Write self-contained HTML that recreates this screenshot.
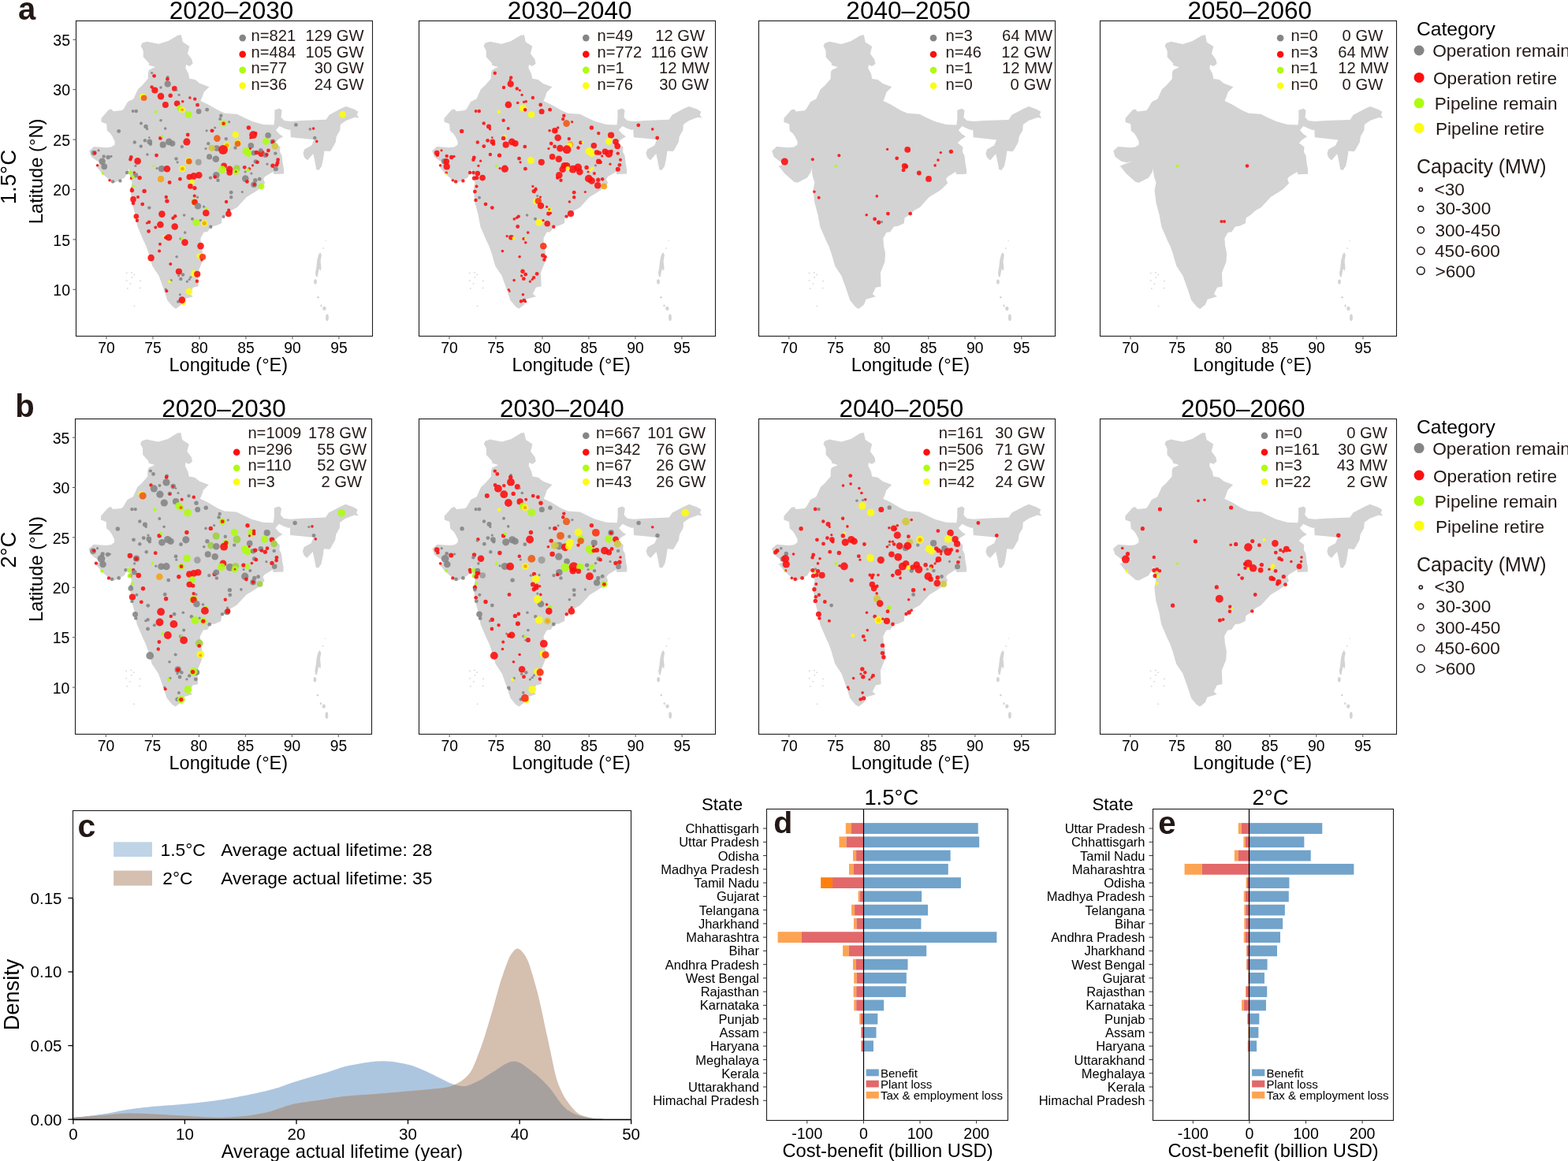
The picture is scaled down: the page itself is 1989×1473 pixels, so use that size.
<!DOCTYPE html>
<html><head><meta charset="utf-8"><title>Figure</title>
<style>html,body{margin:0;padding:0;background:#fff;}svg{display:block;}</style>
</head><body>
<svg width="1989" height="1473" viewBox="0 0 1989 1473" font-family="'Liberation Sans', Arial, Helvetica, sans-serif">
<rect width="1989" height="1473" fill="#fff"/>
<g transform="translate(96.50,26.50)" fill="#d3d3d3">
<path d="M133.4,17.7 L135.3,26.8 L143.8,32.3 L141.4,41.5 L146.9,48.8 L148.1,54.3 L143.8,57.4 L139.5,55.6 L138.9,59.8 L142.6,67.2 L143.8,73.3 L151.1,74.5 L157.3,79.4 L168.9,83.7 L162.1,90.4 L159.7,97.7 L157.9,101.4 L167.0,105.7 L180.5,113.6 L188.8,117.2 L204.0,118.2 L212.2,122.3 L223.4,127.4 L237.6,131.4 L250.9,132.0 L251.9,124.3 L251.9,113.1 L258.0,111.1 L261.1,113.6 L260.0,122.3 L264.1,126.4 L272.3,127.4 L286.5,126.4 L317.1,125.3 L321.1,119.2 L336.4,111.1 L342.5,108.5 L352.7,112.1 L357.8,115.2 L356.3,119.2 L358.8,123.3 L353.7,122.3 L342.5,126.4 L335.4,131.4 L334.9,138.6 L330.3,146.7 L329.3,153.8 L324.2,163.0 L322.2,165.6 L315.0,165.0 L313.5,175.2 L311.5,184.4 L307.9,189.5 L304.8,188.5 L302.3,175.2 L300.8,168.6 L296.7,173.2 L293.6,176.8 L289.6,173.2 L288.0,168.1 L289.6,163.0 L298.7,157.9 L301.8,150.8 L288.6,149.3 L272.3,147.7 L271.8,137.6 L270.2,138.6 L264.1,136.5 L258.0,133.5 L253.4,138.6 L258.0,143.7 L262.6,146.7 L256.0,150.8 L252.4,154.9 L259.0,160.0 L258.5,166.1 L261.1,171.2 L262.1,180.3 L263.6,188.5 L263.6,194.1 L250.9,194.6 L249.9,191.5 L239.7,197.6 L237.6,200.7 L239.7,205.8 L235.6,209.9 L231.5,213.9 L225.4,218.0 L216.3,223.4 L204.5,236.4 L197.3,240.4 L190.5,246.5 L185.1,249.9 L184.4,256.7 L176.9,260.1 L171.5,260.8 L166.8,267.6 L162.0,268.3 L157.9,275.7 L158.6,285.2 L160.6,294.7 L160.0,305.6 L154.5,319.2 L155.2,336.8 L148.4,338.2 L144.4,346.3 L148.4,349.7 L145.7,350.4 L136.2,353.1 L133.5,359.9 L126.7,365.3 L122.6,362.6 L115.8,354.5 L111.8,342.3 L105.0,323.3 L96.8,311.0 L92.1,294.7 L88.7,285.2 L86.0,279.8 L77.8,260.8 L75.1,245.9 L71.0,230.9 L69.0,214.6 L71.0,205.1 L68.3,197.0 L67.0,186.8 L66.3,191.5 L61.5,199.0 L49.3,205.1 L45.2,204.4 L33.0,193.6 L24.9,183.4 L25.3,185.7 L25.9,183.9 L30.2,182.0 L41.2,177.8 L33.8,179.6 L26.5,177.8 L19.2,172.3 L16.7,164.9 L22.8,159.4 L38.1,160.7 L44.8,160.0 L49.1,157.0 L49.1,152.7 L46.0,146.6 L43.6,142.9 L39.3,139.3 L38.7,130.7 L32.0,128.3 L32.0,123.4 L41.2,113.0 L44.8,111.8 L47.3,114.8 L58.3,113.6 L60.7,111.2 L65.6,102.6 L72.9,98.9 L78.4,86.7 L83.9,81.8 L91.3,73.3 L91.3,65.9 L92.5,62.3 L100.4,58.6 L92.5,56.2 L92.5,53.7 L85.2,45.8 L85.2,37.8 L82.1,31.7 L83.9,28.1 L90.0,26.2 L104.7,29.3 L116.9,25.6 L129.1,18.3 Z"/>
<path d="M309.6,293.4 L311.4,296.9 L310.1,304.8 L311.0,312.8 L310.5,317.2 L308.3,314.5 L307.0,320.7 L306.1,325.1 L304.3,324.2 L303.5,319.8 L304.8,312.8 L305.7,304.0 L307.4,296.9 Z"/>
<ellipse cx="303.5" cy="330.9" rx="1.9" ry="3.1"/>
<ellipse cx="307.0" cy="350.7" rx="1.3" ry="1.3"/>
<ellipse cx="314.9" cy="364.8" rx="2.2" ry="2.6"/>
<ellipse cx="318.5" cy="376.3" rx="1.9" ry="4.4"/>
<ellipse cx="311.0" cy="361.3" rx="1.1" ry="1.6"/>
<ellipse cx="313.6" cy="288.5" rx="0.7" ry="1.1"/>
<ellipse cx="316.7" cy="278.8" rx="0.5" ry="0.9"/>
<rect x="63.4" y="319.2" width="1.6" height="1.4"/>
<rect x="69.6" y="318.5" width="1.6" height="1.4"/>
<rect x="72.9" y="321.2" width="1.6" height="1.4"/>
<rect x="70.0" y="324.6" width="1.6" height="1.4"/>
<rect x="63.4" y="328.7" width="1.6" height="1.4"/>
<rect x="68.2" y="332.7" width="1.6" height="1.4"/>
<rect x="80.7" y="329.3" width="1.6" height="1.4"/>
<rect x="64.5" y="338.8" width="1.6" height="1.4"/>
<rect x="80.4" y="338.2" width="1.6" height="1.4"/>
<rect x="73.2" y="361.2" width="1.6" height="1.4"/>
</g>
<g transform="translate(96.50,26.50)">
<circle cx="96.1" cy="66.0" r="1.6" fill="#858585" fill-opacity="0.9"/>
<circle cx="99.1" cy="69.8" r="2.4" fill="#fc0f0f" fill-opacity="0.9"/>
<circle cx="116.2" cy="71.4" r="2.0" fill="#858585" fill-opacity="0.9"/>
<circle cx="115.9" cy="73.9" r="2.4" fill="#fc0f0f" fill-opacity="0.9"/>
<circle cx="116.2" cy="80.1" r="4.1" fill="#858585" fill-opacity="0.9"/>
<circle cx="96.1" cy="83.9" r="2.2" fill="#fc0f0f" fill-opacity="0.9"/>
<circle cx="99.9" cy="88.0" r="4.1" fill="#fc0f0f" fill-opacity="0.9"/>
<circle cx="107.5" cy="84.5" r="1.8" fill="#858585" fill-opacity="0.9"/>
<circle cx="124.8" cy="85.9" r="3.3" fill="#fc0f0f" fill-opacity="0.9"/>
<circle cx="127.6" cy="88.0" r="1.3" fill="#858585" fill-opacity="0.9"/>
<circle cx="107.5" cy="95.6" r="4.3" fill="#fc0f0f" fill-opacity="0.9"/>
<circle cx="119.7" cy="94.8" r="2.7" fill="#fc0f0f" fill-opacity="0.9"/>
<circle cx="130.6" cy="93.9" r="1.6" fill="#858585" fill-opacity="0.9"/>
<circle cx="84.6" cy="95.9" r="3.8" fill="#fcfc12" fill-opacity="0.9"/>
<circle cx="86.1" cy="97.8" r="3.8" fill="#f05a14" fill-opacity="0.9"/>
<circle cx="113.4" cy="106.4" r="4.0" fill="#fc0f0f" fill-opacity="0.9"/>
<circle cx="128.1" cy="104.8" r="3.8" fill="#fc0f0f" fill-opacity="0.9"/>
<circle cx="135.2" cy="102.2" r="1.8" fill="#fc0f0f" fill-opacity="0.9"/>
<circle cx="144.4" cy="97.5" r="1.8" fill="#fc0f0f" fill-opacity="0.9"/>
<circle cx="150.7" cy="99.1" r="2.2" fill="#fc0f0f" fill-opacity="0.9"/>
<circle cx="154.0" cy="106.7" r="2.4" fill="#fc0f0f" fill-opacity="0.9"/>
<circle cx="131.4" cy="110.5" r="3.8" fill="#aefb12" fill-opacity="0.9"/>
<circle cx="134.6" cy="112.7" r="3.8" fill="#fcfc12" fill-opacity="0.9"/>
<circle cx="134.6" cy="112.7" r="2.0" fill="#f5a314" fill-opacity="0.9"/>
<circle cx="142.5" cy="118.9" r="4.3" fill="#aefb12" fill-opacity="0.9"/>
<circle cx="155.6" cy="114.9" r="3.3" fill="#858585" fill-opacity="0.9"/>
<circle cx="166.1" cy="112.7" r="2.4" fill="#858585" fill-opacity="0.9"/>
<circle cx="101.3" cy="115.2" r="2.0" fill="#aefb12" fill-opacity="0.9"/>
<circle cx="72.2" cy="114.5" r="2.0" fill="#858585" fill-opacity="0.9"/>
<circle cx="76.3" cy="114.5" r="2.2" fill="#858585" fill-opacity="0.9"/>
<circle cx="107.5" cy="126.3" r="1.8" fill="#858585" fill-opacity="0.9"/>
<circle cx="82.5" cy="129.9" r="2.0" fill="#858585" fill-opacity="0.9"/>
<circle cx="88.5" cy="133.9" r="2.7" fill="#858585" fill-opacity="0.9"/>
<circle cx="90.1" cy="137.1" r="1.6" fill="#858585" fill-opacity="0.9"/>
<circle cx="113.2" cy="136.6" r="1.8" fill="#858585" fill-opacity="0.9"/>
<circle cx="54.2" cy="139.9" r="2.4" fill="#858585" fill-opacity="0.9"/>
<circle cx="141.7" cy="144.5" r="2.4" fill="#fc0f0f" fill-opacity="0.9"/>
<circle cx="140.4" cy="153.4" r="4.6" fill="#fc0f0f" fill-opacity="0.9"/>
<circle cx="106.9" cy="148.9" r="2.4" fill="#fc0f0f" fill-opacity="0.9"/>
<circle cx="109.1" cy="146.4" r="1.8" fill="#aefb12" fill-opacity="0.9"/>
<circle cx="110.2" cy="157.2" r="4.1" fill="#858585" fill-opacity="0.9"/>
<circle cx="117.8" cy="153.4" r="4.3" fill="#858585" fill-opacity="0.9"/>
<circle cx="122.1" cy="155.6" r="3.8" fill="#858585" fill-opacity="0.9"/>
<circle cx="93.3" cy="153.4" r="3.3" fill="#858585" fill-opacity="0.9"/>
<circle cx="92.8" cy="148.0" r="1.3" fill="#858585" fill-opacity="0.9"/>
<circle cx="94.4" cy="156.2" r="2.2" fill="#858585" fill-opacity="0.9"/>
<circle cx="87.4" cy="151.8" r="2.2" fill="#858585" fill-opacity="0.9"/>
<circle cx="74.3" cy="154.0" r="2.2" fill="#858585" fill-opacity="0.9"/>
<circle cx="82.3" cy="159.1" r="2.2" fill="#858585" fill-opacity="0.9"/>
<circle cx="134.3" cy="159.6" r="2.2" fill="#858585" fill-opacity="0.9"/>
<circle cx="172.3" cy="139.3" r="2.4" fill="#fc0f0f" fill-opacity="0.9"/>
<circle cx="165.6" cy="139.3" r="1.6" fill="#858585" fill-opacity="0.9"/>
<circle cx="167.7" cy="155.6" r="2.2" fill="#858585" fill-opacity="0.9"/>
<circle cx="164.5" cy="162.1" r="1.6" fill="#858585" fill-opacity="0.9"/>
<circle cx="172.1" cy="161.3" r="4.1" fill="#d0c840" fill-opacity="0.9"/>
<circle cx="169.1" cy="172.4" r="3.6" fill="#858585" fill-opacity="0.9"/>
<circle cx="155.3" cy="179.3" r="4.0" fill="#9c9c9c" fill-opacity="0.9"/>
<circle cx="142.8" cy="177.9" r="4.3" fill="#fcfc12" fill-opacity="0.9"/>
<circle cx="143.3" cy="178.2" r="3.8" fill="#f05a14" fill-opacity="0.9"/>
<circle cx="127.0" cy="174.9" r="2.2" fill="#858585" fill-opacity="0.9"/>
<circle cx="128.6" cy="179.3" r="1.6" fill="#858585" fill-opacity="0.9"/>
<circle cx="134.9" cy="187.7" r="4.1" fill="#fcfc12" fill-opacity="0.9"/>
<circle cx="134.9" cy="187.7" r="2.4" fill="#f5a314" fill-opacity="0.9"/>
<circle cx="108.5" cy="187.7" r="4.1" fill="#858585" fill-opacity="0.9"/>
<circle cx="115.4" cy="187.7" r="4.3" fill="#fc0f0f" fill-opacity="0.9"/>
<circle cx="102.6" cy="187.1" r="1.6" fill="#858585" fill-opacity="0.9"/>
<circle cx="98.2" cy="183.8" r="1.6" fill="#aefb12" fill-opacity="0.9"/>
<circle cx="102.0" cy="170.6" r="2.4" fill="#fc0f0f" fill-opacity="0.9"/>
<circle cx="90.4" cy="169.5" r="1.8" fill="#858585" fill-opacity="0.9"/>
<circle cx="69.8" cy="173.0" r="2.4" fill="#fc0f0f" fill-opacity="0.9"/>
<circle cx="68.9" cy="175.7" r="2.2" fill="#fc0f0f" fill-opacity="0.9"/>
<circle cx="78.1" cy="177.9" r="4.3" fill="#fc0f0f" fill-opacity="0.9"/>
<circle cx="75.4" cy="183.8" r="1.6" fill="#858585" fill-opacity="0.9"/>
<circle cx="107.5" cy="200.7" r="4.1" fill="#f5a314" fill-opacity="0.9"/>
<circle cx="131.9" cy="200.7" r="2.4" fill="#fc0f0f" fill-opacity="0.9"/>
<circle cx="118.6" cy="205.0" r="2.4" fill="#fc0f0f" fill-opacity="0.9"/>
<circle cx="143.8" cy="198.0" r="3.8" fill="#fc0f0f" fill-opacity="0.9"/>
<circle cx="149.3" cy="196.9" r="4.3" fill="#fc0f0f" fill-opacity="0.9"/>
<circle cx="155.8" cy="195.8" r="4.3" fill="#fc0f0f" fill-opacity="0.9"/>
<circle cx="147.1" cy="204.5" r="3.3" fill="#fcfc12" fill-opacity="0.9"/>
<circle cx="144.9" cy="209.9" r="3.3" fill="#fc0f0f" fill-opacity="0.9"/>
<circle cx="150.4" cy="212.1" r="2.7" fill="#fc0f0f" fill-opacity="0.9"/>
<circle cx="170.5" cy="199.1" r="2.2" fill="#858585" fill-opacity="0.9"/>
<circle cx="22.7" cy="167.6" r="3.3" fill="#858585" fill-opacity="0.9"/>
<circle cx="23.8" cy="167.6" r="2.2" fill="#fc0f0f" fill-opacity="0.9"/>
<circle cx="28.5" cy="164.3" r="1.6" fill="#858585" fill-opacity="0.9"/>
<circle cx="35.2" cy="171.9" r="2.2" fill="#858585" fill-opacity="0.9"/>
<circle cx="33.1" cy="178.4" r="4.3" fill="#858585" fill-opacity="0.9"/>
<circle cx="35.8" cy="184.9" r="3.8" fill="#858585" fill-opacity="0.9"/>
<circle cx="40.7" cy="173.0" r="2.7" fill="#858585" fill-opacity="0.9"/>
<circle cx="44.5" cy="171.9" r="1.6" fill="#858585" fill-opacity="0.9"/>
<circle cx="27.1" cy="183.3" r="1.8" fill="#fc0f0f" fill-opacity="0.9"/>
<circle cx="34.1" cy="193.6" r="1.8" fill="#aefb12" fill-opacity="0.9"/>
<circle cx="42.6" cy="202.3" r="1.8" fill="#fc0f0f" fill-opacity="0.9"/>
<circle cx="46.6" cy="203.9" r="2.2" fill="#858585" fill-opacity="0.9"/>
<circle cx="55.9" cy="202.9" r="2.2" fill="#858585" fill-opacity="0.9"/>
<circle cx="64.6" cy="192.5" r="2.2" fill="#858585" fill-opacity="0.9"/>
<circle cx="68.9" cy="192.5" r="2.7" fill="#aefb12" fill-opacity="0.9"/>
<circle cx="73.8" cy="192.5" r="1.8" fill="#fc0f0f" fill-opacity="0.9"/>
<circle cx="75.4" cy="195.8" r="3.3" fill="#858585" fill-opacity="0.9"/>
<circle cx="70.0" cy="199.6" r="1.8" fill="#fc0f0f" fill-opacity="0.9"/>
<circle cx="72.2" cy="198.0" r="2.2" fill="#aefb12" fill-opacity="0.9"/>
<circle cx="80.6" cy="199.1" r="2.7" fill="#fc0f0f" fill-opacity="0.9"/>
<circle cx="72.7" cy="209.9" r="1.8" fill="#aefb12" fill-opacity="0.9"/>
<circle cx="70.5" cy="212.6" r="1.3" fill="#fc0f0f" fill-opacity="0.9"/>
<circle cx="183.8" cy="120.3" r="2.2" fill="#858585" fill-opacity="0.9"/>
<circle cx="182.7" cy="124.6" r="2.0" fill="#858585" fill-opacity="0.9"/>
<circle cx="187.1" cy="130.1" r="4.1" fill="#aefb12" fill-opacity="0.9"/>
<circle cx="187.1" cy="130.3" r="2.2" fill="#fc0f0f" fill-opacity="0.9"/>
<circle cx="194.1" cy="128.2" r="1.6" fill="#858585" fill-opacity="0.9"/>
<circle cx="176.2" cy="135.5" r="1.6" fill="#858585" fill-opacity="0.9"/>
<circle cx="173.5" cy="139.3" r="1.6" fill="#fc0f0f" fill-opacity="0.9"/>
<circle cx="218.9" cy="135.5" r="2.7" fill="#fc0f0f" fill-opacity="0.9"/>
<circle cx="224.6" cy="144.7" r="4.9" fill="#fc0f0f" fill-opacity="0.9"/>
<circle cx="227.8" cy="142.6" r="2.2" fill="#fc0f0f" fill-opacity="0.9"/>
<circle cx="221.3" cy="148.5" r="1.6" fill="#fc0f0f" fill-opacity="0.9"/>
<circle cx="202.3" cy="144.5" r="4.3" fill="#fcfc12" fill-opacity="0.9"/>
<circle cx="178.9" cy="149.1" r="4.3" fill="#f05a14" fill-opacity="0.9"/>
<circle cx="190.3" cy="149.6" r="2.2" fill="#858585" fill-opacity="0.9"/>
<circle cx="191.4" cy="158.0" r="4.3" fill="#fcfc12" fill-opacity="0.9"/>
<circle cx="191.4" cy="158.0" r="2.7" fill="#f5a314" fill-opacity="0.9"/>
<circle cx="205.0" cy="155.1" r="4.3" fill="#fcfc12" fill-opacity="0.9"/>
<circle cx="205.0" cy="155.8" r="3.8" fill="#f05a14" fill-opacity="0.9"/>
<circle cx="202.0" cy="161.0" r="2.2" fill="#858585" fill-opacity="0.9"/>
<circle cx="221.8" cy="158.3" r="3.8" fill="#858585" fill-opacity="0.9"/>
<circle cx="220.8" cy="162.1" r="1.6" fill="#fc0f0f" fill-opacity="0.9"/>
<circle cx="178.4" cy="161.6" r="3.8" fill="#858585" fill-opacity="0.9"/>
<circle cx="186.5" cy="163.4" r="6.0" fill="#fc0f0f" fill-opacity="0.9"/>
<circle cx="174.0" cy="161.6" r="2.7" fill="#d0c840" fill-opacity="0.9"/>
<circle cx="243.6" cy="145.3" r="3.8" fill="#858585" fill-opacity="0.9"/>
<circle cx="240.8" cy="152.9" r="4.3" fill="#aefb12" fill-opacity="0.9"/>
<circle cx="249.5" cy="153.4" r="3.3" fill="#858585" fill-opacity="0.9"/>
<circle cx="249.5" cy="153.4" r="2.2" fill="#fc0f0f" fill-opacity="0.9"/>
<circle cx="252.3" cy="158.9" r="4.3" fill="#d0c840" fill-opacity="0.9"/>
<circle cx="215.9" cy="165.4" r="4.9" fill="#aefb12" fill-opacity="0.9"/>
<circle cx="219.1" cy="168.1" r="4.3" fill="#aefb12" fill-opacity="0.9"/>
<circle cx="225.6" cy="167.6" r="3.3" fill="#858585" fill-opacity="0.9"/>
<circle cx="228.9" cy="167.0" r="2.7" fill="#fc0f0f" fill-opacity="0.9"/>
<circle cx="234.9" cy="168.1" r="4.3" fill="#fc0f0f" fill-opacity="0.9"/>
<circle cx="234.3" cy="164.3" r="2.7" fill="#858585" fill-opacity="0.9"/>
<circle cx="240.3" cy="170.3" r="3.3" fill="#858585" fill-opacity="0.9"/>
<circle cx="243.9" cy="164.5" r="2.4" fill="#fc0f0f" fill-opacity="0.9"/>
<circle cx="241.9" cy="169.7" r="2.2" fill="#fc0f0f" fill-opacity="0.9"/>
<circle cx="252.8" cy="168.1" r="2.2" fill="#858585" fill-opacity="0.9"/>
<circle cx="177.3" cy="175.2" r="4.3" fill="#858585" fill-opacity="0.9"/>
<circle cx="227.8" cy="178.4" r="2.7" fill="#858585" fill-opacity="0.9"/>
<circle cx="230.0" cy="179.3" r="2.4" fill="#fc0f0f" fill-opacity="0.9"/>
<circle cx="224.0" cy="183.3" r="1.6" fill="#fc0f0f" fill-opacity="0.9"/>
<circle cx="242.5" cy="181.7" r="1.6" fill="#858585" fill-opacity="0.9"/>
<circle cx="256.1" cy="176.2" r="2.4" fill="#fc0f0f" fill-opacity="0.9"/>
<circle cx="255.5" cy="180.0" r="2.4" fill="#fc0f0f" fill-opacity="0.9"/>
<circle cx="254.4" cy="182.8" r="2.4" fill="#fc0f0f" fill-opacity="0.9"/>
<circle cx="249.5" cy="183.8" r="2.7" fill="#fc0f0f" fill-opacity="0.9"/>
<circle cx="253.3" cy="187.7" r="3.0" fill="#858585" fill-opacity="0.9"/>
<circle cx="187.6" cy="183.8" r="3.8" fill="#fc0f0f" fill-opacity="0.9"/>
<circle cx="185.4" cy="188.7" r="4.9" fill="#aefb12" fill-opacity="0.9"/>
<circle cx="194.7" cy="188.2" r="4.3" fill="#fc0f0f" fill-opacity="0.9"/>
<circle cx="194.7" cy="192.5" r="3.8" fill="#fc0f0f" fill-opacity="0.9"/>
<circle cx="203.9" cy="187.1" r="4.3" fill="#9fd040" fill-opacity="0.9"/>
<circle cx="202.8" cy="191.5" r="3.8" fill="#aefb12" fill-opacity="0.9"/>
<circle cx="202.8" cy="191.2" r="1.3" fill="#fc0f0f" fill-opacity="0.9"/>
<circle cx="213.7" cy="185.8" r="2.4" fill="#fc0f0f" fill-opacity="0.9"/>
<circle cx="219.7" cy="187.7" r="2.0" fill="#fc0f0f" fill-opacity="0.9"/>
<circle cx="218.0" cy="189.3" r="2.4" fill="#aefb12" fill-opacity="0.9"/>
<circle cx="214.6" cy="191.5" r="1.6" fill="#858585" fill-opacity="0.9"/>
<circle cx="222.4" cy="193.6" r="1.6" fill="#858585" fill-opacity="0.9"/>
<circle cx="214.8" cy="200.1" r="4.3" fill="#858585" fill-opacity="0.9"/>
<circle cx="216.9" cy="203.9" r="2.4" fill="#fc0f0f" fill-opacity="0.9"/>
<circle cx="177.8" cy="195.8" r="4.3" fill="#858585" fill-opacity="0.9"/>
<circle cx="176.2" cy="198.0" r="2.2" fill="#fc0f0f" fill-opacity="0.9"/>
<circle cx="180.0" cy="202.3" r="2.2" fill="#858585" fill-opacity="0.9"/>
<circle cx="227.3" cy="202.3" r="2.7" fill="#858585" fill-opacity="0.9"/>
<circle cx="232.7" cy="200.7" r="2.4" fill="#858585" fill-opacity="0.9"/>
<circle cx="225.6" cy="207.7" r="3.8" fill="#858585" fill-opacity="0.9"/>
<circle cx="226.2" cy="207.5" r="2.2" fill="#fc0f0f" fill-opacity="0.9"/>
<circle cx="234.9" cy="209.9" r="3.8" fill="#aefb12" fill-opacity="0.9"/>
<circle cx="278.9" cy="131.9" r="2.4" fill="#858585" fill-opacity="0.9"/>
<circle cx="296.8" cy="137.4" r="1.8" fill="#858585" fill-opacity="0.9"/>
<circle cx="301.1" cy="136.6" r="1.8" fill="#fc0f0f" fill-opacity="0.9"/>
<circle cx="302.8" cy="148.5" r="2.2" fill="#858585" fill-opacity="0.9"/>
<circle cx="305.3" cy="152.9" r="1.8" fill="#fc0f0f" fill-opacity="0.9"/>
<circle cx="338.1" cy="118.9" r="4.3" fill="#fcfc12" fill-opacity="0.9"/>
<circle cx="70.9" cy="215.0" r="2.7" fill="#fc0f0f" fill-opacity="0.9"/>
<circle cx="86.6" cy="215.9" r="2.7" fill="#fc0f0f" fill-opacity="0.9"/>
<circle cx="78.5" cy="223.5" r="2.0" fill="#fc0f0f" fill-opacity="0.9"/>
<circle cx="72.5" cy="226.4" r="3.8" fill="#fc0f0f" fill-opacity="0.9"/>
<circle cx="72.5" cy="231.3" r="2.4" fill="#fc0f0f" fill-opacity="0.9"/>
<circle cx="84.2" cy="232.6" r="2.4" fill="#fc0f0f" fill-opacity="0.9"/>
<circle cx="92.8" cy="237.1" r="2.2" fill="#858585" fill-opacity="0.9"/>
<circle cx="114.3" cy="223.5" r="2.2" fill="#fc0f0f" fill-opacity="0.9"/>
<circle cx="115.4" cy="228.6" r="2.7" fill="#fc0f0f" fill-opacity="0.9"/>
<circle cx="150.2" cy="222.1" r="2.0" fill="#fc0f0f" fill-opacity="0.9"/>
<circle cx="154.0" cy="223.7" r="1.6" fill="#858585" fill-opacity="0.9"/>
<circle cx="150.2" cy="229.7" r="4.3" fill="#aefb12" fill-opacity="0.9"/>
<circle cx="150.5" cy="230.0" r="3.8" fill="#fc0f0f" fill-opacity="0.9"/>
<circle cx="154.5" cy="235.1" r="4.1" fill="#858585" fill-opacity="0.9"/>
<circle cx="162.1" cy="235.7" r="1.6" fill="#858585" fill-opacity="0.9"/>
<circle cx="165.4" cy="238.9" r="2.4" fill="#aefb12" fill-opacity="0.9"/>
<circle cx="164.8" cy="243.8" r="4.3" fill="#fc0f0f" fill-opacity="0.9"/>
<circle cx="196.7" cy="217.7" r="2.4" fill="#858585" fill-opacity="0.9"/>
<circle cx="196.7" cy="223.7" r="2.2" fill="#858585" fill-opacity="0.9"/>
<circle cx="210.8" cy="217.0" r="1.6" fill="#858585" fill-opacity="0.9"/>
<circle cx="190.6" cy="229.5" r="2.2" fill="#fc0f0f" fill-opacity="0.9"/>
<circle cx="193.6" cy="240.0" r="2.0" fill="#fc0f0f" fill-opacity="0.9"/>
<circle cx="193.4" cy="244.9" r="3.8" fill="#fc0f0f" fill-opacity="0.9"/>
<circle cx="187.1" cy="248.5" r="2.0" fill="#858585" fill-opacity="0.9"/>
<circle cx="108.9" cy="245.1" r="4.3" fill="#fc0f0f" fill-opacity="0.9"/>
<circle cx="123.0" cy="250.3" r="2.2" fill="#fc0f0f" fill-opacity="0.9"/>
<circle cx="125.7" cy="247.8" r="2.2" fill="#fc0f0f" fill-opacity="0.9"/>
<circle cx="137.1" cy="246.5" r="1.8" fill="#858585" fill-opacity="0.9"/>
<circle cx="147.5" cy="251.2" r="2.0" fill="#858585" fill-opacity="0.9"/>
<circle cx="152.3" cy="255.8" r="4.6" fill="#aefb12" fill-opacity="0.9"/>
<circle cx="157.8" cy="253.0" r="1.6" fill="#858585" fill-opacity="0.9"/>
<circle cx="162.7" cy="256.8" r="4.1" fill="#fcfc12" fill-opacity="0.9"/>
<circle cx="162.7" cy="256.8" r="2.7" fill="#f5a314" fill-opacity="0.9"/>
<circle cx="170.8" cy="261.2" r="2.2" fill="#858585" fill-opacity="0.9"/>
<circle cx="76.3" cy="248.1" r="3.3" fill="#fc0f0f" fill-opacity="0.9"/>
<circle cx="77.4" cy="253.3" r="2.2" fill="#fc0f0f" fill-opacity="0.9"/>
<circle cx="92.6" cy="255.2" r="2.2" fill="#fc0f0f" fill-opacity="0.9"/>
<circle cx="89.9" cy="256.5" r="1.6" fill="#fc0f0f" fill-opacity="0.9"/>
<circle cx="106.9" cy="258.5" r="4.3" fill="#fc0f0f" fill-opacity="0.9"/>
<circle cx="100.8" cy="262.1" r="2.0" fill="#fc0f0f" fill-opacity="0.9"/>
<circle cx="125.2" cy="261.0" r="4.3" fill="#fc0f0f" fill-opacity="0.9"/>
<circle cx="92.1" cy="266.9" r="2.4" fill="#fc0f0f" fill-opacity="0.9"/>
<circle cx="138.2" cy="268.6" r="1.8" fill="#858585" fill-opacity="0.9"/>
<circle cx="111.1" cy="272.8" r="1.6" fill="#fcfc12" fill-opacity="0.9"/>
<circle cx="117.6" cy="274.8" r="4.3" fill="#fc0f0f" fill-opacity="0.9"/>
<circle cx="113.8" cy="275.0" r="2.2" fill="#fc0f0f" fill-opacity="0.9"/>
<circle cx="132.6" cy="276.4" r="1.6" fill="#858585" fill-opacity="0.9"/>
<circle cx="134.4" cy="276.4" r="2.0" fill="#aefb12" fill-opacity="0.9"/>
<circle cx="138.0" cy="281.1" r="4.3" fill="#fc0f0f" fill-opacity="0.9"/>
<circle cx="106.5" cy="283.2" r="2.0" fill="#fc0f0f" fill-opacity="0.9"/>
<circle cx="105.6" cy="292.1" r="2.0" fill="#fc0f0f" fill-opacity="0.9"/>
<circle cx="158.0" cy="285.6" r="4.3" fill="#fc0f0f" fill-opacity="0.9"/>
<circle cx="127.6" cy="299.2" r="1.8" fill="#858585" fill-opacity="0.9"/>
<circle cx="95.1" cy="300.6" r="4.3" fill="#fc0f0f" fill-opacity="0.9"/>
<circle cx="156.7" cy="298.1" r="3.8" fill="#fcfc12" fill-opacity="0.9"/>
<circle cx="160.5" cy="299.5" r="4.1" fill="#ff3010" fill-opacity="0.9"/>
<circle cx="159.4" cy="303.5" r="1.6" fill="#fc0f0f" fill-opacity="0.9"/>
<circle cx="119.8" cy="308.4" r="2.0" fill="#fc0f0f" fill-opacity="0.9"/>
<circle cx="130.4" cy="318.0" r="4.1" fill="#fc0f0f" fill-opacity="0.9"/>
<circle cx="130.1" cy="323.1" r="1.6" fill="#858585" fill-opacity="0.9"/>
<circle cx="135.5" cy="322.0" r="2.2" fill="#858585" fill-opacity="0.9"/>
<circle cx="132.8" cy="327.4" r="2.2" fill="#858585" fill-opacity="0.9"/>
<circle cx="149.6" cy="320.4" r="4.1" fill="#fcfc12" fill-opacity="0.9"/>
<circle cx="153.7" cy="321.3" r="4.1" fill="#fc0f0f" fill-opacity="0.9"/>
<circle cx="145.3" cy="325.3" r="1.6" fill="#858585" fill-opacity="0.9"/>
<circle cx="143.7" cy="328.0" r="1.6" fill="#858585" fill-opacity="0.9"/>
<circle cx="140.9" cy="330.7" r="1.6" fill="#858585" fill-opacity="0.9"/>
<circle cx="153.4" cy="330.2" r="2.2" fill="#fc0f0f" fill-opacity="0.9"/>
<circle cx="120.6" cy="329.1" r="1.6" fill="#858585" fill-opacity="0.9"/>
<circle cx="118.5" cy="330.7" r="2.0" fill="#fcfc12" fill-opacity="0.9"/>
<circle cx="113.8" cy="340.5" r="1.6" fill="#858585" fill-opacity="0.9"/>
<circle cx="114.9" cy="342.7" r="2.0" fill="#fc0f0f" fill-opacity="0.9"/>
<circle cx="143.4" cy="343.2" r="4.3" fill="#fcfc12" fill-opacity="0.9"/>
<circle cx="131.9" cy="347.3" r="1.6" fill="#858585" fill-opacity="0.9"/>
<circle cx="129.5" cy="356.2" r="2.0" fill="#858585" fill-opacity="0.9"/>
<circle cx="136.1" cy="357.3" r="3.3" fill="#fcfc12" fill-opacity="0.9"/>
<circle cx="134.4" cy="354.1" r="4.3" fill="#fc0f0f" fill-opacity="0.9"/>
</g>
<rect x="96.50" y="26.50" width="376" height="400" fill="none" stroke="#1e1e1e" stroke-width="1.1"/>
<line x1="134.95" y1="426.30" x2="134.95" y2="430.30" stroke="#555" stroke-width="1"/>
<text x="134.9" y="448.3" font-size="19.3" text-anchor="middle" fill="#000">70</text>
<line x1="193.95" y1="426.30" x2="193.95" y2="430.30" stroke="#555" stroke-width="1"/>
<text x="193.9" y="448.3" font-size="19.3" text-anchor="middle" fill="#000">75</text>
<line x1="252.95" y1="426.30" x2="252.95" y2="430.30" stroke="#555" stroke-width="1"/>
<text x="252.9" y="448.3" font-size="19.3" text-anchor="middle" fill="#000">80</text>
<line x1="311.95" y1="426.30" x2="311.95" y2="430.30" stroke="#555" stroke-width="1"/>
<text x="311.9" y="448.3" font-size="19.3" text-anchor="middle" fill="#000">85</text>
<line x1="370.95" y1="426.30" x2="370.95" y2="430.30" stroke="#555" stroke-width="1"/>
<text x="370.9" y="448.3" font-size="19.3" text-anchor="middle" fill="#000">90</text>
<line x1="429.95" y1="426.30" x2="429.95" y2="430.30" stroke="#555" stroke-width="1"/>
<text x="429.9" y="448.3" font-size="19.3" text-anchor="middle" fill="#000">95</text>
<line x1="92.50" y1="367.30" x2="96.50" y2="367.30" stroke="#555" stroke-width="1"/>
<text x="89.0" y="374.9" font-size="19.5" text-anchor="end" fill="#000">10</text>
<line x1="92.50" y1="303.90" x2="96.50" y2="303.90" stroke="#555" stroke-width="1"/>
<text x="89.0" y="311.5" font-size="19.5" text-anchor="end" fill="#000">15</text>
<line x1="92.50" y1="240.50" x2="96.50" y2="240.50" stroke="#555" stroke-width="1"/>
<text x="89.0" y="248.1" font-size="19.5" text-anchor="end" fill="#000">20</text>
<line x1="92.50" y1="177.10" x2="96.50" y2="177.10" stroke="#555" stroke-width="1"/>
<text x="89.0" y="184.7" font-size="19.5" text-anchor="end" fill="#000">25</text>
<line x1="92.50" y1="113.70" x2="96.50" y2="113.70" stroke="#555" stroke-width="1"/>
<text x="89.0" y="121.3" font-size="19.5" text-anchor="end" fill="#000">30</text>
<line x1="92.50" y1="50.30" x2="96.50" y2="50.30" stroke="#555" stroke-width="1"/>
<text x="89.0" y="57.9" font-size="19.5" text-anchor="end" fill="#000">35</text>
<text x="293.5" y="23.9" font-size="31.5" text-anchor="middle" fill="#000">2020–2030</text>
<text x="289.8" y="470.9" font-size="23.5" text-anchor="middle" fill="#000">Longitude (°E)</text>
<circle cx="307.7" cy="48.1" r="4.3" fill="#858585"/>
<text x="318.5" y="51.9" font-size="20.2" text-anchor="start" fill="#231815">n=821</text>
<text x="461.5" y="51.9" font-size="20.2" text-anchor="end" fill="#231815">129 GW</text>
<circle cx="307.7" cy="68.9" r="4.3" fill="#fc0f0f"/>
<text x="318.5" y="72.8" font-size="20.2" text-anchor="start" fill="#231815">n=484</text>
<text x="461.5" y="72.8" font-size="20.2" text-anchor="end" fill="#231815">105 GW</text>
<circle cx="307.7" cy="88.9" r="4.3" fill="#aefb12"/>
<text x="318.5" y="92.5" font-size="20.2" text-anchor="start" fill="#231815">n=77</text>
<text x="461.5" y="92.5" font-size="20.2" text-anchor="end" fill="#231815">30 GW</text>
<circle cx="307.7" cy="108.6" r="4.3" fill="#fcfc12"/>
<text x="318.5" y="113.7" font-size="20.2" text-anchor="start" fill="#231815">n=36</text>
<text x="461.5" y="113.7" font-size="20.2" text-anchor="end" fill="#231815">24 GW</text>
<g transform="translate(531.50,26.50)" fill="#d3d3d3">
<path d="M133.4,17.7 L135.3,26.8 L143.8,32.3 L141.4,41.5 L146.9,48.8 L148.1,54.3 L143.8,57.4 L139.5,55.6 L138.9,59.8 L142.6,67.2 L143.8,73.3 L151.1,74.5 L157.3,79.4 L168.9,83.7 L162.1,90.4 L159.7,97.7 L157.9,101.4 L167.0,105.7 L180.5,113.6 L188.8,117.2 L204.0,118.2 L212.2,122.3 L223.4,127.4 L237.6,131.4 L250.9,132.0 L251.9,124.3 L251.9,113.1 L258.0,111.1 L261.1,113.6 L260.0,122.3 L264.1,126.4 L272.3,127.4 L286.5,126.4 L317.1,125.3 L321.1,119.2 L336.4,111.1 L342.5,108.5 L352.7,112.1 L357.8,115.2 L356.3,119.2 L358.8,123.3 L353.7,122.3 L342.5,126.4 L335.4,131.4 L334.9,138.6 L330.3,146.7 L329.3,153.8 L324.2,163.0 L322.2,165.6 L315.0,165.0 L313.5,175.2 L311.5,184.4 L307.9,189.5 L304.8,188.5 L302.3,175.2 L300.8,168.6 L296.7,173.2 L293.6,176.8 L289.6,173.2 L288.0,168.1 L289.6,163.0 L298.7,157.9 L301.8,150.8 L288.6,149.3 L272.3,147.7 L271.8,137.6 L270.2,138.6 L264.1,136.5 L258.0,133.5 L253.4,138.6 L258.0,143.7 L262.6,146.7 L256.0,150.8 L252.4,154.9 L259.0,160.0 L258.5,166.1 L261.1,171.2 L262.1,180.3 L263.6,188.5 L263.6,194.1 L250.9,194.6 L249.9,191.5 L239.7,197.6 L237.6,200.7 L239.7,205.8 L235.6,209.9 L231.5,213.9 L225.4,218.0 L216.3,223.4 L204.5,236.4 L197.3,240.4 L190.5,246.5 L185.1,249.9 L184.4,256.7 L176.9,260.1 L171.5,260.8 L166.8,267.6 L162.0,268.3 L157.9,275.7 L158.6,285.2 L160.6,294.7 L160.0,305.6 L154.5,319.2 L155.2,336.8 L148.4,338.2 L144.4,346.3 L148.4,349.7 L145.7,350.4 L136.2,353.1 L133.5,359.9 L126.7,365.3 L122.6,362.6 L115.8,354.5 L111.8,342.3 L105.0,323.3 L96.8,311.0 L92.1,294.7 L88.7,285.2 L86.0,279.8 L77.8,260.8 L75.1,245.9 L71.0,230.9 L69.0,214.6 L71.0,205.1 L68.3,197.0 L67.0,186.8 L66.3,191.5 L61.5,199.0 L49.3,205.1 L45.2,204.4 L33.0,193.6 L24.9,183.4 L25.3,185.7 L25.9,183.9 L30.2,182.0 L41.2,177.8 L33.8,179.6 L26.5,177.8 L19.2,172.3 L16.7,164.9 L22.8,159.4 L38.1,160.7 L44.8,160.0 L49.1,157.0 L49.1,152.7 L46.0,146.6 L43.6,142.9 L39.3,139.3 L38.7,130.7 L32.0,128.3 L32.0,123.4 L41.2,113.0 L44.8,111.8 L47.3,114.8 L58.3,113.6 L60.7,111.2 L65.6,102.6 L72.9,98.9 L78.4,86.7 L83.9,81.8 L91.3,73.3 L91.3,65.9 L92.5,62.3 L100.4,58.6 L92.5,56.2 L92.5,53.7 L85.2,45.8 L85.2,37.8 L82.1,31.7 L83.9,28.1 L90.0,26.2 L104.7,29.3 L116.9,25.6 L129.1,18.3 Z"/>
<path d="M309.6,293.4 L311.4,296.9 L310.1,304.8 L311.0,312.8 L310.5,317.2 L308.3,314.5 L307.0,320.7 L306.1,325.1 L304.3,324.2 L303.5,319.8 L304.8,312.8 L305.7,304.0 L307.4,296.9 Z"/>
<ellipse cx="303.5" cy="330.9" rx="1.9" ry="3.1"/>
<ellipse cx="307.0" cy="350.7" rx="1.3" ry="1.3"/>
<ellipse cx="314.9" cy="364.8" rx="2.2" ry="2.6"/>
<ellipse cx="318.5" cy="376.3" rx="1.9" ry="4.4"/>
<ellipse cx="311.0" cy="361.3" rx="1.1" ry="1.6"/>
<ellipse cx="313.6" cy="288.5" rx="0.7" ry="1.1"/>
<ellipse cx="316.7" cy="278.8" rx="0.5" ry="0.9"/>
<rect x="63.4" y="319.2" width="1.6" height="1.4"/>
<rect x="69.6" y="318.5" width="1.6" height="1.4"/>
<rect x="72.9" y="321.2" width="1.6" height="1.4"/>
<rect x="70.0" y="324.6" width="1.6" height="1.4"/>
<rect x="63.4" y="328.7" width="1.6" height="1.4"/>
<rect x="68.2" y="332.7" width="1.6" height="1.4"/>
<rect x="80.7" y="329.3" width="1.6" height="1.4"/>
<rect x="64.5" y="338.8" width="1.6" height="1.4"/>
<rect x="80.4" y="338.2" width="1.6" height="1.4"/>
<rect x="73.2" y="361.2" width="1.6" height="1.4"/>
</g>
<g transform="translate(531.50,26.50)">
<circle cx="96.3" cy="66.3" r="2.2" fill="#fc0f0f" fill-opacity="0.9"/>
<circle cx="116.7" cy="72.0" r="2.2" fill="#fc0f0f" fill-opacity="0.9"/>
<circle cx="115.6" cy="75.2" r="1.6" fill="#fc0f0f" fill-opacity="0.9"/>
<circle cx="116.2" cy="80.1" r="4.1" fill="#fc0f0f" fill-opacity="0.9"/>
<circle cx="107.5" cy="84.5" r="2.2" fill="#fc0f0f" fill-opacity="0.9"/>
<circle cx="124.3" cy="85.9" r="2.2" fill="#fc0f0f" fill-opacity="0.9"/>
<circle cx="127.8" cy="88.0" r="1.6" fill="#fc0f0f" fill-opacity="0.9"/>
<circle cx="130.6" cy="93.9" r="1.6" fill="#fc0f0f" fill-opacity="0.9"/>
<circle cx="144.4" cy="97.5" r="2.2" fill="#fc0f0f" fill-opacity="0.9"/>
<circle cx="113.4" cy="106.4" r="4.3" fill="#fc0f0f" fill-opacity="0.9"/>
<circle cx="125.2" cy="104.0" r="1.8" fill="#fc0f0f" fill-opacity="0.9"/>
<circle cx="133.0" cy="102.9" r="1.6" fill="#fc0f0f" fill-opacity="0.9"/>
<circle cx="135.7" cy="102.2" r="1.8" fill="#fc0f0f" fill-opacity="0.9"/>
<circle cx="131.9" cy="110.5" r="4.6" fill="#fcfc12" fill-opacity="0.9"/>
<circle cx="134.6" cy="112.7" r="2.2" fill="#fc0f0f" fill-opacity="0.9"/>
<circle cx="142.5" cy="118.9" r="4.3" fill="#fcfc12" fill-opacity="0.9"/>
<circle cx="154.2" cy="106.5" r="2.4" fill="#fc0f0f" fill-opacity="0.9"/>
<circle cx="155.6" cy="114.9" r="3.5" fill="#fc0f0f" fill-opacity="0.9"/>
<circle cx="166.1" cy="112.7" r="2.4" fill="#fc0f0f" fill-opacity="0.9"/>
<circle cx="101.3" cy="115.2" r="2.2" fill="#fcfc12" fill-opacity="0.9"/>
<circle cx="72.2" cy="114.5" r="2.0" fill="#fc0f0f" fill-opacity="0.9"/>
<circle cx="76.3" cy="114.5" r="2.2" fill="#fc0f0f" fill-opacity="0.9"/>
<circle cx="107.1" cy="126.3" r="2.2" fill="#fc0f0f" fill-opacity="0.9"/>
<circle cx="82.2" cy="129.9" r="2.2" fill="#fc0f0f" fill-opacity="0.9"/>
<circle cx="88.5" cy="133.9" r="3.0" fill="#fc0f0f" fill-opacity="0.9"/>
<circle cx="90.1" cy="137.4" r="1.6" fill="#fc0f0f" fill-opacity="0.9"/>
<circle cx="113.2" cy="136.6" r="2.0" fill="#fc0f0f" fill-opacity="0.9"/>
<circle cx="54.2" cy="139.9" r="2.7" fill="#fc0f0f" fill-opacity="0.9"/>
<circle cx="109.1" cy="146.0" r="2.0" fill="#fcfc12" fill-opacity="0.9"/>
<circle cx="107.1" cy="148.9" r="2.7" fill="#fc0f0f" fill-opacity="0.9"/>
<circle cx="110.2" cy="157.2" r="4.1" fill="#fc0f0f" fill-opacity="0.9"/>
<circle cx="117.8" cy="153.4" r="4.3" fill="#fc0f0f" fill-opacity="0.9"/>
<circle cx="122.1" cy="155.6" r="4.1" fill="#fc0f0f" fill-opacity="0.9"/>
<circle cx="93.3" cy="153.4" r="3.3" fill="#fc0f0f" fill-opacity="0.9"/>
<circle cx="92.8" cy="148.0" r="1.3" fill="#fc0f0f" fill-opacity="0.9"/>
<circle cx="94.4" cy="156.2" r="2.4" fill="#fc0f0f" fill-opacity="0.9"/>
<circle cx="87.1" cy="151.8" r="2.4" fill="#fc0f0f" fill-opacity="0.9"/>
<circle cx="74.3" cy="154.0" r="2.2" fill="#fc0f0f" fill-opacity="0.9"/>
<circle cx="82.3" cy="159.1" r="2.4" fill="#fc0f0f" fill-opacity="0.9"/>
<circle cx="134.3" cy="159.6" r="2.4" fill="#fc0f0f" fill-opacity="0.9"/>
<circle cx="165.6" cy="139.3" r="1.8" fill="#fc0f0f" fill-opacity="0.9"/>
<circle cx="172.3" cy="139.3" r="3.8" fill="#fc0f0f" fill-opacity="0.9"/>
<circle cx="167.7" cy="155.6" r="2.4" fill="#fc0f0f" fill-opacity="0.9"/>
<circle cx="172.1" cy="159.4" r="2.4" fill="#fc0f0f" fill-opacity="0.9"/>
<circle cx="164.5" cy="162.1" r="1.6" fill="#fc0f0f" fill-opacity="0.9"/>
<circle cx="169.1" cy="172.4" r="3.8" fill="#fc0f0f" fill-opacity="0.9"/>
<circle cx="90.4" cy="169.5" r="2.2" fill="#fc0f0f" fill-opacity="0.9"/>
<circle cx="102.0" cy="170.6" r="2.7" fill="#fc0f0f" fill-opacity="0.9"/>
<circle cx="69.8" cy="173.5" r="2.4" fill="#fc0f0f" fill-opacity="0.9"/>
<circle cx="68.9" cy="176.2" r="2.2" fill="#fc0f0f" fill-opacity="0.9"/>
<circle cx="78.1" cy="177.7" r="1.6" fill="#fc0f0f" fill-opacity="0.9"/>
<circle cx="75.4" cy="183.8" r="1.6" fill="#fc0f0f" fill-opacity="0.9"/>
<circle cx="98.2" cy="183.8" r="1.8" fill="#aefb12" fill-opacity="0.9"/>
<circle cx="102.6" cy="187.1" r="1.6" fill="#fc0f0f" fill-opacity="0.9"/>
<circle cx="108.9" cy="187.7" r="4.6" fill="#fc0f0f" fill-opacity="0.9"/>
<circle cx="127.0" cy="174.6" r="2.4" fill="#fc0f0f" fill-opacity="0.9"/>
<circle cx="128.6" cy="179.3" r="1.6" fill="#fc0f0f" fill-opacity="0.9"/>
<circle cx="141.9" cy="177.1" r="4.6" fill="#fcfc12" fill-opacity="0.9"/>
<circle cx="155.3" cy="179.3" r="4.1" fill="#fc0f0f" fill-opacity="0.9"/>
<circle cx="134.9" cy="187.7" r="2.4" fill="#fc0f0f" fill-opacity="0.9"/>
<circle cx="22.7" cy="167.6" r="3.3" fill="#fc0f0f" fill-opacity="0.9"/>
<circle cx="23.3" cy="170.3" r="2.2" fill="#fc0f0f" fill-opacity="0.9"/>
<circle cx="28.5" cy="164.3" r="1.6" fill="#fc0f0f" fill-opacity="0.9"/>
<circle cx="35.2" cy="171.4" r="2.2" fill="#fc0f0f" fill-opacity="0.9"/>
<circle cx="41.2" cy="173.0" r="2.7" fill="#fc0f0f" fill-opacity="0.9"/>
<circle cx="44.5" cy="171.9" r="1.6" fill="#fc0f0f" fill-opacity="0.9"/>
<circle cx="32.0" cy="178.2" r="3.8" fill="#858585" fill-opacity="0.9"/>
<circle cx="34.7" cy="178.4" r="3.8" fill="#fc0f0f" fill-opacity="0.9"/>
<circle cx="35.2" cy="184.9" r="4.1" fill="#fc0f0f" fill-opacity="0.9"/>
<circle cx="27.1" cy="183.3" r="1.8" fill="#fc0f0f" fill-opacity="0.9"/>
<circle cx="34.7" cy="192.8" r="1.8" fill="#fc0f0f" fill-opacity="0.9"/>
<circle cx="34.1" cy="194.2" r="1.3" fill="#fcfc12" fill-opacity="0.9"/>
<circle cx="42.8" cy="202.3" r="1.8" fill="#fc0f0f" fill-opacity="0.9"/>
<circle cx="46.6" cy="203.9" r="2.2" fill="#fc0f0f" fill-opacity="0.9"/>
<circle cx="55.9" cy="202.9" r="2.2" fill="#fc0f0f" fill-opacity="0.9"/>
<circle cx="64.6" cy="192.5" r="2.2" fill="#fc0f0f" fill-opacity="0.9"/>
<circle cx="68.9" cy="192.5" r="2.2" fill="#fc0f0f" fill-opacity="0.9"/>
<circle cx="74.3" cy="193.6" r="3.3" fill="#fc0f0f" fill-opacity="0.9"/>
<circle cx="70.0" cy="199.6" r="2.7" fill="#fc0f0f" fill-opacity="0.9"/>
<circle cx="73.2" cy="199.1" r="2.7" fill="#fc0f0f" fill-opacity="0.9"/>
<circle cx="80.6" cy="199.1" r="3.8" fill="#fc0f0f" fill-opacity="0.9"/>
<circle cx="73.0" cy="209.9" r="2.0" fill="#fc0f0f" fill-opacity="0.9"/>
<circle cx="144.4" cy="209.9" r="1.6" fill="#fc0f0f" fill-opacity="0.9"/>
<circle cx="148.2" cy="212.6" r="1.6" fill="#fc0f0f" fill-opacity="0.9"/>
<circle cx="183.8" cy="120.3" r="2.2" fill="#fc0f0f" fill-opacity="0.9"/>
<circle cx="182.7" cy="124.6" r="2.2" fill="#fc0f0f" fill-opacity="0.9"/>
<circle cx="187.1" cy="130.1" r="4.3" fill="#f05a14" fill-opacity="0.9"/>
<circle cx="194.1" cy="128.2" r="1.6" fill="#fc0f0f" fill-opacity="0.9"/>
<circle cx="176.2" cy="135.5" r="1.8" fill="#fc0f0f" fill-opacity="0.9"/>
<circle cx="173.5" cy="139.3" r="1.8" fill="#fc0f0f" fill-opacity="0.9"/>
<circle cx="218.9" cy="135.5" r="2.7" fill="#fc0f0f" fill-opacity="0.9"/>
<circle cx="227.8" cy="142.6" r="2.2" fill="#fc0f0f" fill-opacity="0.9"/>
<circle cx="243.6" cy="145.0" r="4.1" fill="#fc0f0f" fill-opacity="0.9"/>
<circle cx="240.8" cy="152.9" r="4.3" fill="#fcfc12" fill-opacity="0.9"/>
<circle cx="249.5" cy="153.4" r="3.8" fill="#fc0f0f" fill-opacity="0.9"/>
<circle cx="251.7" cy="158.9" r="3.8" fill="#fc0f0f" fill-opacity="0.9"/>
<circle cx="190.3" cy="149.6" r="2.2" fill="#fc0f0f" fill-opacity="0.9"/>
<circle cx="176.2" cy="148.2" r="4.3" fill="#fc0f0f" fill-opacity="0.9"/>
<circle cx="192.0" cy="156.7" r="3.8" fill="#f5a314" fill-opacity="0.9"/>
<circle cx="190.9" cy="157.8" r="3.3" fill="#fcfc12" fill-opacity="0.9"/>
<circle cx="205.0" cy="154.5" r="2.4" fill="#fc0f0f" fill-opacity="0.9"/>
<circle cx="207.7" cy="154.0" r="1.6" fill="#fcfc12" fill-opacity="0.9"/>
<circle cx="202.0" cy="161.0" r="2.2" fill="#fc0f0f" fill-opacity="0.9"/>
<circle cx="221.8" cy="158.3" r="3.8" fill="#fc0f0f" fill-opacity="0.9"/>
<circle cx="178.9" cy="161.6" r="4.3" fill="#fc0f0f" fill-opacity="0.9"/>
<circle cx="187.6" cy="163.2" r="5.4" fill="#fc0f0f" fill-opacity="0.9"/>
<circle cx="215.9" cy="165.4" r="4.9" fill="#fcfc12" fill-opacity="0.9"/>
<circle cx="219.1" cy="168.1" r="4.3" fill="#fcfc12" fill-opacity="0.9"/>
<circle cx="225.6" cy="167.0" r="3.3" fill="#fc0f0f" fill-opacity="0.9"/>
<circle cx="228.9" cy="167.6" r="2.7" fill="#fc0f0f" fill-opacity="0.9"/>
<circle cx="236.0" cy="165.9" r="3.8" fill="#fc0f0f" fill-opacity="0.9"/>
<circle cx="240.8" cy="168.6" r="4.9" fill="#fc0f0f" fill-opacity="0.9"/>
<circle cx="244.1" cy="165.4" r="2.2" fill="#fc0f0f" fill-opacity="0.9"/>
<circle cx="232.2" cy="171.4" r="1.6" fill="#fc0f0f" fill-opacity="0.9"/>
<circle cx="252.3" cy="168.1" r="2.2" fill="#fc0f0f" fill-opacity="0.9"/>
<circle cx="177.3" cy="175.2" r="4.3" fill="#fc0f0f" fill-opacity="0.9"/>
<circle cx="227.8" cy="178.4" r="3.3" fill="#fc0f0f" fill-opacity="0.9"/>
<circle cx="230.0" cy="179.3" r="2.4" fill="#fc0f0f" fill-opacity="0.9"/>
<circle cx="224.0" cy="183.3" r="1.6" fill="#858585" fill-opacity="0.9"/>
<circle cx="242.5" cy="181.7" r="1.6" fill="#fc0f0f" fill-opacity="0.9"/>
<circle cx="255.5" cy="176.2" r="2.0" fill="#fc0f0f" fill-opacity="0.9"/>
<circle cx="254.4" cy="182.8" r="2.4" fill="#fc0f0f" fill-opacity="0.9"/>
<circle cx="252.3" cy="188.2" r="3.0" fill="#fc0f0f" fill-opacity="0.9"/>
<circle cx="184.4" cy="183.8" r="4.3" fill="#fc0f0f" fill-opacity="0.9"/>
<circle cx="187.6" cy="183.8" r="4.3" fill="#fc0f0f" fill-opacity="0.9"/>
<circle cx="182.2" cy="188.2" r="4.3" fill="#fc0f0f" fill-opacity="0.9"/>
<circle cx="195.2" cy="188.2" r="4.9" fill="#fc0f0f" fill-opacity="0.9"/>
<circle cx="201.7" cy="186.0" r="4.9" fill="#fc0f0f" fill-opacity="0.9"/>
<circle cx="203.9" cy="191.5" r="4.3" fill="#fc0f0f" fill-opacity="0.9"/>
<circle cx="188.7" cy="187.1" r="2.7" fill="#fcfc12" fill-opacity="0.9"/>
<circle cx="212.6" cy="186.0" r="2.7" fill="#fc0f0f" fill-opacity="0.9"/>
<circle cx="219.7" cy="187.1" r="2.2" fill="#fcfc12" fill-opacity="0.9"/>
<circle cx="217.5" cy="189.8" r="2.0" fill="#fcfc12" fill-opacity="0.9"/>
<circle cx="214.6" cy="191.5" r="1.6" fill="#fc0f0f" fill-opacity="0.9"/>
<circle cx="222.4" cy="193.6" r="2.0" fill="#fc0f0f" fill-opacity="0.9"/>
<circle cx="215.3" cy="200.1" r="4.9" fill="#fc0f0f" fill-opacity="0.9"/>
<circle cx="219.1" cy="202.9" r="4.3" fill="#fc0f0f" fill-opacity="0.9"/>
<circle cx="177.8" cy="195.8" r="4.3" fill="#fc0f0f" fill-opacity="0.9"/>
<circle cx="175.7" cy="199.1" r="2.2" fill="#fc0f0f" fill-opacity="0.9"/>
<circle cx="180.0" cy="202.3" r="2.2" fill="#fc0f0f" fill-opacity="0.9"/>
<circle cx="227.3" cy="201.8" r="2.7" fill="#fc0f0f" fill-opacity="0.9"/>
<circle cx="232.7" cy="200.7" r="2.2" fill="#fc0f0f" fill-opacity="0.9"/>
<circle cx="226.7" cy="208.8" r="4.3" fill="#fc0f0f" fill-opacity="0.9"/>
<circle cx="234.9" cy="209.9" r="3.8" fill="#f5a314" fill-opacity="0.9"/>
<circle cx="278.3" cy="132.3" r="2.4" fill="#fc0f0f" fill-opacity="0.9"/>
<circle cx="296.2" cy="137.4" r="1.8" fill="#fc0f0f" fill-opacity="0.9"/>
<circle cx="302.2" cy="148.5" r="2.4" fill="#fc0f0f" fill-opacity="0.9"/>
<circle cx="70.9" cy="216.6" r="2.4" fill="#fc0f0f" fill-opacity="0.9"/>
<circle cx="76.5" cy="224.3" r="2.0" fill="#858585" fill-opacity="0.9"/>
<circle cx="72.0" cy="227.5" r="2.2" fill="#fc0f0f" fill-opacity="0.9"/>
<circle cx="84.5" cy="232.6" r="2.4" fill="#fc0f0f" fill-opacity="0.9"/>
<circle cx="92.8" cy="237.1" r="2.4" fill="#fc0f0f" fill-opacity="0.9"/>
<circle cx="145.8" cy="216.1" r="2.7" fill="#fc0f0f" fill-opacity="0.9"/>
<circle cx="148.0" cy="213.9" r="2.2" fill="#fc0f0f" fill-opacity="0.9"/>
<circle cx="150.2" cy="222.1" r="1.6" fill="#858585" fill-opacity="0.9"/>
<circle cx="154.0" cy="223.5" r="1.6" fill="#fc0f0f" fill-opacity="0.9"/>
<circle cx="148.0" cy="229.1" r="3.8" fill="#fcfc12" fill-opacity="0.9"/>
<circle cx="151.3" cy="228.6" r="4.1" fill="#ff3010" fill-opacity="0.9"/>
<circle cx="154.5" cy="234.6" r="4.1" fill="#fc0f0f" fill-opacity="0.9"/>
<circle cx="162.1" cy="235.9" r="1.6" fill="#fc0f0f" fill-opacity="0.9"/>
<circle cx="165.4" cy="239.5" r="2.7" fill="#fcfc12" fill-opacity="0.9"/>
<circle cx="165.2" cy="239.1" r="1.6" fill="#f05a14" fill-opacity="0.9"/>
<circle cx="164.3" cy="244.6" r="2.7" fill="#fc0f0f" fill-opacity="0.9"/>
<circle cx="167.0" cy="243.8" r="1.6" fill="#fc0f0f" fill-opacity="0.9"/>
<circle cx="196.7" cy="217.7" r="2.4" fill="#fc0f0f" fill-opacity="0.9"/>
<circle cx="196.7" cy="223.7" r="2.2" fill="#fc0f0f" fill-opacity="0.9"/>
<circle cx="210.8" cy="217.0" r="1.6" fill="#fc0f0f" fill-opacity="0.9"/>
<circle cx="190.9" cy="229.5" r="1.8" fill="#fc0f0f" fill-opacity="0.9"/>
<circle cx="192.5" cy="244.6" r="4.1" fill="#fc0f0f" fill-opacity="0.9"/>
<circle cx="187.1" cy="248.1" r="2.2" fill="#fc0f0f" fill-opacity="0.9"/>
<circle cx="137.1" cy="246.5" r="1.8" fill="#858585" fill-opacity="0.9"/>
<circle cx="147.5" cy="251.2" r="2.0" fill="#858585" fill-opacity="0.9"/>
<circle cx="152.3" cy="255.8" r="4.6" fill="#fcfc12" fill-opacity="0.9"/>
<circle cx="157.6" cy="253.0" r="1.6" fill="#fc0f0f" fill-opacity="0.9"/>
<circle cx="162.7" cy="257.2" r="3.8" fill="#fc0f0f" fill-opacity="0.9"/>
<circle cx="170.8" cy="261.2" r="2.2" fill="#fc0f0f" fill-opacity="0.9"/>
<circle cx="120.8" cy="251.4" r="1.8" fill="#fc0f0f" fill-opacity="0.9"/>
<circle cx="124.1" cy="249.8" r="1.8" fill="#fc0f0f" fill-opacity="0.9"/>
<circle cx="126.3" cy="248.1" r="2.2" fill="#fc0f0f" fill-opacity="0.9"/>
<circle cx="125.2" cy="261.0" r="2.4" fill="#fc0f0f" fill-opacity="0.9"/>
<circle cx="138.2" cy="268.6" r="1.8" fill="#fc0f0f" fill-opacity="0.9"/>
<circle cx="111.6" cy="273.1" r="1.6" fill="#fc0f0f" fill-opacity="0.9"/>
<circle cx="117.0" cy="274.8" r="3.3" fill="#fc0f0f" fill-opacity="0.9"/>
<circle cx="120.0" cy="275.6" r="2.2" fill="#fcfc12" fill-opacity="0.9"/>
<circle cx="132.8" cy="276.6" r="2.0" fill="#fc0f0f" fill-opacity="0.9"/>
<circle cx="134.8" cy="276.6" r="1.3" fill="#fcfc12" fill-opacity="0.9"/>
<circle cx="135.2" cy="281.3" r="1.8" fill="#fc0f0f" fill-opacity="0.9"/>
<circle cx="157.8" cy="285.8" r="4.3" fill="#ff3010" fill-opacity="0.9"/>
<circle cx="105.9" cy="292.1" r="1.8" fill="#fc0f0f" fill-opacity="0.9"/>
<circle cx="157.2" cy="297.6" r="2.7" fill="#fc0f0f" fill-opacity="0.9"/>
<circle cx="160.2" cy="299.5" r="2.2" fill="#fc0f0f" fill-opacity="0.9"/>
<circle cx="158.9" cy="303.0" r="2.2" fill="#fc0f0f" fill-opacity="0.9"/>
<circle cx="127.6" cy="299.2" r="1.8" fill="#fc0f0f" fill-opacity="0.9"/>
<circle cx="131.5" cy="317.7" r="2.7" fill="#fc0f0f" fill-opacity="0.9"/>
<circle cx="135.2" cy="321.7" r="2.4" fill="#fc0f0f" fill-opacity="0.9"/>
<circle cx="130.1" cy="323.4" r="1.6" fill="#fc0f0f" fill-opacity="0.9"/>
<circle cx="132.8" cy="327.2" r="2.4" fill="#fc0f0f" fill-opacity="0.9"/>
<circle cx="149.6" cy="320.9" r="2.4" fill="#fc0f0f" fill-opacity="0.9"/>
<circle cx="145.6" cy="325.6" r="2.2" fill="#fc0f0f" fill-opacity="0.9"/>
<circle cx="143.7" cy="328.0" r="1.6" fill="#fc0f0f" fill-opacity="0.9"/>
<circle cx="140.9" cy="330.7" r="1.6" fill="#fc0f0f" fill-opacity="0.9"/>
<circle cx="120.6" cy="329.1" r="1.8" fill="#fc0f0f" fill-opacity="0.9"/>
<circle cx="113.8" cy="341.0" r="1.6" fill="#fc0f0f" fill-opacity="0.9"/>
<circle cx="114.9" cy="343.0" r="1.3" fill="#fc0f0f" fill-opacity="0.9"/>
<circle cx="131.9" cy="347.3" r="1.8" fill="#fc0f0f" fill-opacity="0.9"/>
<circle cx="129.5" cy="355.7" r="2.2" fill="#fc0f0f" fill-opacity="0.9"/>
<circle cx="133.3" cy="354.6" r="2.4" fill="#fc0f0f" fill-opacity="0.9"/>
<circle cx="135.2" cy="356.2" r="1.6" fill="#fc0f0f" fill-opacity="0.9"/>
</g>
<rect x="531.50" y="26.50" width="376" height="400" fill="none" stroke="#1e1e1e" stroke-width="1.1"/>
<line x1="569.95" y1="426.30" x2="569.95" y2="430.30" stroke="#555" stroke-width="1"/>
<text x="570.0" y="448.3" font-size="19.3" text-anchor="middle" fill="#000">70</text>
<line x1="628.95" y1="426.30" x2="628.95" y2="430.30" stroke="#555" stroke-width="1"/>
<text x="629.0" y="448.3" font-size="19.3" text-anchor="middle" fill="#000">75</text>
<line x1="687.95" y1="426.30" x2="687.95" y2="430.30" stroke="#555" stroke-width="1"/>
<text x="688.0" y="448.3" font-size="19.3" text-anchor="middle" fill="#000">80</text>
<line x1="746.95" y1="426.30" x2="746.95" y2="430.30" stroke="#555" stroke-width="1"/>
<text x="747.0" y="448.3" font-size="19.3" text-anchor="middle" fill="#000">85</text>
<line x1="805.95" y1="426.30" x2="805.95" y2="430.30" stroke="#555" stroke-width="1"/>
<text x="806.0" y="448.3" font-size="19.3" text-anchor="middle" fill="#000">90</text>
<line x1="864.95" y1="426.30" x2="864.95" y2="430.30" stroke="#555" stroke-width="1"/>
<text x="865.0" y="448.3" font-size="19.3" text-anchor="middle" fill="#000">95</text>
<text x="722.7" y="23.9" font-size="31.5" text-anchor="middle" fill="#000">2030–2040</text>
<text x="724.7" y="470.9" font-size="23.5" text-anchor="middle" fill="#000">Longitude (°E)</text>
<circle cx="743.3" cy="48.1" r="4.3" fill="#858585"/>
<text x="757.5" y="51.9" font-size="20.2" text-anchor="start" fill="#231815">n=49</text>
<text x="894.0" y="51.9" font-size="20.2" text-anchor="end" fill="#231815">12 GW</text>
<circle cx="743.3" cy="68.9" r="4.3" fill="#fc0f0f"/>
<text x="757.5" y="72.8" font-size="20.2" text-anchor="start" fill="#231815">n=772</text>
<text x="898.0" y="72.8" font-size="20.2" text-anchor="end" fill="#231815">116 GW</text>
<circle cx="743.3" cy="88.9" r="4.3" fill="#aefb12"/>
<text x="757.5" y="92.5" font-size="20.2" text-anchor="start" fill="#231815">n=1</text>
<text x="900.0" y="92.5" font-size="20.2" text-anchor="end" fill="#231815">12 MW</text>
<circle cx="743.3" cy="108.6" r="4.3" fill="#fcfc12"/>
<text x="757.5" y="113.7" font-size="20.2" text-anchor="start" fill="#231815">n=76</text>
<text x="899.0" y="113.7" font-size="20.2" text-anchor="end" fill="#231815">30 GW</text>
<g transform="translate(962.40,26.60)" fill="#d3d3d3">
<path d="M133.4,17.7 L135.3,26.8 L143.8,32.3 L141.4,41.5 L146.9,48.8 L148.1,54.3 L143.8,57.4 L139.5,55.6 L138.9,59.8 L142.6,67.2 L143.8,73.3 L151.1,74.5 L157.3,79.4 L168.9,83.7 L162.1,90.4 L159.7,97.7 L157.9,101.4 L167.0,105.7 L180.5,113.6 L188.8,117.2 L204.0,118.2 L212.2,122.3 L223.4,127.4 L237.6,131.4 L250.9,132.0 L251.9,124.3 L251.9,113.1 L258.0,111.1 L261.1,113.6 L260.0,122.3 L264.1,126.4 L272.3,127.4 L286.5,126.4 L317.1,125.3 L321.1,119.2 L336.4,111.1 L342.5,108.5 L352.7,112.1 L357.8,115.2 L356.3,119.2 L358.8,123.3 L353.7,122.3 L342.5,126.4 L335.4,131.4 L334.9,138.6 L330.3,146.7 L329.3,153.8 L324.2,163.0 L322.2,165.6 L315.0,165.0 L313.5,175.2 L311.5,184.4 L307.9,189.5 L304.8,188.5 L302.3,175.2 L300.8,168.6 L296.7,173.2 L293.6,176.8 L289.6,173.2 L288.0,168.1 L289.6,163.0 L298.7,157.9 L301.8,150.8 L288.6,149.3 L272.3,147.7 L271.8,137.6 L270.2,138.6 L264.1,136.5 L258.0,133.5 L253.4,138.6 L258.0,143.7 L262.6,146.7 L256.0,150.8 L252.4,154.9 L259.0,160.0 L258.5,166.1 L261.1,171.2 L262.1,180.3 L263.6,188.5 L263.6,194.1 L250.9,194.6 L249.9,191.5 L239.7,197.6 L237.6,200.7 L239.7,205.8 L235.6,209.9 L231.5,213.9 L225.4,218.0 L216.3,223.4 L204.5,236.4 L197.3,240.4 L190.5,246.5 L185.1,249.9 L184.4,256.7 L176.9,260.1 L171.5,260.8 L166.8,267.6 L162.0,268.3 L157.9,275.7 L158.6,285.2 L160.6,294.7 L160.0,305.6 L154.5,319.2 L155.2,336.8 L148.4,338.2 L144.4,346.3 L148.4,349.7 L145.7,350.4 L136.2,353.1 L133.5,359.9 L126.7,365.3 L122.6,362.6 L115.8,354.5 L111.8,342.3 L105.0,323.3 L96.8,311.0 L92.1,294.7 L88.7,285.2 L86.0,279.8 L77.8,260.8 L75.1,245.9 L71.0,230.9 L69.0,214.6 L71.0,205.1 L68.3,197.0 L67.0,186.8 L66.3,191.5 L61.5,199.0 L49.3,205.1 L45.2,204.4 L33.0,193.6 L24.9,183.4 L25.3,185.7 L25.9,183.9 L30.2,182.0 L41.2,177.8 L33.8,179.6 L26.5,177.8 L19.2,172.3 L16.7,164.9 L22.8,159.4 L38.1,160.7 L44.8,160.0 L49.1,157.0 L49.1,152.7 L46.0,146.6 L43.6,142.9 L39.3,139.3 L38.7,130.7 L32.0,128.3 L32.0,123.4 L41.2,113.0 L44.8,111.8 L47.3,114.8 L58.3,113.6 L60.7,111.2 L65.6,102.6 L72.9,98.9 L78.4,86.7 L83.9,81.8 L91.3,73.3 L91.3,65.9 L92.5,62.3 L100.4,58.6 L92.5,56.2 L92.5,53.7 L85.2,45.8 L85.2,37.8 L82.1,31.7 L83.9,28.1 L90.0,26.2 L104.7,29.3 L116.9,25.6 L129.1,18.3 Z"/>
<path d="M309.6,293.4 L311.4,296.9 L310.1,304.8 L311.0,312.8 L310.5,317.2 L308.3,314.5 L307.0,320.7 L306.1,325.1 L304.3,324.2 L303.5,319.8 L304.8,312.8 L305.7,304.0 L307.4,296.9 Z"/>
<ellipse cx="303.5" cy="330.9" rx="1.9" ry="3.1"/>
<ellipse cx="307.0" cy="350.7" rx="1.3" ry="1.3"/>
<ellipse cx="314.9" cy="364.8" rx="2.2" ry="2.6"/>
<ellipse cx="318.5" cy="376.3" rx="1.9" ry="4.4"/>
<ellipse cx="311.0" cy="361.3" rx="1.1" ry="1.6"/>
<ellipse cx="313.6" cy="288.5" rx="0.7" ry="1.1"/>
<ellipse cx="316.7" cy="278.8" rx="0.5" ry="0.9"/>
<rect x="63.4" y="319.2" width="1.6" height="1.4"/>
<rect x="69.6" y="318.5" width="1.6" height="1.4"/>
<rect x="72.9" y="321.2" width="1.6" height="1.4"/>
<rect x="70.0" y="324.6" width="1.6" height="1.4"/>
<rect x="63.4" y="328.7" width="1.6" height="1.4"/>
<rect x="68.2" y="332.7" width="1.6" height="1.4"/>
<rect x="80.7" y="329.3" width="1.6" height="1.4"/>
<rect x="64.5" y="338.8" width="1.6" height="1.4"/>
<rect x="80.4" y="338.2" width="1.6" height="1.4"/>
<rect x="73.2" y="361.2" width="1.6" height="1.4"/>
</g>
<g transform="translate(962.40,26.60)">
<circle cx="32.9" cy="178.5" r="4.6" fill="#fc0f0f" fill-opacity="0.9"/>
<circle cx="68.4" cy="175.6" r="2.0" fill="#fc0f0f" fill-opacity="0.9"/>
<circle cx="101.9" cy="170.7" r="2.0" fill="#fc0f0f" fill-opacity="0.9"/>
<circle cx="97.8" cy="184.0" r="1.8" fill="#aefb12" fill-opacity="0.9"/>
<circle cx="163.2" cy="162.8" r="1.7" fill="#fc0f0f" fill-opacity="0.9"/>
<circle cx="188.8" cy="163.2" r="3.9" fill="#fc0f0f" fill-opacity="0.9"/>
<circle cx="175.3" cy="174.2" r="2.4" fill="#fc0f0f" fill-opacity="0.9"/>
<circle cx="185.1" cy="184.1" r="3.7" fill="#fc0f0f" fill-opacity="0.9"/>
<circle cx="187.1" cy="184.6" r="2.6" fill="#fc0f0f" fill-opacity="0.9"/>
<circle cx="183.6" cy="189.3" r="2.4" fill="#fc0f0f" fill-opacity="0.9"/>
<circle cx="203.4" cy="192.9" r="2.9" fill="#fc0f0f" fill-opacity="0.9"/>
<circle cx="215.6" cy="200.3" r="3.9" fill="#fc0f0f" fill-opacity="0.9"/>
<circle cx="230.9" cy="167.0" r="1.7" fill="#fc0f0f" fill-opacity="0.9"/>
<circle cx="244.0" cy="165.7" r="2.6" fill="#fc0f0f" fill-opacity="0.9"/>
<circle cx="227.6" cy="176.5" r="1.8" fill="#fc0f0f" fill-opacity="0.9"/>
<circle cx="223.7" cy="183.3" r="1.8" fill="#fc0f0f" fill-opacity="0.9"/>
<circle cx="70.5" cy="216.7" r="1.8" fill="#fc0f0f" fill-opacity="0.9"/>
<circle cx="76.3" cy="224.2" r="2.0" fill="#fc0f0f" fill-opacity="0.9"/>
<circle cx="149.9" cy="222.3" r="1.8" fill="#fc0f0f" fill-opacity="0.9"/>
<circle cx="136.8" cy="246.2" r="1.8" fill="#fc0f0f" fill-opacity="0.9"/>
<circle cx="147.2" cy="251.3" r="2.4" fill="#fc0f0f" fill-opacity="0.9"/>
<circle cx="164.0" cy="244.5" r="2.4" fill="#fc0f0f" fill-opacity="0.9"/>
<circle cx="192.3" cy="244.5" r="2.4" fill="#fc0f0f" fill-opacity="0.9"/>
<circle cx="152.2" cy="255.6" r="2.6" fill="#fc0f0f" fill-opacity="0.9"/>
<circle cx="156.0" cy="255.0" r="1.6" fill="#858585" fill-opacity="0.9"/>
</g>
<rect x="962.50" y="26.50" width="376" height="400" fill="none" stroke="#1e1e1e" stroke-width="1.1"/>
<line x1="1000.85" y1="426.40" x2="1000.85" y2="430.40" stroke="#555" stroke-width="1"/>
<text x="1000.9" y="448.4" font-size="19.3" text-anchor="middle" fill="#000">70</text>
<line x1="1059.85" y1="426.40" x2="1059.85" y2="430.40" stroke="#555" stroke-width="1"/>
<text x="1059.8" y="448.4" font-size="19.3" text-anchor="middle" fill="#000">75</text>
<line x1="1118.85" y1="426.40" x2="1118.85" y2="430.40" stroke="#555" stroke-width="1"/>
<text x="1118.8" y="448.4" font-size="19.3" text-anchor="middle" fill="#000">80</text>
<line x1="1177.85" y1="426.40" x2="1177.85" y2="430.40" stroke="#555" stroke-width="1"/>
<text x="1177.8" y="448.4" font-size="19.3" text-anchor="middle" fill="#000">85</text>
<line x1="1236.85" y1="426.40" x2="1236.85" y2="430.40" stroke="#555" stroke-width="1"/>
<text x="1236.8" y="448.4" font-size="19.3" text-anchor="middle" fill="#000">90</text>
<line x1="1295.85" y1="426.40" x2="1295.85" y2="430.40" stroke="#555" stroke-width="1"/>
<text x="1295.8" y="448.4" font-size="19.3" text-anchor="middle" fill="#000">95</text>
<text x="1152.2" y="24.0" font-size="31.5" text-anchor="middle" fill="#000">2040–2050</text>
<text x="1154.9" y="471.0" font-size="23.5" text-anchor="middle" fill="#000">Longitude (°E)</text>
<circle cx="1184.0" cy="48.2" r="4.3" fill="#858585"/>
<text x="1199.6" y="52.0" font-size="20.2" text-anchor="start" fill="#231815">n=3</text>
<text x="1335.0" y="52.0" font-size="20.2" text-anchor="end" fill="#231815">64 MW</text>
<circle cx="1184.0" cy="69.0" r="4.3" fill="#fc0f0f"/>
<text x="1199.6" y="72.9" font-size="20.2" text-anchor="start" fill="#231815">n=46</text>
<text x="1333.2" y="72.9" font-size="20.2" text-anchor="end" fill="#231815">12 GW</text>
<circle cx="1184.0" cy="89.0" r="4.3" fill="#aefb12"/>
<text x="1199.6" y="92.6" font-size="20.2" text-anchor="start" fill="#231815">n=1</text>
<text x="1335.0" y="92.6" font-size="20.2" text-anchor="end" fill="#231815">12 MW</text>
<circle cx="1184.0" cy="108.7" r="4.3" fill="#fcfc12"/>
<text x="1199.6" y="113.8" font-size="20.2" text-anchor="start" fill="#231815">n=0</text>
<text x="1333.2" y="113.8" font-size="20.2" text-anchor="end" fill="#231815">0 GW</text>
<g transform="translate(1395.50,26.60)" fill="#d3d3d3">
<path d="M133.4,17.7 L135.3,26.8 L143.8,32.3 L141.4,41.5 L146.9,48.8 L148.1,54.3 L143.8,57.4 L139.5,55.6 L138.9,59.8 L142.6,67.2 L143.8,73.3 L151.1,74.5 L157.3,79.4 L168.9,83.7 L162.1,90.4 L159.7,97.7 L157.9,101.4 L167.0,105.7 L180.5,113.6 L188.8,117.2 L204.0,118.2 L212.2,122.3 L223.4,127.4 L237.6,131.4 L250.9,132.0 L251.9,124.3 L251.9,113.1 L258.0,111.1 L261.1,113.6 L260.0,122.3 L264.1,126.4 L272.3,127.4 L286.5,126.4 L317.1,125.3 L321.1,119.2 L336.4,111.1 L342.5,108.5 L352.7,112.1 L357.8,115.2 L356.3,119.2 L358.8,123.3 L353.7,122.3 L342.5,126.4 L335.4,131.4 L334.9,138.6 L330.3,146.7 L329.3,153.8 L324.2,163.0 L322.2,165.6 L315.0,165.0 L313.5,175.2 L311.5,184.4 L307.9,189.5 L304.8,188.5 L302.3,175.2 L300.8,168.6 L296.7,173.2 L293.6,176.8 L289.6,173.2 L288.0,168.1 L289.6,163.0 L298.7,157.9 L301.8,150.8 L288.6,149.3 L272.3,147.7 L271.8,137.6 L270.2,138.6 L264.1,136.5 L258.0,133.5 L253.4,138.6 L258.0,143.7 L262.6,146.7 L256.0,150.8 L252.4,154.9 L259.0,160.0 L258.5,166.1 L261.1,171.2 L262.1,180.3 L263.6,188.5 L263.6,194.1 L250.9,194.6 L249.9,191.5 L239.7,197.6 L237.6,200.7 L239.7,205.8 L235.6,209.9 L231.5,213.9 L225.4,218.0 L216.3,223.4 L204.5,236.4 L197.3,240.4 L190.5,246.5 L185.1,249.9 L184.4,256.7 L176.9,260.1 L171.5,260.8 L166.8,267.6 L162.0,268.3 L157.9,275.7 L158.6,285.2 L160.6,294.7 L160.0,305.6 L154.5,319.2 L155.2,336.8 L148.4,338.2 L144.4,346.3 L148.4,349.7 L145.7,350.4 L136.2,353.1 L133.5,359.9 L126.7,365.3 L122.6,362.6 L115.8,354.5 L111.8,342.3 L105.0,323.3 L96.8,311.0 L92.1,294.7 L88.7,285.2 L86.0,279.8 L77.8,260.8 L75.1,245.9 L71.0,230.9 L69.0,214.6 L71.0,205.1 L68.3,197.0 L67.0,186.8 L66.3,191.5 L61.5,199.0 L49.3,205.1 L45.2,204.4 L33.0,193.6 L24.9,183.4 L25.3,185.7 L25.9,183.9 L30.2,182.0 L41.2,177.8 L33.8,179.6 L26.5,177.8 L19.2,172.3 L16.7,164.9 L22.8,159.4 L38.1,160.7 L44.8,160.0 L49.1,157.0 L49.1,152.7 L46.0,146.6 L43.6,142.9 L39.3,139.3 L38.7,130.7 L32.0,128.3 L32.0,123.4 L41.2,113.0 L44.8,111.8 L47.3,114.8 L58.3,113.6 L60.7,111.2 L65.6,102.6 L72.9,98.9 L78.4,86.7 L83.9,81.8 L91.3,73.3 L91.3,65.9 L92.5,62.3 L100.4,58.6 L92.5,56.2 L92.5,53.7 L85.2,45.8 L85.2,37.8 L82.1,31.7 L83.9,28.1 L90.0,26.2 L104.7,29.3 L116.9,25.6 L129.1,18.3 Z"/>
<path d="M309.6,293.4 L311.4,296.9 L310.1,304.8 L311.0,312.8 L310.5,317.2 L308.3,314.5 L307.0,320.7 L306.1,325.1 L304.3,324.2 L303.5,319.8 L304.8,312.8 L305.7,304.0 L307.4,296.9 Z"/>
<ellipse cx="303.5" cy="330.9" rx="1.9" ry="3.1"/>
<ellipse cx="307.0" cy="350.7" rx="1.3" ry="1.3"/>
<ellipse cx="314.9" cy="364.8" rx="2.2" ry="2.6"/>
<ellipse cx="318.5" cy="376.3" rx="1.9" ry="4.4"/>
<ellipse cx="311.0" cy="361.3" rx="1.1" ry="1.6"/>
<ellipse cx="313.6" cy="288.5" rx="0.7" ry="1.1"/>
<ellipse cx="316.7" cy="278.8" rx="0.5" ry="0.9"/>
<rect x="63.4" y="319.2" width="1.6" height="1.4"/>
<rect x="69.6" y="318.5" width="1.6" height="1.4"/>
<rect x="72.9" y="321.2" width="1.6" height="1.4"/>
<rect x="70.0" y="324.6" width="1.6" height="1.4"/>
<rect x="63.4" y="328.7" width="1.6" height="1.4"/>
<rect x="68.2" y="332.7" width="1.6" height="1.4"/>
<rect x="80.7" y="329.3" width="1.6" height="1.4"/>
<rect x="64.5" y="338.8" width="1.6" height="1.4"/>
<rect x="80.4" y="338.2" width="1.6" height="1.4"/>
<rect x="73.2" y="361.2" width="1.6" height="1.4"/>
</g>
<g transform="translate(1395.50,26.60)">
<circle cx="97.9" cy="183.9" r="2.0" fill="#aefb12" fill-opacity="0.9"/>
<circle cx="186.5" cy="183.9" r="2.3" fill="#fc0f0f" fill-opacity="0.9"/>
<circle cx="153.9" cy="254.3" r="2.0" fill="#fc0f0f" fill-opacity="0.9"/>
<circle cx="157.5" cy="254.3" r="2.0" fill="#fc0f0f" fill-opacity="0.9"/>
</g>
<rect x="1395.50" y="26.50" width="376" height="400" fill="none" stroke="#1e1e1e" stroke-width="1.1"/>
<line x1="1433.95" y1="426.40" x2="1433.95" y2="430.40" stroke="#555" stroke-width="1"/>
<text x="1434.0" y="448.4" font-size="19.3" text-anchor="middle" fill="#000">70</text>
<line x1="1492.95" y1="426.40" x2="1492.95" y2="430.40" stroke="#555" stroke-width="1"/>
<text x="1493.0" y="448.4" font-size="19.3" text-anchor="middle" fill="#000">75</text>
<line x1="1551.95" y1="426.40" x2="1551.95" y2="430.40" stroke="#555" stroke-width="1"/>
<text x="1552.0" y="448.4" font-size="19.3" text-anchor="middle" fill="#000">80</text>
<line x1="1610.95" y1="426.40" x2="1610.95" y2="430.40" stroke="#555" stroke-width="1"/>
<text x="1611.0" y="448.4" font-size="19.3" text-anchor="middle" fill="#000">85</text>
<line x1="1669.95" y1="426.40" x2="1669.95" y2="430.40" stroke="#555" stroke-width="1"/>
<text x="1670.0" y="448.4" font-size="19.3" text-anchor="middle" fill="#000">90</text>
<line x1="1728.95" y1="426.40" x2="1728.95" y2="430.40" stroke="#555" stroke-width="1"/>
<text x="1729.0" y="448.4" font-size="19.3" text-anchor="middle" fill="#000">95</text>
<text x="1585.3" y="24.0" font-size="31.5" text-anchor="middle" fill="#000">2050–2060</text>
<text x="1588.8" y="471.0" font-size="23.5" text-anchor="middle" fill="#000">Longitude (°E)</text>
<circle cx="1624.1" cy="48.2" r="4.3" fill="#858585"/>
<text x="1637.6" y="52.0" font-size="20.2" text-anchor="start" fill="#231815">n=0</text>
<text x="1754.2" y="52.0" font-size="20.2" text-anchor="end" fill="#231815">0 GW</text>
<circle cx="1624.1" cy="69.0" r="4.3" fill="#fc0f0f"/>
<text x="1637.6" y="72.9" font-size="20.2" text-anchor="start" fill="#231815">n=3</text>
<text x="1761.2" y="72.9" font-size="20.2" text-anchor="end" fill="#231815">64 MW</text>
<circle cx="1624.1" cy="89.0" r="4.3" fill="#aefb12"/>
<text x="1637.6" y="92.6" font-size="20.2" text-anchor="start" fill="#231815">n=1</text>
<text x="1761.2" y="92.6" font-size="20.2" text-anchor="end" fill="#231815">12 MW</text>
<circle cx="1624.1" cy="108.7" r="4.3" fill="#fcfc12"/>
<text x="1637.6" y="113.8" font-size="20.2" text-anchor="start" fill="#231815">n=0</text>
<text x="1754.2" y="113.8" font-size="20.2" text-anchor="end" fill="#231815">0 GW</text>
<g transform="translate(95.90,531.30)" fill="#d3d3d3">
<path d="M133.4,17.7 L135.3,26.8 L143.8,32.3 L141.4,41.5 L146.9,48.8 L148.1,54.3 L143.8,57.4 L139.5,55.6 L138.9,59.8 L142.6,67.2 L143.8,73.3 L151.1,74.5 L157.3,79.4 L168.9,83.7 L162.1,90.4 L159.7,97.7 L157.9,101.4 L167.0,105.7 L180.5,113.6 L188.8,117.2 L204.0,118.2 L212.2,122.3 L223.4,127.4 L237.6,131.4 L250.9,132.0 L251.9,124.3 L251.9,113.1 L258.0,111.1 L261.1,113.6 L260.0,122.3 L264.1,126.4 L272.3,127.4 L286.5,126.4 L317.1,125.3 L321.1,119.2 L336.4,111.1 L342.5,108.5 L352.7,112.1 L357.8,115.2 L356.3,119.2 L358.8,123.3 L353.7,122.3 L342.5,126.4 L335.4,131.4 L334.9,138.6 L330.3,146.7 L329.3,153.8 L324.2,163.0 L322.2,165.6 L315.0,165.0 L313.5,175.2 L311.5,184.4 L307.9,189.5 L304.8,188.5 L302.3,175.2 L300.8,168.6 L296.7,173.2 L293.6,176.8 L289.6,173.2 L288.0,168.1 L289.6,163.0 L298.7,157.9 L301.8,150.8 L288.6,149.3 L272.3,147.7 L271.8,137.6 L270.2,138.6 L264.1,136.5 L258.0,133.5 L253.4,138.6 L258.0,143.7 L262.6,146.7 L256.0,150.8 L252.4,154.9 L259.0,160.0 L258.5,166.1 L261.1,171.2 L262.1,180.3 L263.6,188.5 L263.6,194.1 L250.9,194.6 L249.9,191.5 L239.7,197.6 L237.6,200.7 L239.7,205.8 L235.6,209.9 L231.5,213.9 L225.4,218.0 L216.3,223.4 L204.5,236.4 L197.3,240.4 L190.5,246.5 L185.1,249.9 L184.4,256.7 L176.9,260.1 L171.5,260.8 L166.8,267.6 L162.0,268.3 L157.9,275.7 L158.6,285.2 L160.6,294.7 L160.0,305.6 L154.5,319.2 L155.2,336.8 L148.4,338.2 L144.4,346.3 L148.4,349.7 L145.7,350.4 L136.2,353.1 L133.5,359.9 L126.7,365.3 L122.6,362.6 L115.8,354.5 L111.8,342.3 L105.0,323.3 L96.8,311.0 L92.1,294.7 L88.7,285.2 L86.0,279.8 L77.8,260.8 L75.1,245.9 L71.0,230.9 L69.0,214.6 L71.0,205.1 L68.3,197.0 L67.0,186.8 L66.3,191.5 L61.5,199.0 L49.3,205.1 L45.2,204.4 L33.0,193.6 L24.9,183.4 L25.3,185.7 L25.9,183.9 L30.2,182.0 L41.2,177.8 L33.8,179.6 L26.5,177.8 L19.2,172.3 L16.7,164.9 L22.8,159.4 L38.1,160.7 L44.8,160.0 L49.1,157.0 L49.1,152.7 L46.0,146.6 L43.6,142.9 L39.3,139.3 L38.7,130.7 L32.0,128.3 L32.0,123.4 L41.2,113.0 L44.8,111.8 L47.3,114.8 L58.3,113.6 L60.7,111.2 L65.6,102.6 L72.9,98.9 L78.4,86.7 L83.9,81.8 L91.3,73.3 L91.3,65.9 L92.5,62.3 L100.4,58.6 L92.5,56.2 L92.5,53.7 L85.2,45.8 L85.2,37.8 L82.1,31.7 L83.9,28.1 L90.0,26.2 L104.7,29.3 L116.9,25.6 L129.1,18.3 Z"/>
<path d="M309.6,293.4 L311.4,296.9 L310.1,304.8 L311.0,312.8 L310.5,317.2 L308.3,314.5 L307.0,320.7 L306.1,325.1 L304.3,324.2 L303.5,319.8 L304.8,312.8 L305.7,304.0 L307.4,296.9 Z"/>
<ellipse cx="303.5" cy="330.9" rx="1.9" ry="3.1"/>
<ellipse cx="307.0" cy="350.7" rx="1.3" ry="1.3"/>
<ellipse cx="314.9" cy="364.8" rx="2.2" ry="2.6"/>
<ellipse cx="318.5" cy="376.3" rx="1.9" ry="4.4"/>
<ellipse cx="311.0" cy="361.3" rx="1.1" ry="1.6"/>
<ellipse cx="313.6" cy="288.5" rx="0.7" ry="1.1"/>
<ellipse cx="316.7" cy="278.8" rx="0.5" ry="0.9"/>
<rect x="63.4" y="319.2" width="1.6" height="1.4"/>
<rect x="69.6" y="318.5" width="1.6" height="1.4"/>
<rect x="72.9" y="321.2" width="1.6" height="1.4"/>
<rect x="70.0" y="324.6" width="1.6" height="1.4"/>
<rect x="63.4" y="328.7" width="1.6" height="1.4"/>
<rect x="68.2" y="332.7" width="1.6" height="1.4"/>
<rect x="80.7" y="329.3" width="1.6" height="1.4"/>
<rect x="64.5" y="338.8" width="1.6" height="1.4"/>
<rect x="80.4" y="338.2" width="1.6" height="1.4"/>
<rect x="73.2" y="361.2" width="1.6" height="1.4"/>
</g>
<g transform="translate(95.90,531.30)">
<circle cx="95.0" cy="66.3" r="2.0" fill="#858585" fill-opacity="0.9"/>
<circle cx="98.6" cy="70.1" r="2.4" fill="#858585" fill-opacity="0.9"/>
<circle cx="115.7" cy="72.3" r="2.2" fill="#858585" fill-opacity="0.9"/>
<circle cx="115.3" cy="74.2" r="2.4" fill="#fc0f0f" fill-opacity="0.9"/>
<circle cx="115.1" cy="80.7" r="4.6" fill="#858585" fill-opacity="0.9"/>
<circle cx="95.6" cy="84.2" r="2.2" fill="#fc0f0f" fill-opacity="0.9"/>
<circle cx="99.4" cy="88.6" r="4.6" fill="#858585" fill-opacity="0.9"/>
<circle cx="106.6" cy="84.8" r="2.0" fill="#858585" fill-opacity="0.9"/>
<circle cx="123.8" cy="85.8" r="3.3" fill="#858585" fill-opacity="0.9"/>
<circle cx="123.6" cy="85.8" r="1.6" fill="#fc0f0f" fill-opacity="0.9"/>
<circle cx="127.1" cy="88.3" r="1.3" fill="#858585" fill-opacity="0.9"/>
<circle cx="107.0" cy="95.9" r="4.6" fill="#858585" fill-opacity="0.9"/>
<circle cx="119.5" cy="95.1" r="2.7" fill="#858585" fill-opacity="0.9"/>
<circle cx="119.5" cy="95.4" r="1.6" fill="#fc0f0f" fill-opacity="0.9"/>
<circle cx="130.1" cy="94.2" r="1.6" fill="#858585" fill-opacity="0.9"/>
<circle cx="83.6" cy="95.6" r="3.8" fill="#fcfc12" fill-opacity="0.9"/>
<circle cx="85.2" cy="97.8" r="4.6" fill="#f05a14" fill-opacity="0.9"/>
<circle cx="112.4" cy="106.7" r="4.6" fill="#858585" fill-opacity="0.9"/>
<circle cx="127.1" cy="104.9" r="4.1" fill="#858585" fill-opacity="0.9"/>
<circle cx="134.7" cy="102.5" r="2.0" fill="#fc0f0f" fill-opacity="0.9"/>
<circle cx="143.6" cy="97.8" r="2.2" fill="#858585" fill-opacity="0.9"/>
<circle cx="149.9" cy="99.4" r="2.2" fill="#fc0f0f" fill-opacity="0.9"/>
<circle cx="153.1" cy="107.0" r="2.7" fill="#858585" fill-opacity="0.9"/>
<circle cx="130.3" cy="110.3" r="4.3" fill="#aefb12" fill-opacity="0.9"/>
<circle cx="133.6" cy="112.7" r="3.8" fill="#aefb12" fill-opacity="0.9"/>
<circle cx="133.6" cy="112.7" r="2.0" fill="#f05a14" fill-opacity="0.9"/>
<circle cx="142.1" cy="119.2" r="4.9" fill="#aefb12" fill-opacity="0.9"/>
<circle cx="154.8" cy="115.2" r="3.5" fill="#858585" fill-opacity="0.9"/>
<circle cx="165.3" cy="113.0" r="2.7" fill="#858585" fill-opacity="0.9"/>
<circle cx="100.5" cy="115.5" r="2.2" fill="#aefb12" fill-opacity="0.9"/>
<circle cx="71.5" cy="114.8" r="2.2" fill="#858585" fill-opacity="0.9"/>
<circle cx="75.8" cy="114.8" r="2.2" fill="#858585" fill-opacity="0.9"/>
<circle cx="106.4" cy="126.6" r="2.0" fill="#858585" fill-opacity="0.9"/>
<circle cx="81.4" cy="130.2" r="2.2" fill="#858585" fill-opacity="0.9"/>
<circle cx="88.0" cy="134.2" r="3.0" fill="#858585" fill-opacity="0.9"/>
<circle cx="89.3" cy="137.2" r="1.6" fill="#858585" fill-opacity="0.9"/>
<circle cx="112.2" cy="136.9" r="1.8" fill="#858585" fill-opacity="0.9"/>
<circle cx="53.4" cy="139.6" r="2.7" fill="#858585" fill-opacity="0.9"/>
<circle cx="141.0" cy="144.2" r="2.7" fill="#fc0f0f" fill-opacity="0.9"/>
<circle cx="139.9" cy="153.5" r="4.6" fill="#858585" fill-opacity="0.9"/>
<circle cx="106.2" cy="148.5" r="2.7" fill="#fc0f0f" fill-opacity="0.9"/>
<circle cx="108.6" cy="145.6" r="2.0" fill="#aefb12" fill-opacity="0.9"/>
<circle cx="109.5" cy="157.0" r="4.3" fill="#858585" fill-opacity="0.9"/>
<circle cx="116.8" cy="153.2" r="4.6" fill="#858585" fill-opacity="0.9"/>
<circle cx="120.6" cy="155.4" r="4.3" fill="#858585" fill-opacity="0.9"/>
<circle cx="92.9" cy="152.6" r="3.3" fill="#858585" fill-opacity="0.9"/>
<circle cx="92.1" cy="147.8" r="1.6" fill="#858585" fill-opacity="0.9"/>
<circle cx="93.9" cy="155.9" r="2.2" fill="#858585" fill-opacity="0.9"/>
<circle cx="86.3" cy="151.3" r="2.4" fill="#858585" fill-opacity="0.9"/>
<circle cx="73.6" cy="153.5" r="2.4" fill="#858585" fill-opacity="0.9"/>
<circle cx="81.4" cy="158.9" r="2.2" fill="#858585" fill-opacity="0.9"/>
<circle cx="133.6" cy="159.4" r="2.4" fill="#858585" fill-opacity="0.9"/>
<circle cx="165.1" cy="139.1" r="1.8" fill="#858585" fill-opacity="0.9"/>
<circle cx="171.4" cy="139.1" r="2.7" fill="#fc0f0f" fill-opacity="0.9"/>
<circle cx="167.0" cy="155.4" r="2.7" fill="#858585" fill-opacity="0.9"/>
<circle cx="162.9" cy="162.4" r="1.8" fill="#858585" fill-opacity="0.9"/>
<circle cx="171.6" cy="160.8" r="4.3" fill="#9fd040" fill-opacity="0.9"/>
<circle cx="167.8" cy="172.0" r="4.0" fill="#858585" fill-opacity="0.9"/>
<circle cx="154.4" cy="179.3" r="4.3" fill="#9c9c9c" fill-opacity="0.9"/>
<circle cx="141.2" cy="177.1" r="4.9" fill="#aefb12" fill-opacity="0.9"/>
<circle cx="127.1" cy="174.6" r="2.4" fill="#858585" fill-opacity="0.9"/>
<circle cx="127.9" cy="178.9" r="1.6" fill="#858585" fill-opacity="0.9"/>
<circle cx="134.1" cy="187.4" r="4.3" fill="#aefb12" fill-opacity="0.9"/>
<circle cx="134.1" cy="187.4" r="2.4" fill="#fc0f0f" fill-opacity="0.9"/>
<circle cx="108.6" cy="187.4" r="4.3" fill="#858585" fill-opacity="0.9"/>
<circle cx="115.1" cy="187.4" r="4.6" fill="#858585" fill-opacity="0.9"/>
<circle cx="101.9" cy="186.9" r="1.6" fill="#858585" fill-opacity="0.9"/>
<circle cx="97.5" cy="183.6" r="1.8" fill="#aefb12" fill-opacity="0.9"/>
<circle cx="101.3" cy="170.4" r="2.4" fill="#fc0f0f" fill-opacity="0.9"/>
<circle cx="89.8" cy="168.9" r="2.2" fill="#858585" fill-opacity="0.9"/>
<circle cx="69.0" cy="173.8" r="3.3" fill="#fc0f0f" fill-opacity="0.9"/>
<circle cx="77.1" cy="177.4" r="4.1" fill="#858585" fill-opacity="0.9"/>
<circle cx="77.1" cy="177.6" r="2.7" fill="#fc0f0f" fill-opacity="0.9"/>
<circle cx="74.7" cy="183.6" r="1.6" fill="#858585" fill-opacity="0.9"/>
<circle cx="106.4" cy="200.4" r="4.3" fill="#f5a314" fill-opacity="0.9"/>
<circle cx="130.9" cy="200.4" r="2.7" fill="#fc0f0f" fill-opacity="0.9"/>
<circle cx="117.8" cy="204.8" r="2.4" fill="#858585" fill-opacity="0.9"/>
<circle cx="144.4" cy="197.2" r="4.3" fill="#fc0f0f" fill-opacity="0.9"/>
<circle cx="149.9" cy="196.1" r="4.3" fill="#fc0f0f" fill-opacity="0.9"/>
<circle cx="155.3" cy="195.0" r="4.3" fill="#fc0f0f" fill-opacity="0.9"/>
<circle cx="147.7" cy="204.2" r="4.3" fill="#aefb12" fill-opacity="0.9"/>
<circle cx="144.4" cy="210.2" r="3.8" fill="#fc0f0f" fill-opacity="0.9"/>
<circle cx="148.8" cy="211.8" r="2.7" fill="#fc0f0f" fill-opacity="0.9"/>
<circle cx="169.4" cy="198.8" r="2.2" fill="#858585" fill-opacity="0.9"/>
<circle cx="22.2" cy="167.9" r="3.8" fill="#858585" fill-opacity="0.9"/>
<circle cx="23.3" cy="167.3" r="2.2" fill="#fc0f0f" fill-opacity="0.9"/>
<circle cx="27.7" cy="164.4" r="1.6" fill="#858585" fill-opacity="0.9"/>
<circle cx="34.2" cy="171.7" r="2.7" fill="#858585" fill-opacity="0.9"/>
<circle cx="32.6" cy="177.6" r="4.9" fill="#858585" fill-opacity="0.9"/>
<circle cx="34.7" cy="184.7" r="4.3" fill="#858585" fill-opacity="0.9"/>
<circle cx="40.7" cy="172.2" r="2.7" fill="#858585" fill-opacity="0.9"/>
<circle cx="43.4" cy="171.7" r="1.6" fill="#858585" fill-opacity="0.9"/>
<circle cx="26.0" cy="183.3" r="2.2" fill="#fc0f0f" fill-opacity="0.9"/>
<circle cx="33.4" cy="193.2" r="2.2" fill="#aefb12" fill-opacity="0.9"/>
<circle cx="42.1" cy="202.1" r="2.2" fill="#fc0f0f" fill-opacity="0.9"/>
<circle cx="46.1" cy="203.5" r="2.4" fill="#858585" fill-opacity="0.9"/>
<circle cx="54.8" cy="202.1" r="2.4" fill="#858585" fill-opacity="0.9"/>
<circle cx="63.5" cy="191.8" r="2.2" fill="#858585" fill-opacity="0.9"/>
<circle cx="67.9" cy="192.3" r="3.0" fill="#aefb12" fill-opacity="0.9"/>
<circle cx="73.3" cy="191.8" r="2.2" fill="#fc0f0f" fill-opacity="0.9"/>
<circle cx="74.4" cy="195.0" r="3.3" fill="#858585" fill-opacity="0.9"/>
<circle cx="69.5" cy="199.1" r="2.2" fill="#fc0f0f" fill-opacity="0.9"/>
<circle cx="68.4" cy="199.4" r="2.7" fill="#aefb12" fill-opacity="0.9"/>
<circle cx="79.8" cy="198.8" r="3.3" fill="#fc0f0f" fill-opacity="0.9"/>
<circle cx="71.9" cy="209.1" r="2.0" fill="#aefb12" fill-opacity="0.9"/>
<circle cx="70.0" cy="212.4" r="1.6" fill="#858585" fill-opacity="0.9"/>
<circle cx="182.8" cy="120.6" r="2.2" fill="#858585" fill-opacity="0.9"/>
<circle cx="181.7" cy="124.9" r="2.2" fill="#858585" fill-opacity="0.9"/>
<circle cx="186.0" cy="130.4" r="4.3" fill="#aefb12" fill-opacity="0.9"/>
<circle cx="186.3" cy="130.4" r="2.4" fill="#fc0f0f" fill-opacity="0.9"/>
<circle cx="193.4" cy="128.5" r="1.6" fill="#858585" fill-opacity="0.9"/>
<circle cx="175.7" cy="135.3" r="1.6" fill="#858585" fill-opacity="0.9"/>
<circle cx="218.1" cy="135.5" r="2.7" fill="#fc0f0f" fill-opacity="0.9"/>
<circle cx="223.5" cy="144.5" r="4.9" fill="#aefb12" fill-opacity="0.9"/>
<circle cx="226.2" cy="142.3" r="2.2" fill="#fc0f0f" fill-opacity="0.9"/>
<circle cx="226.2" cy="145.6" r="2.4" fill="#fc0f0f" fill-opacity="0.9"/>
<circle cx="220.6" cy="148.5" r="1.6" fill="#fc0f0f" fill-opacity="0.9"/>
<circle cx="201.5" cy="144.0" r="4.6" fill="#aefb12" fill-opacity="0.9"/>
<circle cx="178.2" cy="148.8" r="4.6" fill="#9fd040" fill-opacity="0.9"/>
<circle cx="189.9" cy="149.4" r="2.2" fill="#858585" fill-opacity="0.9"/>
<circle cx="204.5" cy="153.2" r="4.9" fill="#9fd040" fill-opacity="0.9"/>
<circle cx="190.4" cy="158.1" r="4.3" fill="#aefb12" fill-opacity="0.9"/>
<circle cx="188.2" cy="162.4" r="4.9" fill="#fc0f0f" fill-opacity="0.9"/>
<circle cx="190.9" cy="157.5" r="2.7" fill="#fc0f0f" fill-opacity="0.9"/>
<circle cx="201.3" cy="160.3" r="2.2" fill="#858585" fill-opacity="0.9"/>
<circle cx="220.8" cy="158.1" r="3.8" fill="#858585" fill-opacity="0.9"/>
<circle cx="220.3" cy="162.2" r="1.6" fill="#fc0f0f" fill-opacity="0.9"/>
<circle cx="178.4" cy="161.9" r="4.3" fill="#858585" fill-opacity="0.9"/>
<circle cx="242.8" cy="144.8" r="4.1" fill="#858585" fill-opacity="0.9"/>
<circle cx="239.8" cy="152.9" r="4.6" fill="#aefb12" fill-opacity="0.9"/>
<circle cx="249.1" cy="153.5" r="3.3" fill="#fc0f0f" fill-opacity="0.9"/>
<circle cx="251.8" cy="158.6" r="4.3" fill="#9fd040" fill-opacity="0.9"/>
<circle cx="214.8" cy="165.7" r="4.9" fill="#aefb12" fill-opacity="0.9"/>
<circle cx="218.1" cy="168.4" r="4.6" fill="#aefb12" fill-opacity="0.9"/>
<circle cx="225.2" cy="167.9" r="3.3" fill="#858585" fill-opacity="0.9"/>
<circle cx="227.9" cy="166.8" r="2.7" fill="#fc0f0f" fill-opacity="0.9"/>
<circle cx="234.9" cy="165.1" r="3.3" fill="#858585" fill-opacity="0.9"/>
<circle cx="236.0" cy="167.3" r="2.2" fill="#fc0f0f" fill-opacity="0.9"/>
<circle cx="240.4" cy="168.9" r="2.7" fill="#fc0f0f" fill-opacity="0.9"/>
<circle cx="243.1" cy="164.4" r="2.4" fill="#fc0f0f" fill-opacity="0.9"/>
<circle cx="251.8" cy="167.6" r="2.2" fill="#858585" fill-opacity="0.9"/>
<circle cx="176.8" cy="174.9" r="4.3" fill="#858585" fill-opacity="0.9"/>
<circle cx="226.8" cy="177.6" r="2.7" fill="#858585" fill-opacity="0.9"/>
<circle cx="229.0" cy="178.9" r="2.4" fill="#fc0f0f" fill-opacity="0.9"/>
<circle cx="223.5" cy="183.3" r="1.8" fill="#fc0f0f" fill-opacity="0.9"/>
<circle cx="242.0" cy="181.4" r="1.6" fill="#858585" fill-opacity="0.9"/>
<circle cx="255.0" cy="176.0" r="2.4" fill="#fc0f0f" fill-opacity="0.9"/>
<circle cx="254.7" cy="179.8" r="2.4" fill="#fc0f0f" fill-opacity="0.9"/>
<circle cx="249.1" cy="183.1" r="2.7" fill="#fc0f0f" fill-opacity="0.9"/>
<circle cx="252.3" cy="187.4" r="3.3" fill="#858585" fill-opacity="0.9"/>
<circle cx="187.1" cy="183.6" r="4.3" fill="#fc0f0f" fill-opacity="0.9"/>
<circle cx="185.0" cy="188.0" r="4.9" fill="#aefb12" fill-opacity="0.9"/>
<circle cx="195.8" cy="188.5" r="4.9" fill="#858585" fill-opacity="0.9"/>
<circle cx="202.9" cy="186.9" r="4.3" fill="#9fd040" fill-opacity="0.9"/>
<circle cx="202.1" cy="190.9" r="4.3" fill="#aefb12" fill-opacity="0.9"/>
<circle cx="202.1" cy="190.9" r="1.3" fill="#fc0f0f" fill-opacity="0.9"/>
<circle cx="213.0" cy="185.8" r="2.7" fill="#fc0f0f" fill-opacity="0.9"/>
<circle cx="218.1" cy="187.4" r="3.3" fill="#aefb12" fill-opacity="0.9"/>
<circle cx="213.2" cy="191.2" r="1.6" fill="#858585" fill-opacity="0.9"/>
<circle cx="221.4" cy="192.8" r="2.0" fill="#858585" fill-opacity="0.9"/>
<circle cx="214.8" cy="199.9" r="4.6" fill="#858585" fill-opacity="0.9"/>
<circle cx="216.5" cy="203.7" r="2.4" fill="#fc0f0f" fill-opacity="0.9"/>
<circle cx="176.3" cy="197.2" r="2.7" fill="#fc0f0f" fill-opacity="0.9"/>
<circle cx="178.4" cy="195.0" r="3.8" fill="#858585" fill-opacity="0.9"/>
<circle cx="179.0" cy="202.1" r="2.2" fill="#858585" fill-opacity="0.9"/>
<circle cx="226.8" cy="202.1" r="2.7" fill="#858585" fill-opacity="0.9"/>
<circle cx="231.7" cy="200.4" r="2.4" fill="#858585" fill-opacity="0.9"/>
<circle cx="225.2" cy="207.5" r="3.8" fill="#858585" fill-opacity="0.9"/>
<circle cx="225.2" cy="207.2" r="2.2" fill="#fc0f0f" fill-opacity="0.9"/>
<circle cx="233.8" cy="209.7" r="3.8" fill="#9fd040" fill-opacity="0.9"/>
<circle cx="278.2" cy="132.2" r="2.7" fill="#858585" fill-opacity="0.9"/>
<circle cx="296.0" cy="137.2" r="1.6" fill="#858585" fill-opacity="0.9"/>
<circle cx="300.1" cy="136.6" r="1.8" fill="#fc0f0f" fill-opacity="0.9"/>
<circle cx="302.1" cy="148.1" r="2.4" fill="#858585" fill-opacity="0.9"/>
<circle cx="304.4" cy="152.6" r="1.8" fill="#fc0f0f" fill-opacity="0.9"/>
<circle cx="337.3" cy="119.5" r="4.9" fill="#aefb12" fill-opacity="0.9"/>
<circle cx="69.9" cy="215.3" r="3.3" fill="#858585" fill-opacity="0.9"/>
<circle cx="85.6" cy="215.5" r="2.7" fill="#fc0f0f" fill-opacity="0.9"/>
<circle cx="72.0" cy="226.2" r="4.1" fill="#fc0f0f" fill-opacity="0.9"/>
<circle cx="77.5" cy="223.5" r="2.0" fill="#858585" fill-opacity="0.9"/>
<circle cx="71.5" cy="231.6" r="2.2" fill="#858585" fill-opacity="0.9"/>
<circle cx="83.4" cy="232.5" r="2.4" fill="#fc0f0f" fill-opacity="0.9"/>
<circle cx="91.9" cy="237.0" r="2.4" fill="#858585" fill-opacity="0.9"/>
<circle cx="113.3" cy="222.9" r="2.4" fill="#858585" fill-opacity="0.9"/>
<circle cx="114.7" cy="228.4" r="2.7" fill="#fc0f0f" fill-opacity="0.9"/>
<circle cx="149.7" cy="221.8" r="2.2" fill="#fc0f0f" fill-opacity="0.9"/>
<circle cx="152.9" cy="222.9" r="1.6" fill="#858585" fill-opacity="0.9"/>
<circle cx="149.7" cy="229.4" r="4.9" fill="#aefb12" fill-opacity="0.9"/>
<circle cx="149.7" cy="229.7" r="4.1" fill="#fc0f0f" fill-opacity="0.9"/>
<circle cx="153.5" cy="234.9" r="4.3" fill="#858585" fill-opacity="0.9"/>
<circle cx="161.6" cy="235.7" r="1.8" fill="#858585" fill-opacity="0.9"/>
<circle cx="165.4" cy="239.8" r="2.4" fill="#aefb12" fill-opacity="0.9"/>
<circle cx="164.0" cy="243.6" r="4.9" fill="#fc0f0f" fill-opacity="0.9"/>
<circle cx="195.5" cy="217.3" r="2.7" fill="#858585" fill-opacity="0.9"/>
<circle cx="195.9" cy="223.5" r="2.4" fill="#858585" fill-opacity="0.9"/>
<circle cx="210.0" cy="216.6" r="1.8" fill="#858585" fill-opacity="0.9"/>
<circle cx="189.9" cy="229.4" r="2.2" fill="#fc0f0f" fill-opacity="0.9"/>
<circle cx="192.6" cy="239.8" r="1.6" fill="#858585" fill-opacity="0.9"/>
<circle cx="192.1" cy="245.2" r="3.8" fill="#858585" fill-opacity="0.9"/>
<circle cx="193.1" cy="244.1" r="3.3" fill="#fc0f0f" fill-opacity="0.9"/>
<circle cx="186.1" cy="247.9" r="2.2" fill="#858585" fill-opacity="0.9"/>
<circle cx="75.6" cy="248.1" r="3.5" fill="#858585" fill-opacity="0.9"/>
<circle cx="76.4" cy="253.1" r="2.2" fill="#858585" fill-opacity="0.9"/>
<circle cx="91.6" cy="255.0" r="2.2" fill="#858585" fill-opacity="0.9"/>
<circle cx="88.9" cy="256.4" r="1.6" fill="#858585" fill-opacity="0.9"/>
<circle cx="108.2" cy="244.9" r="4.9" fill="#fc0f0f" fill-opacity="0.9"/>
<circle cx="120.9" cy="250.6" r="2.2" fill="#fc0f0f" fill-opacity="0.9"/>
<circle cx="125.2" cy="247.9" r="2.4" fill="#858585" fill-opacity="0.9"/>
<circle cx="136.4" cy="245.9" r="1.8" fill="#858585" fill-opacity="0.9"/>
<circle cx="147.0" cy="250.9" r="2.2" fill="#858585" fill-opacity="0.9"/>
<circle cx="151.6" cy="255.7" r="4.9" fill="#aefb12" fill-opacity="0.9"/>
<circle cx="157.3" cy="252.8" r="1.6" fill="#858585" fill-opacity="0.9"/>
<circle cx="162.2" cy="256.8" r="4.3" fill="#aefb12" fill-opacity="0.9"/>
<circle cx="161.9" cy="256.8" r="2.7" fill="#fc0f0f" fill-opacity="0.9"/>
<circle cx="169.8" cy="260.9" r="2.4" fill="#858585" fill-opacity="0.9"/>
<circle cx="106.6" cy="258.2" r="4.9" fill="#fc0f0f" fill-opacity="0.9"/>
<circle cx="100.0" cy="262.0" r="2.0" fill="#858585" fill-opacity="0.9"/>
<circle cx="124.5" cy="260.6" r="4.9" fill="#fc0f0f" fill-opacity="0.9"/>
<circle cx="91.6" cy="266.6" r="2.4" fill="#858585" fill-opacity="0.9"/>
<circle cx="137.2" cy="268.3" r="2.0" fill="#858585" fill-opacity="0.9"/>
<circle cx="110.4" cy="272.6" r="2.0" fill="#aefb12" fill-opacity="0.9"/>
<circle cx="116.9" cy="274.7" r="4.9" fill="#fc0f0f" fill-opacity="0.9"/>
<circle cx="133.4" cy="276.1" r="2.4" fill="#858585" fill-opacity="0.9"/>
<circle cx="133.9" cy="275.6" r="1.6" fill="#aefb12" fill-opacity="0.9"/>
<circle cx="137.2" cy="281.0" r="4.9" fill="#fc0f0f" fill-opacity="0.9"/>
<circle cx="156.8" cy="284.8" r="4.9" fill="#9fd040" fill-opacity="0.9"/>
<circle cx="156.8" cy="288.1" r="2.4" fill="#fc0f0f" fill-opacity="0.9"/>
<circle cx="106.0" cy="283.2" r="2.4" fill="#fc0f0f" fill-opacity="0.9"/>
<circle cx="104.9" cy="292.2" r="2.2" fill="#fc0f0f" fill-opacity="0.9"/>
<circle cx="94.3" cy="300.6" r="4.9" fill="#858585" fill-opacity="0.9"/>
<circle cx="126.7" cy="299.2" r="2.0" fill="#858585" fill-opacity="0.9"/>
<circle cx="158.4" cy="299.0" r="4.9" fill="#fcfc12" fill-opacity="0.9"/>
<circle cx="158.4" cy="300.3" r="2.0" fill="#f5a314" fill-opacity="0.9"/>
<circle cx="119.1" cy="308.5" r="1.8" fill="#858585" fill-opacity="0.9"/>
<circle cx="129.8" cy="318.3" r="4.3" fill="#858585" fill-opacity="0.9"/>
<circle cx="129.8" cy="318.5" r="2.7" fill="#fc0f0f" fill-opacity="0.9"/>
<circle cx="134.5" cy="322.0" r="2.2" fill="#858585" fill-opacity="0.9"/>
<circle cx="129.1" cy="323.4" r="1.6" fill="#858585" fill-opacity="0.9"/>
<circle cx="132.1" cy="327.7" r="2.4" fill="#858585" fill-opacity="0.9"/>
<circle cx="153.5" cy="321.8" r="3.8" fill="#858585" fill-opacity="0.9"/>
<circle cx="149.7" cy="320.7" r="4.9" fill="#aefb12" fill-opacity="0.9"/>
<circle cx="148.6" cy="321.2" r="2.7" fill="#fc0f0f" fill-opacity="0.9"/>
<circle cx="144.3" cy="326.1" r="2.2" fill="#858585" fill-opacity="0.9"/>
<circle cx="141.0" cy="330.5" r="1.6" fill="#858585" fill-opacity="0.9"/>
<circle cx="152.4" cy="330.5" r="2.4" fill="#858585" fill-opacity="0.9"/>
<circle cx="119.8" cy="329.2" r="1.8" fill="#858585" fill-opacity="0.9"/>
<circle cx="118.0" cy="331.0" r="2.2" fill="#aefb12" fill-opacity="0.9"/>
<circle cx="112.8" cy="340.8" r="1.6" fill="#858585" fill-opacity="0.9"/>
<circle cx="113.8" cy="343.0" r="2.0" fill="#fc0f0f" fill-opacity="0.9"/>
<circle cx="142.6" cy="343.5" r="4.9" fill="#aefb12" fill-opacity="0.9"/>
<circle cx="131.0" cy="347.6" r="2.0" fill="#858585" fill-opacity="0.9"/>
<circle cx="129.1" cy="356.0" r="2.7" fill="#858585" fill-opacity="0.9"/>
<circle cx="133.9" cy="356.3" r="4.9" fill="#aefb12" fill-opacity="0.9"/>
<circle cx="133.9" cy="356.3" r="2.7" fill="#fc0f0f" fill-opacity="0.9"/>
</g>
<rect x="95.50" y="531.50" width="376" height="400" fill="none" stroke="#1e1e1e" stroke-width="1.1"/>
<line x1="134.35" y1="931.10" x2="134.35" y2="935.10" stroke="#555" stroke-width="1"/>
<text x="134.4" y="953.1" font-size="19.3" text-anchor="middle" fill="#000">70</text>
<line x1="193.35" y1="931.10" x2="193.35" y2="935.10" stroke="#555" stroke-width="1"/>
<text x="193.4" y="953.1" font-size="19.3" text-anchor="middle" fill="#000">75</text>
<line x1="252.35" y1="931.10" x2="252.35" y2="935.10" stroke="#555" stroke-width="1"/>
<text x="252.3" y="953.1" font-size="19.3" text-anchor="middle" fill="#000">80</text>
<line x1="311.35" y1="931.10" x2="311.35" y2="935.10" stroke="#555" stroke-width="1"/>
<text x="311.4" y="953.1" font-size="19.3" text-anchor="middle" fill="#000">85</text>
<line x1="370.35" y1="931.10" x2="370.35" y2="935.10" stroke="#555" stroke-width="1"/>
<text x="370.4" y="953.1" font-size="19.3" text-anchor="middle" fill="#000">90</text>
<line x1="429.35" y1="931.10" x2="429.35" y2="935.10" stroke="#555" stroke-width="1"/>
<text x="429.4" y="953.1" font-size="19.3" text-anchor="middle" fill="#000">95</text>
<line x1="91.90" y1="872.10" x2="95.90" y2="872.10" stroke="#555" stroke-width="1"/>
<text x="88.4" y="879.7" font-size="19.5" text-anchor="end" fill="#000">10</text>
<line x1="91.90" y1="808.70" x2="95.90" y2="808.70" stroke="#555" stroke-width="1"/>
<text x="88.4" y="816.3" font-size="19.5" text-anchor="end" fill="#000">15</text>
<line x1="91.90" y1="745.30" x2="95.90" y2="745.30" stroke="#555" stroke-width="1"/>
<text x="88.4" y="752.9" font-size="19.5" text-anchor="end" fill="#000">20</text>
<line x1="91.90" y1="681.90" x2="95.90" y2="681.90" stroke="#555" stroke-width="1"/>
<text x="88.4" y="689.5" font-size="19.5" text-anchor="end" fill="#000">25</text>
<line x1="91.90" y1="618.50" x2="95.90" y2="618.50" stroke="#555" stroke-width="1"/>
<text x="88.4" y="626.1" font-size="19.5" text-anchor="end" fill="#000">30</text>
<line x1="91.90" y1="555.10" x2="95.90" y2="555.10" stroke="#555" stroke-width="1"/>
<text x="88.4" y="562.7" font-size="19.5" text-anchor="end" fill="#000">35</text>
<text x="284.0" y="528.7" font-size="31.5" text-anchor="middle" fill="#000">2020–2030</text>
<text x="289.8" y="975.7" font-size="23.5" text-anchor="middle" fill="#000">Longitude (°E)</text>
<text x="314.4" y="555.8" font-size="20.2" text-anchor="start" fill="#231815">n=1009</text>
<text x="465.0" y="555.8" font-size="20.2" text-anchor="end" fill="#231815">178 GW</text>
<circle cx="300.2" cy="573.7" r="4.3" fill="#fc0f0f"/>
<text x="314.4" y="576.8" font-size="20.2" text-anchor="start" fill="#231815">n=296</text>
<text x="465.0" y="576.8" font-size="20.2" text-anchor="end" fill="#231815">55 GW</text>
<circle cx="300.2" cy="593.7" r="4.3" fill="#aefb12"/>
<text x="314.4" y="596.7" font-size="20.2" text-anchor="start" fill="#231815">n=110</text>
<text x="465.0" y="596.7" font-size="20.2" text-anchor="end" fill="#231815">52 GW</text>
<circle cx="300.2" cy="611.4" r="4.3" fill="#fcfc12"/>
<text x="314.4" y="617.7" font-size="20.2" text-anchor="start" fill="#231815">n=3</text>
<text x="459.0" y="617.7" font-size="20.2" text-anchor="end" fill="#231815">2 GW</text>
<g transform="translate(531.70,531.30)" fill="#d3d3d3">
<path d="M133.4,17.7 L135.3,26.8 L143.8,32.3 L141.4,41.5 L146.9,48.8 L148.1,54.3 L143.8,57.4 L139.5,55.6 L138.9,59.8 L142.6,67.2 L143.8,73.3 L151.1,74.5 L157.3,79.4 L168.9,83.7 L162.1,90.4 L159.7,97.7 L157.9,101.4 L167.0,105.7 L180.5,113.6 L188.8,117.2 L204.0,118.2 L212.2,122.3 L223.4,127.4 L237.6,131.4 L250.9,132.0 L251.9,124.3 L251.9,113.1 L258.0,111.1 L261.1,113.6 L260.0,122.3 L264.1,126.4 L272.3,127.4 L286.5,126.4 L317.1,125.3 L321.1,119.2 L336.4,111.1 L342.5,108.5 L352.7,112.1 L357.8,115.2 L356.3,119.2 L358.8,123.3 L353.7,122.3 L342.5,126.4 L335.4,131.4 L334.9,138.6 L330.3,146.7 L329.3,153.8 L324.2,163.0 L322.2,165.6 L315.0,165.0 L313.5,175.2 L311.5,184.4 L307.9,189.5 L304.8,188.5 L302.3,175.2 L300.8,168.6 L296.7,173.2 L293.6,176.8 L289.6,173.2 L288.0,168.1 L289.6,163.0 L298.7,157.9 L301.8,150.8 L288.6,149.3 L272.3,147.7 L271.8,137.6 L270.2,138.6 L264.1,136.5 L258.0,133.5 L253.4,138.6 L258.0,143.7 L262.6,146.7 L256.0,150.8 L252.4,154.9 L259.0,160.0 L258.5,166.1 L261.1,171.2 L262.1,180.3 L263.6,188.5 L263.6,194.1 L250.9,194.6 L249.9,191.5 L239.7,197.6 L237.6,200.7 L239.7,205.8 L235.6,209.9 L231.5,213.9 L225.4,218.0 L216.3,223.4 L204.5,236.4 L197.3,240.4 L190.5,246.5 L185.1,249.9 L184.4,256.7 L176.9,260.1 L171.5,260.8 L166.8,267.6 L162.0,268.3 L157.9,275.7 L158.6,285.2 L160.6,294.7 L160.0,305.6 L154.5,319.2 L155.2,336.8 L148.4,338.2 L144.4,346.3 L148.4,349.7 L145.7,350.4 L136.2,353.1 L133.5,359.9 L126.7,365.3 L122.6,362.6 L115.8,354.5 L111.8,342.3 L105.0,323.3 L96.8,311.0 L92.1,294.7 L88.7,285.2 L86.0,279.8 L77.8,260.8 L75.1,245.9 L71.0,230.9 L69.0,214.6 L71.0,205.1 L68.3,197.0 L67.0,186.8 L66.3,191.5 L61.5,199.0 L49.3,205.1 L45.2,204.4 L33.0,193.6 L24.9,183.4 L25.3,185.7 L25.9,183.9 L30.2,182.0 L41.2,177.8 L33.8,179.6 L26.5,177.8 L19.2,172.3 L16.7,164.9 L22.8,159.4 L38.1,160.7 L44.8,160.0 L49.1,157.0 L49.1,152.7 L46.0,146.6 L43.6,142.9 L39.3,139.3 L38.7,130.7 L32.0,128.3 L32.0,123.4 L41.2,113.0 L44.8,111.8 L47.3,114.8 L58.3,113.6 L60.7,111.2 L65.6,102.6 L72.9,98.9 L78.4,86.7 L83.9,81.8 L91.3,73.3 L91.3,65.9 L92.5,62.3 L100.4,58.6 L92.5,56.2 L92.5,53.7 L85.2,45.8 L85.2,37.8 L82.1,31.7 L83.9,28.1 L90.0,26.2 L104.7,29.3 L116.9,25.6 L129.1,18.3 Z"/>
<path d="M309.6,293.4 L311.4,296.9 L310.1,304.8 L311.0,312.8 L310.5,317.2 L308.3,314.5 L307.0,320.7 L306.1,325.1 L304.3,324.2 L303.5,319.8 L304.8,312.8 L305.7,304.0 L307.4,296.9 Z"/>
<ellipse cx="303.5" cy="330.9" rx="1.9" ry="3.1"/>
<ellipse cx="307.0" cy="350.7" rx="1.3" ry="1.3"/>
<ellipse cx="314.9" cy="364.8" rx="2.2" ry="2.6"/>
<ellipse cx="318.5" cy="376.3" rx="1.9" ry="4.4"/>
<ellipse cx="311.0" cy="361.3" rx="1.1" ry="1.6"/>
<ellipse cx="313.6" cy="288.5" rx="0.7" ry="1.1"/>
<ellipse cx="316.7" cy="278.8" rx="0.5" ry="0.9"/>
<rect x="63.4" y="319.2" width="1.6" height="1.4"/>
<rect x="69.6" y="318.5" width="1.6" height="1.4"/>
<rect x="72.9" y="321.2" width="1.6" height="1.4"/>
<rect x="70.0" y="324.6" width="1.6" height="1.4"/>
<rect x="63.4" y="328.7" width="1.6" height="1.4"/>
<rect x="68.2" y="332.7" width="1.6" height="1.4"/>
<rect x="80.7" y="329.3" width="1.6" height="1.4"/>
<rect x="64.5" y="338.8" width="1.6" height="1.4"/>
<rect x="80.4" y="338.2" width="1.6" height="1.4"/>
<rect x="73.2" y="361.2" width="1.6" height="1.4"/>
</g>
<g transform="translate(531.70,531.30)">
<circle cx="96.1" cy="66.3" r="2.2" fill="#fc0f0f" fill-opacity="0.9"/>
<circle cx="99.1" cy="70.1" r="2.4" fill="#fc0f0f" fill-opacity="0.9"/>
<circle cx="116.3" cy="71.7" r="2.0" fill="#858585" fill-opacity="0.9"/>
<circle cx="116.0" cy="74.2" r="2.7" fill="#fc0f0f" fill-opacity="0.9"/>
<circle cx="116.3" cy="80.4" r="4.9" fill="#fc0f0f" fill-opacity="0.9"/>
<circle cx="96.4" cy="84.2" r="2.4" fill="#fc0f0f" fill-opacity="0.9"/>
<circle cx="100.2" cy="88.6" r="4.9" fill="#fc0f0f" fill-opacity="0.9"/>
<circle cx="107.6" cy="84.8" r="2.2" fill="#fc0f0f" fill-opacity="0.9"/>
<circle cx="124.6" cy="86.2" r="3.5" fill="#fc0f0f" fill-opacity="0.9"/>
<circle cx="127.4" cy="88.3" r="1.3" fill="#858585" fill-opacity="0.9"/>
<circle cx="107.6" cy="95.9" r="4.9" fill="#fc0f0f" fill-opacity="0.9"/>
<circle cx="119.5" cy="95.1" r="2.7" fill="#fc0f0f" fill-opacity="0.9"/>
<circle cx="130.6" cy="94.2" r="1.8" fill="#858585" fill-opacity="0.9"/>
<circle cx="86.1" cy="97.8" r="3.0" fill="#fc0f0f" fill-opacity="0.9"/>
<circle cx="113.2" cy="106.7" r="4.9" fill="#fc0f0f" fill-opacity="0.9"/>
<circle cx="127.9" cy="105.1" r="4.1" fill="#fc0f0f" fill-opacity="0.9"/>
<circle cx="135.5" cy="102.5" r="2.0" fill="#fc0f0f" fill-opacity="0.9"/>
<circle cx="144.5" cy="97.8" r="2.4" fill="#fc0f0f" fill-opacity="0.9"/>
<circle cx="150.7" cy="99.4" r="2.4" fill="#fc0f0f" fill-opacity="0.9"/>
<circle cx="154.3" cy="107.0" r="2.7" fill="#fc0f0f" fill-opacity="0.9"/>
<circle cx="131.2" cy="110.8" r="4.3" fill="#aefb12" fill-opacity="0.9"/>
<circle cx="134.4" cy="112.7" r="4.3" fill="#fcfc12" fill-opacity="0.9"/>
<circle cx="134.4" cy="112.7" r="2.2" fill="#f5a314" fill-opacity="0.9"/>
<circle cx="142.6" cy="119.0" r="4.9" fill="#aefb12" fill-opacity="0.9"/>
<circle cx="155.6" cy="115.2" r="3.5" fill="#858585" fill-opacity="0.9"/>
<circle cx="166.2" cy="113.0" r="2.7" fill="#858585" fill-opacity="0.9"/>
<circle cx="101.3" cy="115.5" r="2.2" fill="#fcfc12" fill-opacity="0.9"/>
<circle cx="72.0" cy="114.8" r="2.2" fill="#858585" fill-opacity="0.9"/>
<circle cx="76.3" cy="114.8" r="2.4" fill="#858585" fill-opacity="0.9"/>
<circle cx="107.3" cy="126.4" r="2.0" fill="#858585" fill-opacity="0.9"/>
<circle cx="82.3" cy="130.2" r="2.2" fill="#858585" fill-opacity="0.9"/>
<circle cx="88.8" cy="133.6" r="3.0" fill="#858585" fill-opacity="0.9"/>
<circle cx="90.2" cy="137.2" r="1.6" fill="#858585" fill-opacity="0.9"/>
<circle cx="113.0" cy="136.6" r="1.8" fill="#858585" fill-opacity="0.9"/>
<circle cx="54.4" cy="139.4" r="2.7" fill="#858585" fill-opacity="0.9"/>
<circle cx="141.7" cy="144.2" r="2.7" fill="#fc0f0f" fill-opacity="0.9"/>
<circle cx="140.4" cy="153.2" r="4.9" fill="#fc0f0f" fill-opacity="0.9"/>
<circle cx="106.9" cy="148.5" r="2.7" fill="#fc0f0f" fill-opacity="0.9"/>
<circle cx="108.9" cy="145.9" r="2.0" fill="#aefb12" fill-opacity="0.9"/>
<circle cx="110.0" cy="156.5" r="4.6" fill="#858585" fill-opacity="0.9"/>
<circle cx="118.1" cy="153.5" r="4.6" fill="#858585" fill-opacity="0.9"/>
<circle cx="121.9" cy="155.4" r="4.3" fill="#858585" fill-opacity="0.9"/>
<circle cx="93.7" cy="153.2" r="3.3" fill="#858585" fill-opacity="0.9"/>
<circle cx="92.6" cy="147.8" r="1.6" fill="#858585" fill-opacity="0.9"/>
<circle cx="94.6" cy="155.9" r="2.2" fill="#858585" fill-opacity="0.9"/>
<circle cx="87.2" cy="151.3" r="2.4" fill="#858585" fill-opacity="0.9"/>
<circle cx="74.7" cy="152.9" r="2.2" fill="#fc0f0f" fill-opacity="0.9"/>
<circle cx="73.6" cy="154.8" r="1.6" fill="#858585" fill-opacity="0.9"/>
<circle cx="82.6" cy="158.9" r="2.4" fill="#858585" fill-opacity="0.9"/>
<circle cx="134.1" cy="159.4" r="2.4" fill="#858585" fill-opacity="0.9"/>
<circle cx="165.6" cy="138.7" r="1.8" fill="#858585" fill-opacity="0.9"/>
<circle cx="172.1" cy="139.1" r="2.7" fill="#fc0f0f" fill-opacity="0.9"/>
<circle cx="167.5" cy="154.8" r="2.7" fill="#fc0f0f" fill-opacity="0.9"/>
<circle cx="163.7" cy="162.4" r="1.8" fill="#fc0f0f" fill-opacity="0.9"/>
<circle cx="171.9" cy="160.8" r="4.6" fill="#d0c840" fill-opacity="0.9"/>
<circle cx="168.9" cy="171.7" r="3.3" fill="#fc0f0f" fill-opacity="0.9"/>
<circle cx="155.4" cy="179.3" r="4.6" fill="#9c9c9c" fill-opacity="0.9"/>
<circle cx="142.6" cy="177.6" r="4.9" fill="#f05a14" fill-opacity="0.9"/>
<circle cx="127.1" cy="174.4" r="2.2" fill="#fc0f0f" fill-opacity="0.9"/>
<circle cx="128.7" cy="178.7" r="1.6" fill="#858585" fill-opacity="0.9"/>
<circle cx="134.7" cy="187.2" r="4.3" fill="#fcfc12" fill-opacity="0.9"/>
<circle cx="134.7" cy="187.2" r="2.4" fill="#f5a314" fill-opacity="0.9"/>
<circle cx="108.7" cy="187.2" r="4.6" fill="#858585" fill-opacity="0.9"/>
<circle cx="115.4" cy="187.4" r="4.9" fill="#fc0f0f" fill-opacity="0.9"/>
<circle cx="102.4" cy="186.5" r="1.6" fill="#858585" fill-opacity="0.9"/>
<circle cx="98.2" cy="183.6" r="2.0" fill="#aefb12" fill-opacity="0.9"/>
<circle cx="102.2" cy="170.2" r="2.7" fill="#fc0f0f" fill-opacity="0.9"/>
<circle cx="90.6" cy="168.9" r="2.2" fill="#858585" fill-opacity="0.9"/>
<circle cx="69.8" cy="172.7" r="2.7" fill="#fc0f0f" fill-opacity="0.9"/>
<circle cx="68.7" cy="176.0" r="2.2" fill="#858585" fill-opacity="0.9"/>
<circle cx="78.3" cy="177.4" r="4.3" fill="#fc0f0f" fill-opacity="0.9"/>
<circle cx="75.2" cy="183.6" r="1.8" fill="#858585" fill-opacity="0.9"/>
<circle cx="145.8" cy="197.2" r="2.7" fill="#fc0f0f" fill-opacity="0.9"/>
<circle cx="141.5" cy="198.8" r="1.6" fill="#858585" fill-opacity="0.9"/>
<circle cx="152.3" cy="198.3" r="1.6" fill="#858585" fill-opacity="0.9"/>
<circle cx="148.2" cy="203.2" r="4.9" fill="#fcfc12" fill-opacity="0.9"/>
<circle cx="144.2" cy="210.2" r="3.0" fill="#fc0f0f" fill-opacity="0.9"/>
<circle cx="149.1" cy="211.8" r="2.7" fill="#fc0f0f" fill-opacity="0.9"/>
<circle cx="152.9" cy="212.4" r="1.6" fill="#fc0f0f" fill-opacity="0.9"/>
<circle cx="118.4" cy="204.8" r="2.7" fill="#858585" fill-opacity="0.9"/>
<circle cx="170.8" cy="198.8" r="2.2" fill="#858585" fill-opacity="0.9"/>
<circle cx="22.5" cy="166.2" r="3.3" fill="#fc0f0f" fill-opacity="0.9"/>
<circle cx="23.6" cy="170.0" r="2.2" fill="#fc0f0f" fill-opacity="0.9"/>
<circle cx="28.5" cy="164.4" r="1.6" fill="#858585" fill-opacity="0.9"/>
<circle cx="35.0" cy="171.1" r="2.4" fill="#858585" fill-opacity="0.9"/>
<circle cx="32.9" cy="177.6" r="4.9" fill="#858585" fill-opacity="0.9"/>
<circle cx="35.6" cy="184.7" r="4.3" fill="#858585" fill-opacity="0.9"/>
<circle cx="40.5" cy="173.3" r="3.0" fill="#fc0f0f" fill-opacity="0.9"/>
<circle cx="44.8" cy="171.7" r="1.6" fill="#858585" fill-opacity="0.9"/>
<circle cx="26.9" cy="183.6" r="1.8" fill="#fc0f0f" fill-opacity="0.9"/>
<circle cx="34.5" cy="192.8" r="2.2" fill="#aefb12" fill-opacity="0.9"/>
<circle cx="42.6" cy="202.1" r="2.2" fill="#fc0f0f" fill-opacity="0.9"/>
<circle cx="46.8" cy="203.5" r="2.4" fill="#858585" fill-opacity="0.9"/>
<circle cx="55.7" cy="202.1" r="2.4" fill="#858585" fill-opacity="0.9"/>
<circle cx="64.4" cy="191.8" r="2.4" fill="#fc0f0f" fill-opacity="0.9"/>
<circle cx="64.9" cy="194.5" r="2.2" fill="#fc0f0f" fill-opacity="0.9"/>
<circle cx="69.2" cy="192.3" r="3.0" fill="#aefb12" fill-opacity="0.9"/>
<circle cx="74.1" cy="192.8" r="3.3" fill="#858585" fill-opacity="0.9"/>
<circle cx="73.6" cy="196.1" r="2.7" fill="#fc0f0f" fill-opacity="0.9"/>
<circle cx="75.8" cy="196.1" r="2.2" fill="#fc0f0f" fill-opacity="0.9"/>
<circle cx="69.6" cy="199.4" r="2.7" fill="#aefb12" fill-opacity="0.9"/>
<circle cx="72.5" cy="200.4" r="2.7" fill="#fc0f0f" fill-opacity="0.9"/>
<circle cx="80.6" cy="198.8" r="3.8" fill="#9c9c9c" fill-opacity="0.9"/>
<circle cx="72.8" cy="209.1" r="2.0" fill="#aefb12" fill-opacity="0.9"/>
<circle cx="70.9" cy="212.6" r="1.6" fill="#fc0f0f" fill-opacity="0.9"/>
<circle cx="183.6" cy="120.3" r="2.2" fill="#fc0f0f" fill-opacity="0.9"/>
<circle cx="182.5" cy="124.9" r="2.2" fill="#fc0f0f" fill-opacity="0.9"/>
<circle cx="186.9" cy="130.4" r="4.6" fill="#f05a14" fill-opacity="0.9"/>
<circle cx="194.2" cy="128.3" r="1.6" fill="#858585" fill-opacity="0.9"/>
<circle cx="176.3" cy="135.5" r="1.6" fill="#858585" fill-opacity="0.9"/>
<circle cx="173.3" cy="139.1" r="1.6" fill="#fc0f0f" fill-opacity="0.9"/>
<circle cx="218.7" cy="135.3" r="2.7" fill="#fc0f0f" fill-opacity="0.9"/>
<circle cx="224.1" cy="144.5" r="4.9" fill="#ff3010" fill-opacity="0.9"/>
<circle cx="243.4" cy="144.5" r="3.8" fill="#858585" fill-opacity="0.9"/>
<circle cx="243.4" cy="144.8" r="2.4" fill="#fc0f0f" fill-opacity="0.9"/>
<circle cx="240.4" cy="152.6" r="4.9" fill="#aefb12" fill-opacity="0.9"/>
<circle cx="249.3" cy="152.9" r="3.8" fill="#fc0f0f" fill-opacity="0.9"/>
<circle cx="251.7" cy="158.6" r="4.6" fill="#d0c840" fill-opacity="0.9"/>
<circle cx="202.1" cy="144.0" r="4.9" fill="#fcfc12" fill-opacity="0.9"/>
<circle cx="179.3" cy="148.5" r="4.9" fill="#f05a14" fill-opacity="0.9"/>
<circle cx="190.5" cy="149.4" r="2.2" fill="#858585" fill-opacity="0.9"/>
<circle cx="204.8" cy="153.2" r="4.9" fill="#aefb12" fill-opacity="0.9"/>
<circle cx="205.0" cy="155.0" r="4.1" fill="#f05a14" fill-opacity="0.9"/>
<circle cx="201.8" cy="160.3" r="2.2" fill="#fc0f0f" fill-opacity="0.9"/>
<circle cx="222.0" cy="157.5" r="4.1" fill="#858585" fill-opacity="0.9"/>
<circle cx="220.9" cy="161.9" r="1.6" fill="#fc0f0f" fill-opacity="0.9"/>
<circle cx="177.6" cy="161.3" r="4.9" fill="#858585" fill-opacity="0.9"/>
<circle cx="185.2" cy="163.0" r="4.9" fill="#fc0f0f" fill-opacity="0.9"/>
<circle cx="191.2" cy="157.5" r="4.9" fill="#fcfc12" fill-opacity="0.9"/>
<circle cx="189.6" cy="161.9" r="4.3" fill="#fcfc12" fill-opacity="0.9"/>
<circle cx="173.8" cy="160.8" r="3.3" fill="#d0c840" fill-opacity="0.9"/>
<circle cx="215.7" cy="165.1" r="4.9" fill="#aefb12" fill-opacity="0.9"/>
<circle cx="218.4" cy="167.9" r="4.3" fill="#aefb12" fill-opacity="0.9"/>
<circle cx="225.4" cy="166.8" r="3.0" fill="#fc0f0f" fill-opacity="0.9"/>
<circle cx="221.6" cy="167.3" r="2.7" fill="#fc0f0f" fill-opacity="0.9"/>
<circle cx="235.2" cy="167.3" r="4.9" fill="#fc0f0f" fill-opacity="0.9"/>
<circle cx="240.6" cy="169.5" r="3.8" fill="#fc0f0f" fill-opacity="0.9"/>
<circle cx="244.4" cy="165.1" r="2.4" fill="#fc0f0f" fill-opacity="0.9"/>
<circle cx="252.4" cy="167.6" r="2.2" fill="#858585" fill-opacity="0.9"/>
<circle cx="177.1" cy="174.9" r="4.6" fill="#858585" fill-opacity="0.9"/>
<circle cx="227.6" cy="177.6" r="2.7" fill="#858585" fill-opacity="0.9"/>
<circle cx="229.8" cy="178.9" r="2.4" fill="#fc0f0f" fill-opacity="0.9"/>
<circle cx="223.8" cy="183.3" r="1.6" fill="#858585" fill-opacity="0.9"/>
<circle cx="242.3" cy="181.1" r="1.6" fill="#858585" fill-opacity="0.9"/>
<circle cx="255.3" cy="175.7" r="1.8" fill="#fc0f0f" fill-opacity="0.9"/>
<circle cx="254.2" cy="182.0" r="2.7" fill="#fc0f0f" fill-opacity="0.9"/>
<circle cx="249.3" cy="183.1" r="2.7" fill="#fc0f0f" fill-opacity="0.9"/>
<circle cx="252.8" cy="187.6" r="3.3" fill="#858585" fill-opacity="0.9"/>
<circle cx="187.4" cy="180.9" r="3.8" fill="#858585" fill-opacity="0.9"/>
<circle cx="185.2" cy="188.5" r="5.4" fill="#aefb12" fill-opacity="0.9"/>
<circle cx="196.1" cy="188.0" r="6.0" fill="#fc0f0f" fill-opacity="0.9"/>
<circle cx="195.0" cy="192.8" r="4.3" fill="#fc0f0f" fill-opacity="0.9"/>
<circle cx="204.3" cy="188.0" r="4.9" fill="#aefb12" fill-opacity="0.9"/>
<circle cx="202.1" cy="193.4" r="3.3" fill="#fc0f0f" fill-opacity="0.9"/>
<circle cx="212.9" cy="185.8" r="2.7" fill="#858585" fill-opacity="0.9"/>
<circle cx="219.5" cy="186.9" r="2.7" fill="#aefb12" fill-opacity="0.9"/>
<circle cx="217.8" cy="189.6" r="2.4" fill="#aefb12" fill-opacity="0.9"/>
<circle cx="214.4" cy="191.2" r="1.6" fill="#858585" fill-opacity="0.9"/>
<circle cx="222.4" cy="192.8" r="2.2" fill="#858585" fill-opacity="0.9"/>
<circle cx="216.2" cy="199.9" r="4.9" fill="#fc0f0f" fill-opacity="0.9"/>
<circle cx="177.6" cy="195.0" r="4.3" fill="#858585" fill-opacity="0.9"/>
<circle cx="175.5" cy="197.7" r="2.2" fill="#fc0f0f" fill-opacity="0.9"/>
<circle cx="179.8" cy="202.1" r="2.2" fill="#858585" fill-opacity="0.9"/>
<circle cx="227.1" cy="202.1" r="2.7" fill="#858585" fill-opacity="0.9"/>
<circle cx="232.5" cy="199.9" r="2.4" fill="#858585" fill-opacity="0.9"/>
<circle cx="225.4" cy="208.0" r="4.1" fill="#858585" fill-opacity="0.9"/>
<circle cx="234.7" cy="210.0" r="4.3" fill="#aefb12" fill-opacity="0.9"/>
<circle cx="234.7" cy="210.0" r="2.4" fill="#fc0f0f" fill-opacity="0.9"/>
<circle cx="278.4" cy="132.2" r="2.7" fill="#858585" fill-opacity="0.9"/>
<circle cx="296.0" cy="137.4" r="1.8" fill="#fc0f0f" fill-opacity="0.9"/>
<circle cx="302.3" cy="148.1" r="2.7" fill="#858585" fill-opacity="0.9"/>
<circle cx="337.5" cy="119.2" r="4.9" fill="#fcfc12" fill-opacity="0.9"/>
<circle cx="70.7" cy="214.2" r="2.7" fill="#fc0f0f" fill-opacity="0.9"/>
<circle cx="70.7" cy="216.9" r="2.2" fill="#858585" fill-opacity="0.9"/>
<circle cx="76.7" cy="223.5" r="2.0" fill="#858585" fill-opacity="0.9"/>
<circle cx="72.0" cy="227.0" r="2.4" fill="#fc0f0f" fill-opacity="0.9"/>
<circle cx="72.6" cy="231.4" r="2.4" fill="#858585" fill-opacity="0.9"/>
<circle cx="84.3" cy="232.2" r="2.7" fill="#fc0f0f" fill-opacity="0.9"/>
<circle cx="92.6" cy="236.8" r="2.4" fill="#858585" fill-opacity="0.9"/>
<circle cx="114.3" cy="223.1" r="2.4" fill="#fc0f0f" fill-opacity="0.9"/>
<circle cx="145.6" cy="216.4" r="2.7" fill="#fc0f0f" fill-opacity="0.9"/>
<circle cx="148.3" cy="214.2" r="3.3" fill="#fc0f0f" fill-opacity="0.9"/>
<circle cx="150.2" cy="221.8" r="1.6" fill="#858585" fill-opacity="0.9"/>
<circle cx="154.1" cy="223.1" r="1.8" fill="#fc0f0f" fill-opacity="0.9"/>
<circle cx="154.3" cy="234.9" r="4.3" fill="#858585" fill-opacity="0.9"/>
<circle cx="150.0" cy="229.2" r="4.9" fill="#fcfc12" fill-opacity="0.9"/>
<circle cx="161.9" cy="235.7" r="1.8" fill="#fc0f0f" fill-opacity="0.9"/>
<circle cx="166.3" cy="239.2" r="2.7" fill="#aefb12" fill-opacity="0.9"/>
<circle cx="164.6" cy="244.1" r="4.3" fill="#fc0f0f" fill-opacity="0.9"/>
<circle cx="196.5" cy="217.3" r="2.4" fill="#858585" fill-opacity="0.9"/>
<circle cx="196.7" cy="223.5" r="2.2" fill="#858585" fill-opacity="0.9"/>
<circle cx="210.6" cy="216.6" r="1.6" fill="#858585" fill-opacity="0.9"/>
<circle cx="190.7" cy="229.4" r="1.8" fill="#858585" fill-opacity="0.9"/>
<circle cx="193.2" cy="244.1" r="4.3" fill="#fc0f0f" fill-opacity="0.9"/>
<circle cx="193.4" cy="239.2" r="1.6" fill="#fc0f0f" fill-opacity="0.9"/>
<circle cx="187.1" cy="247.9" r="2.2" fill="#fc0f0f" fill-opacity="0.9"/>
<circle cx="76.3" cy="247.9" r="3.8" fill="#858585" fill-opacity="0.9"/>
<circle cx="77.4" cy="253.1" r="2.4" fill="#858585" fill-opacity="0.9"/>
<circle cx="92.6" cy="255.0" r="2.7" fill="#fc0f0f" fill-opacity="0.9"/>
<circle cx="89.7" cy="256.6" r="1.6" fill="#858585" fill-opacity="0.9"/>
<circle cx="100.9" cy="261.8" r="2.2" fill="#fc0f0f" fill-opacity="0.9"/>
<circle cx="92.2" cy="266.6" r="2.4" fill="#fc0f0f" fill-opacity="0.9"/>
<circle cx="121.7" cy="250.1" r="2.7" fill="#fc0f0f" fill-opacity="0.9"/>
<circle cx="126.1" cy="247.7" r="2.4" fill="#fc0f0f" fill-opacity="0.9"/>
<circle cx="125.2" cy="259.9" r="3.0" fill="#fc0f0f" fill-opacity="0.9"/>
<circle cx="137.2" cy="245.9" r="1.8" fill="#858585" fill-opacity="0.9"/>
<circle cx="147.6" cy="250.9" r="2.2" fill="#858585" fill-opacity="0.9"/>
<circle cx="152.1" cy="255.5" r="4.9" fill="#fcfc12" fill-opacity="0.9"/>
<circle cx="162.8" cy="256.6" r="4.3" fill="#d0c840" fill-opacity="0.9"/>
<circle cx="162.8" cy="256.6" r="2.4" fill="#f5a314" fill-opacity="0.9"/>
<circle cx="170.6" cy="260.7" r="2.4" fill="#858585" fill-opacity="0.9"/>
<circle cx="138.2" cy="268.3" r="1.8" fill="#858585" fill-opacity="0.9"/>
<circle cx="110.9" cy="272.7" r="1.6" fill="#f05a14" fill-opacity="0.9"/>
<circle cx="117.4" cy="274.5" r="4.3" fill="#fc0f0f" fill-opacity="0.9"/>
<circle cx="114.1" cy="275.1" r="2.7" fill="#fc0f0f" fill-opacity="0.9"/>
<circle cx="132.4" cy="276.1" r="1.8" fill="#858585" fill-opacity="0.9"/>
<circle cx="134.2" cy="276.1" r="2.0" fill="#aefb12" fill-opacity="0.9"/>
<circle cx="138.2" cy="280.7" r="3.0" fill="#fc0f0f" fill-opacity="0.9"/>
<circle cx="134.8" cy="281.0" r="1.3" fill="#858585" fill-opacity="0.9"/>
<circle cx="158.1" cy="285.4" r="4.9" fill="#fc0f0f" fill-opacity="0.9"/>
<circle cx="106.5" cy="283.2" r="2.0" fill="#fc0f0f" fill-opacity="0.9"/>
<circle cx="105.8" cy="292.2" r="1.8" fill="#fc0f0f" fill-opacity="0.9"/>
<circle cx="127.4" cy="299.2" r="1.8" fill="#fc0f0f" fill-opacity="0.9"/>
<circle cx="95.1" cy="300.6" r="4.9" fill="#fc0f0f" fill-opacity="0.9"/>
<circle cx="157.0" cy="298.1" r="4.1" fill="#fcfc12" fill-opacity="0.9"/>
<circle cx="160.3" cy="299.5" r="4.6" fill="#ff3010" fill-opacity="0.9"/>
<circle cx="119.8" cy="308.5" r="1.8" fill="#fc0f0f" fill-opacity="0.9"/>
<circle cx="130.4" cy="318.0" r="4.3" fill="#fc0f0f" fill-opacity="0.9"/>
<circle cx="135.6" cy="322.0" r="2.2" fill="#858585" fill-opacity="0.9"/>
<circle cx="129.9" cy="323.9" r="1.6" fill="#858585" fill-opacity="0.9"/>
<circle cx="132.8" cy="327.4" r="2.4" fill="#fc0f0f" fill-opacity="0.9"/>
<circle cx="149.8" cy="320.7" r="4.3" fill="#fcfc12" fill-opacity="0.9"/>
<circle cx="153.5" cy="321.6" r="4.6" fill="#ff3010" fill-opacity="0.9"/>
<circle cx="145.6" cy="325.6" r="1.6" fill="#858585" fill-opacity="0.9"/>
<circle cx="143.5" cy="328.3" r="1.6" fill="#858585" fill-opacity="0.9"/>
<circle cx="140.7" cy="330.7" r="1.6" fill="#858585" fill-opacity="0.9"/>
<circle cx="153.2" cy="330.2" r="2.2" fill="#fc0f0f" fill-opacity="0.9"/>
<circle cx="120.4" cy="329.2" r="1.8" fill="#858585" fill-opacity="0.9"/>
<circle cx="118.3" cy="330.7" r="2.0" fill="#fcfc12" fill-opacity="0.9"/>
<circle cx="113.6" cy="341.3" r="2.2" fill="#858585" fill-opacity="0.9"/>
<circle cx="114.7" cy="343.3" r="1.3" fill="#858585" fill-opacity="0.9"/>
<circle cx="143.5" cy="343.5" r="4.9" fill="#fcfc12" fill-opacity="0.9"/>
<circle cx="132.1" cy="347.6" r="1.8" fill="#858585" fill-opacity="0.9"/>
<circle cx="129.1" cy="356.0" r="2.2" fill="#858585" fill-opacity="0.9"/>
<circle cx="136.1" cy="357.6" r="3.3" fill="#fcfc12" fill-opacity="0.9"/>
<circle cx="134.2" cy="354.4" r="4.9" fill="#ff3010" fill-opacity="0.9"/>
</g>
<rect x="531.50" y="531.50" width="376" height="400" fill="none" stroke="#1e1e1e" stroke-width="1.1"/>
<line x1="570.15" y1="931.10" x2="570.15" y2="935.10" stroke="#555" stroke-width="1"/>
<text x="570.2" y="953.1" font-size="19.3" text-anchor="middle" fill="#000">70</text>
<line x1="629.15" y1="931.10" x2="629.15" y2="935.10" stroke="#555" stroke-width="1"/>
<text x="629.2" y="953.1" font-size="19.3" text-anchor="middle" fill="#000">75</text>
<line x1="688.15" y1="931.10" x2="688.15" y2="935.10" stroke="#555" stroke-width="1"/>
<text x="688.2" y="953.1" font-size="19.3" text-anchor="middle" fill="#000">80</text>
<line x1="747.15" y1="931.10" x2="747.15" y2="935.10" stroke="#555" stroke-width="1"/>
<text x="747.2" y="953.1" font-size="19.3" text-anchor="middle" fill="#000">85</text>
<line x1="806.15" y1="931.10" x2="806.15" y2="935.10" stroke="#555" stroke-width="1"/>
<text x="806.2" y="953.1" font-size="19.3" text-anchor="middle" fill="#000">90</text>
<line x1="865.15" y1="931.10" x2="865.15" y2="935.10" stroke="#555" stroke-width="1"/>
<text x="865.2" y="953.1" font-size="19.3" text-anchor="middle" fill="#000">95</text>
<text x="712.9" y="528.7" font-size="31.5" text-anchor="middle" fill="#000">2030–2040</text>
<text x="724.7" y="975.7" font-size="23.5" text-anchor="middle" fill="#000">Longitude (°E)</text>
<circle cx="743.3" cy="552.8" r="4.3" fill="#858585"/>
<text x="755.9" y="555.8" font-size="20.2" text-anchor="start" fill="#231815">n=667</text>
<text x="895.2" y="555.8" font-size="20.2" text-anchor="end" fill="#231815">101 GW</text>
<circle cx="743.3" cy="573.7" r="4.3" fill="#fc0f0f"/>
<text x="755.9" y="576.8" font-size="20.2" text-anchor="start" fill="#231815">n=342</text>
<text x="895.2" y="576.8" font-size="20.2" text-anchor="end" fill="#231815">76 GW</text>
<circle cx="743.3" cy="593.7" r="4.3" fill="#aefb12"/>
<text x="755.9" y="596.7" font-size="20.2" text-anchor="start" fill="#231815">n=67</text>
<text x="895.2" y="596.7" font-size="20.2" text-anchor="end" fill="#231815">26 GW</text>
<circle cx="743.3" cy="611.4" r="4.3" fill="#fcfc12"/>
<text x="755.9" y="617.7" font-size="20.2" text-anchor="start" fill="#231815">n=43</text>
<text x="895.2" y="617.7" font-size="20.2" text-anchor="end" fill="#231815">26 GW</text>
<g transform="translate(962.40,531.30)" fill="#d3d3d3">
<path d="M133.4,17.7 L135.3,26.8 L143.8,32.3 L141.4,41.5 L146.9,48.8 L148.1,54.3 L143.8,57.4 L139.5,55.6 L138.9,59.8 L142.6,67.2 L143.8,73.3 L151.1,74.5 L157.3,79.4 L168.9,83.7 L162.1,90.4 L159.7,97.7 L157.9,101.4 L167.0,105.7 L180.5,113.6 L188.8,117.2 L204.0,118.2 L212.2,122.3 L223.4,127.4 L237.6,131.4 L250.9,132.0 L251.9,124.3 L251.9,113.1 L258.0,111.1 L261.1,113.6 L260.0,122.3 L264.1,126.4 L272.3,127.4 L286.5,126.4 L317.1,125.3 L321.1,119.2 L336.4,111.1 L342.5,108.5 L352.7,112.1 L357.8,115.2 L356.3,119.2 L358.8,123.3 L353.7,122.3 L342.5,126.4 L335.4,131.4 L334.9,138.6 L330.3,146.7 L329.3,153.8 L324.2,163.0 L322.2,165.6 L315.0,165.0 L313.5,175.2 L311.5,184.4 L307.9,189.5 L304.8,188.5 L302.3,175.2 L300.8,168.6 L296.7,173.2 L293.6,176.8 L289.6,173.2 L288.0,168.1 L289.6,163.0 L298.7,157.9 L301.8,150.8 L288.6,149.3 L272.3,147.7 L271.8,137.6 L270.2,138.6 L264.1,136.5 L258.0,133.5 L253.4,138.6 L258.0,143.7 L262.6,146.7 L256.0,150.8 L252.4,154.9 L259.0,160.0 L258.5,166.1 L261.1,171.2 L262.1,180.3 L263.6,188.5 L263.6,194.1 L250.9,194.6 L249.9,191.5 L239.7,197.6 L237.6,200.7 L239.7,205.8 L235.6,209.9 L231.5,213.9 L225.4,218.0 L216.3,223.4 L204.5,236.4 L197.3,240.4 L190.5,246.5 L185.1,249.9 L184.4,256.7 L176.9,260.1 L171.5,260.8 L166.8,267.6 L162.0,268.3 L157.9,275.7 L158.6,285.2 L160.6,294.7 L160.0,305.6 L154.5,319.2 L155.2,336.8 L148.4,338.2 L144.4,346.3 L148.4,349.7 L145.7,350.4 L136.2,353.1 L133.5,359.9 L126.7,365.3 L122.6,362.6 L115.8,354.5 L111.8,342.3 L105.0,323.3 L96.8,311.0 L92.1,294.7 L88.7,285.2 L86.0,279.8 L77.8,260.8 L75.1,245.9 L71.0,230.9 L69.0,214.6 L71.0,205.1 L68.3,197.0 L67.0,186.8 L66.3,191.5 L61.5,199.0 L49.3,205.1 L45.2,204.4 L33.0,193.6 L24.9,183.4 L25.3,185.7 L25.9,183.9 L30.2,182.0 L41.2,177.8 L33.8,179.6 L26.5,177.8 L19.2,172.3 L16.7,164.9 L22.8,159.4 L38.1,160.7 L44.8,160.0 L49.1,157.0 L49.1,152.7 L46.0,146.6 L43.6,142.9 L39.3,139.3 L38.7,130.7 L32.0,128.3 L32.0,123.4 L41.2,113.0 L44.8,111.8 L47.3,114.8 L58.3,113.6 L60.7,111.2 L65.6,102.6 L72.9,98.9 L78.4,86.7 L83.9,81.8 L91.3,73.3 L91.3,65.9 L92.5,62.3 L100.4,58.6 L92.5,56.2 L92.5,53.7 L85.2,45.8 L85.2,37.8 L82.1,31.7 L83.9,28.1 L90.0,26.2 L104.7,29.3 L116.9,25.6 L129.1,18.3 Z"/>
<path d="M309.6,293.4 L311.4,296.9 L310.1,304.8 L311.0,312.8 L310.5,317.2 L308.3,314.5 L307.0,320.7 L306.1,325.1 L304.3,324.2 L303.5,319.8 L304.8,312.8 L305.7,304.0 L307.4,296.9 Z"/>
<ellipse cx="303.5" cy="330.9" rx="1.9" ry="3.1"/>
<ellipse cx="307.0" cy="350.7" rx="1.3" ry="1.3"/>
<ellipse cx="314.9" cy="364.8" rx="2.2" ry="2.6"/>
<ellipse cx="318.5" cy="376.3" rx="1.9" ry="4.4"/>
<ellipse cx="311.0" cy="361.3" rx="1.1" ry="1.6"/>
<ellipse cx="313.6" cy="288.5" rx="0.7" ry="1.1"/>
<ellipse cx="316.7" cy="278.8" rx="0.5" ry="0.9"/>
<rect x="63.4" y="319.2" width="1.6" height="1.4"/>
<rect x="69.6" y="318.5" width="1.6" height="1.4"/>
<rect x="72.9" y="321.2" width="1.6" height="1.4"/>
<rect x="70.0" y="324.6" width="1.6" height="1.4"/>
<rect x="63.4" y="328.7" width="1.6" height="1.4"/>
<rect x="68.2" y="332.7" width="1.6" height="1.4"/>
<rect x="80.7" y="329.3" width="1.6" height="1.4"/>
<rect x="64.5" y="338.8" width="1.6" height="1.4"/>
<rect x="80.4" y="338.2" width="1.6" height="1.4"/>
<rect x="73.2" y="361.2" width="1.6" height="1.4"/>
</g>
<g transform="translate(962.40,531.30)">
<circle cx="116.3" cy="72.3" r="2.4" fill="#fc0f0f" fill-opacity="0.9"/>
<circle cx="116.7" cy="82.6" r="1.8" fill="#fc0f0f" fill-opacity="0.9"/>
<circle cx="107.1" cy="84.8" r="1.8" fill="#fc0f0f" fill-opacity="0.9"/>
<circle cx="127.5" cy="88.3" r="1.8" fill="#fc0f0f" fill-opacity="0.9"/>
<circle cx="130.5" cy="94.2" r="1.8" fill="#fc0f0f" fill-opacity="0.9"/>
<circle cx="135.3" cy="102.5" r="1.8" fill="#fc0f0f" fill-opacity="0.9"/>
<circle cx="124.5" cy="104.0" r="1.8" fill="#858585" fill-opacity="0.9"/>
<circle cx="132.1" cy="103.2" r="1.6" fill="#858585" fill-opacity="0.9"/>
<circle cx="131.5" cy="110.5" r="4.9" fill="#fcfc12" fill-opacity="0.9"/>
<circle cx="142.1" cy="119.0" r="4.9" fill="#fcfc12" fill-opacity="0.9"/>
<circle cx="155.4" cy="115.2" r="3.5" fill="#fc0f0f" fill-opacity="0.9"/>
<circle cx="165.8" cy="112.7" r="2.7" fill="#858585" fill-opacity="0.9"/>
<circle cx="71.8" cy="114.6" r="2.4" fill="#fc0f0f" fill-opacity="0.9"/>
<circle cx="76.1" cy="114.8" r="2.2" fill="#858585" fill-opacity="0.9"/>
<circle cx="106.7" cy="126.4" r="2.2" fill="#fc0f0f" fill-opacity="0.9"/>
<circle cx="81.9" cy="130.2" r="2.2" fill="#fc0f0f" fill-opacity="0.9"/>
<circle cx="88.1" cy="133.6" r="3.0" fill="#fc0f0f" fill-opacity="0.9"/>
<circle cx="89.9" cy="137.2" r="1.6" fill="#fc0f0f" fill-opacity="0.9"/>
<circle cx="112.5" cy="136.6" r="1.8" fill="#fc0f0f" fill-opacity="0.9"/>
<circle cx="53.7" cy="139.4" r="2.7" fill="#fc0f0f" fill-opacity="0.9"/>
<circle cx="108.7" cy="145.6" r="2.0" fill="#fcfc12" fill-opacity="0.9"/>
<circle cx="106.9" cy="148.5" r="2.7" fill="#fc0f0f" fill-opacity="0.9"/>
<circle cx="109.8" cy="156.8" r="4.6" fill="#fc0f0f" fill-opacity="0.9"/>
<circle cx="117.4" cy="153.2" r="4.6" fill="#fc0f0f" fill-opacity="0.9"/>
<circle cx="121.2" cy="155.4" r="4.3" fill="#fc0f0f" fill-opacity="0.9"/>
<circle cx="93.0" cy="153.2" r="3.3" fill="#fc0f0f" fill-opacity="0.9"/>
<circle cx="92.4" cy="147.4" r="1.6" fill="#fc0f0f" fill-opacity="0.9"/>
<circle cx="93.9" cy="155.9" r="2.2" fill="#fc0f0f" fill-opacity="0.9"/>
<circle cx="87.0" cy="151.3" r="2.4" fill="#fc0f0f" fill-opacity="0.9"/>
<circle cx="74.0" cy="153.5" r="2.4" fill="#fc0f0f" fill-opacity="0.9"/>
<circle cx="82.1" cy="158.6" r="2.4" fill="#fc0f0f" fill-opacity="0.9"/>
<circle cx="134.0" cy="159.2" r="2.4" fill="#fc0f0f" fill-opacity="0.9"/>
<circle cx="165.5" cy="138.5" r="1.8" fill="#fc0f0f" fill-opacity="0.9"/>
<circle cx="171.4" cy="139.1" r="3.8" fill="#fc0f0f" fill-opacity="0.9"/>
<circle cx="166.3" cy="155.9" r="1.8" fill="#fc0f0f" fill-opacity="0.9"/>
<circle cx="170.1" cy="155.9" r="1.6" fill="#fc0f0f" fill-opacity="0.9"/>
<circle cx="171.7" cy="159.2" r="2.2" fill="#fc0f0f" fill-opacity="0.9"/>
<circle cx="165.8" cy="160.0" r="1.6" fill="#858585" fill-opacity="0.9"/>
<circle cx="163.0" cy="162.4" r="1.8" fill="#fc0f0f" fill-opacity="0.9"/>
<circle cx="168.5" cy="172.0" r="3.8" fill="#fc0f0f" fill-opacity="0.9"/>
<circle cx="154.9" cy="179.3" r="4.6" fill="#fc0f0f" fill-opacity="0.9"/>
<circle cx="141.6" cy="176.5" r="4.9" fill="#fcfc12" fill-opacity="0.9"/>
<circle cx="126.9" cy="174.4" r="2.4" fill="#fc0f0f" fill-opacity="0.9"/>
<circle cx="128.6" cy="178.9" r="1.6" fill="#fc0f0f" fill-opacity="0.9"/>
<circle cx="108.4" cy="187.2" r="4.9" fill="#fc0f0f" fill-opacity="0.9"/>
<circle cx="102.5" cy="186.5" r="1.6" fill="#fc0f0f" fill-opacity="0.9"/>
<circle cx="97.9" cy="183.6" r="2.0" fill="#aefb12" fill-opacity="0.9"/>
<circle cx="101.9" cy="170.2" r="2.7" fill="#fc0f0f" fill-opacity="0.9"/>
<circle cx="90.3" cy="168.9" r="2.4" fill="#fc0f0f" fill-opacity="0.9"/>
<circle cx="69.3" cy="172.7" r="2.4" fill="#fc0f0f" fill-opacity="0.9"/>
<circle cx="68.2" cy="176.0" r="2.2" fill="#fc0f0f" fill-opacity="0.9"/>
<circle cx="77.6" cy="177.4" r="1.8" fill="#fc0f0f" fill-opacity="0.9"/>
<circle cx="75.1" cy="183.6" r="1.8" fill="#fc0f0f" fill-opacity="0.9"/>
<circle cx="141.3" cy="198.3" r="2.2" fill="#fc0f0f" fill-opacity="0.9"/>
<circle cx="145.1" cy="198.3" r="2.2" fill="#fc0f0f" fill-opacity="0.9"/>
<circle cx="143.8" cy="201.5" r="2.2" fill="#fc0f0f" fill-opacity="0.9"/>
<circle cx="151.6" cy="198.3" r="1.8" fill="#fc0f0f" fill-opacity="0.9"/>
<circle cx="117.7" cy="204.8" r="2.7" fill="#fc0f0f" fill-opacity="0.9"/>
<circle cx="144.0" cy="210.2" r="3.8" fill="#fc0f0f" fill-opacity="0.9"/>
<circle cx="150.0" cy="212.4" r="2.2" fill="#fc0f0f" fill-opacity="0.9"/>
<circle cx="169.9" cy="198.8" r="2.4" fill="#fc0f0f" fill-opacity="0.9"/>
<circle cx="23.5" cy="167.3" r="2.7" fill="#fc0f0f" fill-opacity="0.9"/>
<circle cx="21.3" cy="169.5" r="2.7" fill="#fc0f0f" fill-opacity="0.9"/>
<circle cx="28.4" cy="164.4" r="1.8" fill="#858585" fill-opacity="0.9"/>
<circle cx="34.9" cy="171.1" r="2.7" fill="#858585" fill-opacity="0.9"/>
<circle cx="30.5" cy="178.2" r="3.3" fill="#858585" fill-opacity="0.9"/>
<circle cx="33.8" cy="177.6" r="4.9" fill="#fc0f0f" fill-opacity="0.9"/>
<circle cx="34.9" cy="184.7" r="4.6" fill="#fc0f0f" fill-opacity="0.9"/>
<circle cx="44.1" cy="171.7" r="1.8" fill="#fc0f0f" fill-opacity="0.9"/>
<circle cx="34.3" cy="192.6" r="1.6" fill="#fc0f0f" fill-opacity="0.9"/>
<circle cx="33.2" cy="193.4" r="1.3" fill="#aefb12" fill-opacity="0.9"/>
<circle cx="41.9" cy="202.1" r="1.8" fill="#fc0f0f" fill-opacity="0.9"/>
<circle cx="46.3" cy="203.5" r="2.4" fill="#fc0f0f" fill-opacity="0.9"/>
<circle cx="55.2" cy="202.1" r="2.4" fill="#fc0f0f" fill-opacity="0.9"/>
<circle cx="68.5" cy="192.3" r="2.7" fill="#fc0f0f" fill-opacity="0.9"/>
<circle cx="72.1" cy="190.5" r="1.6" fill="#858585" fill-opacity="0.9"/>
<circle cx="75.1" cy="193.4" r="2.7" fill="#fc0f0f" fill-opacity="0.9"/>
<circle cx="69.1" cy="199.4" r="2.7" fill="#fc0f0f" fill-opacity="0.9"/>
<circle cx="73.4" cy="198.3" r="2.7" fill="#fc0f0f" fill-opacity="0.9"/>
<circle cx="71.3" cy="195.0" r="1.6" fill="#aefb12" fill-opacity="0.9"/>
<circle cx="80.2" cy="198.5" r="4.1" fill="#fc0f0f" fill-opacity="0.9"/>
<circle cx="72.9" cy="209.7" r="2.0" fill="#fc0f0f" fill-opacity="0.9"/>
<circle cx="186.7" cy="130.4" r="4.9" fill="#d0c840" fill-opacity="0.9"/>
<circle cx="193.8" cy="128.3" r="1.8" fill="#fc0f0f" fill-opacity="0.9"/>
<circle cx="175.9" cy="135.5" r="1.8" fill="#fc0f0f" fill-opacity="0.9"/>
<circle cx="173.7" cy="139.6" r="1.8" fill="#fc0f0f" fill-opacity="0.9"/>
<circle cx="175.9" cy="147.8" r="4.6" fill="#fc0f0f" fill-opacity="0.9"/>
<circle cx="190.0" cy="149.4" r="2.4" fill="#fc0f0f" fill-opacity="0.9"/>
<circle cx="204.6" cy="153.2" r="4.9" fill="#fcfc12" fill-opacity="0.9"/>
<circle cx="204.6" cy="153.7" r="2.7" fill="#f5a314" fill-opacity="0.9"/>
<circle cx="191.6" cy="156.5" r="4.1" fill="#d0c840" fill-opacity="0.9"/>
<circle cx="186.2" cy="164.1" r="3.8" fill="#858585" fill-opacity="0.9"/>
<circle cx="188.9" cy="161.3" r="4.9" fill="#fc0f0f" fill-opacity="0.9"/>
<circle cx="178.6" cy="161.3" r="4.3" fill="#fc0f0f" fill-opacity="0.9"/>
<circle cx="201.9" cy="160.3" r="2.2" fill="#858585" fill-opacity="0.9"/>
<circle cx="227.5" cy="142.3" r="2.4" fill="#fc0f0f" fill-opacity="0.9"/>
<circle cx="243.2" cy="144.8" r="4.3" fill="#fc0f0f" fill-opacity="0.9"/>
<circle cx="240.2" cy="152.6" r="4.9" fill="#fcfc12" fill-opacity="0.9"/>
<circle cx="249.2" cy="152.9" r="4.1" fill="#fc0f0f" fill-opacity="0.9"/>
<circle cx="251.7" cy="158.6" r="4.1" fill="#fc0f0f" fill-opacity="0.9"/>
<circle cx="221.7" cy="157.9" r="4.1" fill="#858585" fill-opacity="0.9"/>
<circle cx="216.0" cy="165.1" r="4.9" fill="#fcfc12" fill-opacity="0.9"/>
<circle cx="219.3" cy="167.9" r="4.3" fill="#fcfc12" fill-opacity="0.9"/>
<circle cx="225.3" cy="164.6" r="2.7" fill="#fc0f0f" fill-opacity="0.9"/>
<circle cx="228.0" cy="167.3" r="3.0" fill="#fc0f0f" fill-opacity="0.9"/>
<circle cx="231.3" cy="168.4" r="2.2" fill="#fc0f0f" fill-opacity="0.9"/>
<circle cx="235.6" cy="164.6" r="3.8" fill="#858585" fill-opacity="0.9"/>
<circle cx="239.9" cy="168.9" r="4.9" fill="#fc0f0f" fill-opacity="0.9"/>
<circle cx="244.3" cy="166.2" r="2.4" fill="#fc0f0f" fill-opacity="0.9"/>
<circle cx="231.3" cy="171.7" r="1.6" fill="#fc0f0f" fill-opacity="0.9"/>
<circle cx="251.9" cy="167.6" r="2.2" fill="#fc0f0f" fill-opacity="0.9"/>
<circle cx="176.9" cy="175.5" r="4.9" fill="#fc0f0f" fill-opacity="0.9"/>
<circle cx="228.0" cy="178.5" r="3.8" fill="#fc0f0f" fill-opacity="0.9"/>
<circle cx="223.7" cy="183.6" r="1.6" fill="#fc0f0f" fill-opacity="0.9"/>
<circle cx="225.8" cy="180.9" r="1.6" fill="#fc0f0f" fill-opacity="0.9"/>
<circle cx="242.1" cy="181.1" r="1.6" fill="#858585" fill-opacity="0.9"/>
<circle cx="255.2" cy="175.7" r="1.6" fill="#858585" fill-opacity="0.9"/>
<circle cx="253.0" cy="182.0" r="2.4" fill="#fc0f0f" fill-opacity="0.9"/>
<circle cx="252.1" cy="187.4" r="3.5" fill="#858585" fill-opacity="0.9"/>
<circle cx="193.8" cy="192.8" r="2.7" fill="#858585" fill-opacity="0.9"/>
<circle cx="186.7" cy="184.1" r="4.3" fill="#fc0f0f" fill-opacity="0.9"/>
<circle cx="182.4" cy="187.4" r="4.9" fill="#fc0f0f" fill-opacity="0.9"/>
<circle cx="190.0" cy="188.5" r="2.7" fill="#fcfc12" fill-opacity="0.9"/>
<circle cx="200.3" cy="185.2" r="4.3" fill="#fc0f0f" fill-opacity="0.9"/>
<circle cx="203.0" cy="191.2" r="4.9" fill="#fc0f0f" fill-opacity="0.9"/>
<circle cx="195.4" cy="188.5" r="3.3" fill="#fc0f0f" fill-opacity="0.9"/>
<circle cx="211.7" cy="185.5" r="2.7" fill="#fc0f0f" fill-opacity="0.9"/>
<circle cx="219.1" cy="187.4" r="2.7" fill="#fc0f0f" fill-opacity="0.9"/>
<circle cx="218.2" cy="189.6" r="1.6" fill="#aefb12" fill-opacity="0.9"/>
<circle cx="213.9" cy="190.9" r="1.6" fill="#858585" fill-opacity="0.9"/>
<circle cx="222.0" cy="192.8" r="2.2" fill="#858585" fill-opacity="0.9"/>
<circle cx="215.0" cy="199.9" r="4.9" fill="#fc0f0f" fill-opacity="0.9"/>
<circle cx="218.2" cy="203.7" r="3.3" fill="#fc0f0f" fill-opacity="0.9"/>
<circle cx="176.9" cy="195.0" r="4.3" fill="#fc0f0f" fill-opacity="0.9"/>
<circle cx="179.7" cy="202.1" r="1.8" fill="#fc0f0f" fill-opacity="0.9"/>
<circle cx="232.1" cy="200.2" r="2.4" fill="#858585" fill-opacity="0.9"/>
<circle cx="226.9" cy="201.5" r="2.7" fill="#fc0f0f" fill-opacity="0.9"/>
<circle cx="226.4" cy="208.6" r="4.3" fill="#fc0f0f" fill-opacity="0.9"/>
<circle cx="234.5" cy="209.7" r="4.3" fill="#d0c840" fill-opacity="0.9"/>
<circle cx="278.5" cy="132.2" r="2.4" fill="#fc0f0f" fill-opacity="0.9"/>
<circle cx="301.9" cy="148.1" r="2.4" fill="#fc0f0f" fill-opacity="0.9"/>
<circle cx="70.5" cy="216.4" r="2.7" fill="#fc0f0f" fill-opacity="0.9"/>
<circle cx="76.5" cy="223.5" r="2.2" fill="#fc0f0f" fill-opacity="0.9"/>
<circle cx="72.4" cy="226.0" r="2.2" fill="#fc0f0f" fill-opacity="0.9"/>
<circle cx="71.9" cy="231.1" r="2.7" fill="#fc0f0f" fill-opacity="0.9"/>
<circle cx="83.9" cy="232.2" r="2.4" fill="#fc0f0f" fill-opacity="0.9"/>
<circle cx="92.2" cy="236.8" r="2.4" fill="#858585" fill-opacity="0.9"/>
<circle cx="76.0" cy="247.9" r="3.5" fill="#fc0f0f" fill-opacity="0.9"/>
<circle cx="77.0" cy="253.1" r="2.2" fill="#fc0f0f" fill-opacity="0.9"/>
<circle cx="89.5" cy="256.4" r="2.0" fill="#fc0f0f" fill-opacity="0.9"/>
<circle cx="146.2" cy="215.3" r="3.8" fill="#fc0f0f" fill-opacity="0.9"/>
<circle cx="149.8" cy="221.6" r="1.8" fill="#fc0f0f" fill-opacity="0.9"/>
<circle cx="150.1" cy="228.4" r="4.6" fill="#d0c840" fill-opacity="0.9"/>
<circle cx="153.8" cy="234.3" r="4.3" fill="#fc0f0f" fill-opacity="0.9"/>
<circle cx="165.4" cy="239.8" r="2.7" fill="#aefb12" fill-opacity="0.9"/>
<circle cx="163.6" cy="244.4" r="2.4" fill="#fc0f0f" fill-opacity="0.9"/>
<circle cx="196.2" cy="217.5" r="2.7" fill="#fc0f0f" fill-opacity="0.9"/>
<circle cx="196.2" cy="223.1" r="2.4" fill="#858585" fill-opacity="0.9"/>
<circle cx="210.3" cy="216.6" r="1.8" fill="#fc0f0f" fill-opacity="0.9"/>
<circle cx="190.3" cy="229.4" r="1.8" fill="#fc0f0f" fill-opacity="0.9"/>
<circle cx="187.1" cy="247.7" r="2.2" fill="#fc0f0f" fill-opacity="0.9"/>
<circle cx="190.8" cy="245.7" r="2.7" fill="#fc0f0f" fill-opacity="0.9"/>
<circle cx="193.8" cy="243.0" r="1.8" fill="#fc0f0f" fill-opacity="0.9"/>
<circle cx="137.1" cy="245.9" r="1.8" fill="#fc0f0f" fill-opacity="0.9"/>
<circle cx="147.3" cy="250.9" r="2.4" fill="#fc0f0f" fill-opacity="0.9"/>
<circle cx="152.0" cy="255.5" r="4.9" fill="#fcfc12" fill-opacity="0.9"/>
<circle cx="152.0" cy="255.5" r="2.7" fill="#ffd000" fill-opacity="0.9"/>
<circle cx="157.4" cy="253.9" r="1.6" fill="#fc0f0f" fill-opacity="0.9"/>
<circle cx="162.5" cy="256.6" r="4.1" fill="#fc0f0f" fill-opacity="0.9"/>
<circle cx="170.1" cy="260.7" r="2.4" fill="#fc0f0f" fill-opacity="0.9"/>
<circle cx="137.9" cy="268.3" r="1.8" fill="#fc0f0f" fill-opacity="0.9"/>
<circle cx="119.4" cy="275.1" r="2.4" fill="#fcfc12" fill-opacity="0.9"/>
<circle cx="132.8" cy="276.1" r="2.4" fill="#fc0f0f" fill-opacity="0.9"/>
<circle cx="134.6" cy="281.0" r="1.8" fill="#fc0f0f" fill-opacity="0.9"/>
<circle cx="157.1" cy="287.6" r="2.7" fill="#fc0f0f" fill-opacity="0.9"/>
<circle cx="157.1" cy="297.3" r="2.7" fill="#fc0f0f" fill-opacity="0.9"/>
<circle cx="158.5" cy="302.4" r="2.7" fill="#fc0f0f" fill-opacity="0.9"/>
<circle cx="131.4" cy="317.6" r="2.7" fill="#fc0f0f" fill-opacity="0.9"/>
<circle cx="134.9" cy="322.0" r="2.2" fill="#fc0f0f" fill-opacity="0.9"/>
<circle cx="129.5" cy="323.7" r="1.6" fill="#fc0f0f" fill-opacity="0.9"/>
<circle cx="132.4" cy="327.4" r="2.7" fill="#fc0f0f" fill-opacity="0.9"/>
<circle cx="145.1" cy="325.9" r="2.4" fill="#fc0f0f" fill-opacity="0.9"/>
<circle cx="143.3" cy="328.3" r="1.6" fill="#fc0f0f" fill-opacity="0.9"/>
<circle cx="140.6" cy="330.7" r="1.6" fill="#fc0f0f" fill-opacity="0.9"/>
<circle cx="120.2" cy="329.2" r="1.8" fill="#fc0f0f" fill-opacity="0.9"/>
<circle cx="113.2" cy="340.8" r="1.8" fill="#fc0f0f" fill-opacity="0.9"/>
<circle cx="114.5" cy="343.3" r="1.3" fill="#fc0f0f" fill-opacity="0.9"/>
<circle cx="131.7" cy="347.6" r="1.8" fill="#fc0f0f" fill-opacity="0.9"/>
<circle cx="129.2" cy="356.0" r="2.2" fill="#fc0f0f" fill-opacity="0.9"/>
<circle cx="133.2" cy="354.6" r="2.7" fill="#fc0f0f" fill-opacity="0.9"/>
</g>
<rect x="962.50" y="531.50" width="376" height="400" fill="none" stroke="#1e1e1e" stroke-width="1.1"/>
<line x1="1000.85" y1="931.10" x2="1000.85" y2="935.10" stroke="#555" stroke-width="1"/>
<text x="1000.9" y="953.1" font-size="19.3" text-anchor="middle" fill="#000">70</text>
<line x1="1059.85" y1="931.10" x2="1059.85" y2="935.10" stroke="#555" stroke-width="1"/>
<text x="1059.8" y="953.1" font-size="19.3" text-anchor="middle" fill="#000">75</text>
<line x1="1118.85" y1="931.10" x2="1118.85" y2="935.10" stroke="#555" stroke-width="1"/>
<text x="1118.8" y="953.1" font-size="19.3" text-anchor="middle" fill="#000">80</text>
<line x1="1177.85" y1="931.10" x2="1177.85" y2="935.10" stroke="#555" stroke-width="1"/>
<text x="1177.8" y="953.1" font-size="19.3" text-anchor="middle" fill="#000">85</text>
<line x1="1236.85" y1="931.10" x2="1236.85" y2="935.10" stroke="#555" stroke-width="1"/>
<text x="1236.8" y="953.1" font-size="19.3" text-anchor="middle" fill="#000">90</text>
<line x1="1295.85" y1="931.10" x2="1295.85" y2="935.10" stroke="#555" stroke-width="1"/>
<text x="1295.8" y="953.1" font-size="19.3" text-anchor="middle" fill="#000">95</text>
<text x="1143.4" y="528.7" font-size="31.5" text-anchor="middle" fill="#000">2040–2050</text>
<text x="1154.9" y="975.7" font-size="23.5" text-anchor="middle" fill="#000">Longitude (°E)</text>
<text x="1190.8" y="555.8" font-size="20.2" text-anchor="start" fill="#231815">n=161</text>
<text x="1325.2" y="555.8" font-size="20.2" text-anchor="end" fill="#231815">30 GW</text>
<circle cx="1175.5" cy="573.7" r="4.3" fill="#fc0f0f"/>
<text x="1190.8" y="576.8" font-size="20.2" text-anchor="start" fill="#231815">n=506</text>
<text x="1325.2" y="576.8" font-size="20.2" text-anchor="end" fill="#231815">71 GW</text>
<circle cx="1175.5" cy="593.7" r="4.3" fill="#aefb12"/>
<text x="1190.8" y="596.7" font-size="20.2" text-anchor="start" fill="#231815">n=25</text>
<text x="1325.2" y="596.7" font-size="20.2" text-anchor="end" fill="#231815">2 GW</text>
<circle cx="1175.5" cy="611.4" r="4.3" fill="#fcfc12"/>
<text x="1190.8" y="617.7" font-size="20.2" text-anchor="start" fill="#231815">n=42</text>
<text x="1325.2" y="617.7" font-size="20.2" text-anchor="end" fill="#231815">24 GW</text>
<g transform="translate(1395.30,531.30)" fill="#d3d3d3">
<path d="M133.4,17.7 L135.3,26.8 L143.8,32.3 L141.4,41.5 L146.9,48.8 L148.1,54.3 L143.8,57.4 L139.5,55.6 L138.9,59.8 L142.6,67.2 L143.8,73.3 L151.1,74.5 L157.3,79.4 L168.9,83.7 L162.1,90.4 L159.7,97.7 L157.9,101.4 L167.0,105.7 L180.5,113.6 L188.8,117.2 L204.0,118.2 L212.2,122.3 L223.4,127.4 L237.6,131.4 L250.9,132.0 L251.9,124.3 L251.9,113.1 L258.0,111.1 L261.1,113.6 L260.0,122.3 L264.1,126.4 L272.3,127.4 L286.5,126.4 L317.1,125.3 L321.1,119.2 L336.4,111.1 L342.5,108.5 L352.7,112.1 L357.8,115.2 L356.3,119.2 L358.8,123.3 L353.7,122.3 L342.5,126.4 L335.4,131.4 L334.9,138.6 L330.3,146.7 L329.3,153.8 L324.2,163.0 L322.2,165.6 L315.0,165.0 L313.5,175.2 L311.5,184.4 L307.9,189.5 L304.8,188.5 L302.3,175.2 L300.8,168.6 L296.7,173.2 L293.6,176.8 L289.6,173.2 L288.0,168.1 L289.6,163.0 L298.7,157.9 L301.8,150.8 L288.6,149.3 L272.3,147.7 L271.8,137.6 L270.2,138.6 L264.1,136.5 L258.0,133.5 L253.4,138.6 L258.0,143.7 L262.6,146.7 L256.0,150.8 L252.4,154.9 L259.0,160.0 L258.5,166.1 L261.1,171.2 L262.1,180.3 L263.6,188.5 L263.6,194.1 L250.9,194.6 L249.9,191.5 L239.7,197.6 L237.6,200.7 L239.7,205.8 L235.6,209.9 L231.5,213.9 L225.4,218.0 L216.3,223.4 L204.5,236.4 L197.3,240.4 L190.5,246.5 L185.1,249.9 L184.4,256.7 L176.9,260.1 L171.5,260.8 L166.8,267.6 L162.0,268.3 L157.9,275.7 L158.6,285.2 L160.6,294.7 L160.0,305.6 L154.5,319.2 L155.2,336.8 L148.4,338.2 L144.4,346.3 L148.4,349.7 L145.7,350.4 L136.2,353.1 L133.5,359.9 L126.7,365.3 L122.6,362.6 L115.8,354.5 L111.8,342.3 L105.0,323.3 L96.8,311.0 L92.1,294.7 L88.7,285.2 L86.0,279.8 L77.8,260.8 L75.1,245.9 L71.0,230.9 L69.0,214.6 L71.0,205.1 L68.3,197.0 L67.0,186.8 L66.3,191.5 L61.5,199.0 L49.3,205.1 L45.2,204.4 L33.0,193.6 L24.9,183.4 L25.3,185.7 L25.9,183.9 L30.2,182.0 L41.2,177.8 L33.8,179.6 L26.5,177.8 L19.2,172.3 L16.7,164.9 L22.8,159.4 L38.1,160.7 L44.8,160.0 L49.1,157.0 L49.1,152.7 L46.0,146.6 L43.6,142.9 L39.3,139.3 L38.7,130.7 L32.0,128.3 L32.0,123.4 L41.2,113.0 L44.8,111.8 L47.3,114.8 L58.3,113.6 L60.7,111.2 L65.6,102.6 L72.9,98.9 L78.4,86.7 L83.9,81.8 L91.3,73.3 L91.3,65.9 L92.5,62.3 L100.4,58.6 L92.5,56.2 L92.5,53.7 L85.2,45.8 L85.2,37.8 L82.1,31.7 L83.9,28.1 L90.0,26.2 L104.7,29.3 L116.9,25.6 L129.1,18.3 Z"/>
<path d="M309.6,293.4 L311.4,296.9 L310.1,304.8 L311.0,312.8 L310.5,317.2 L308.3,314.5 L307.0,320.7 L306.1,325.1 L304.3,324.2 L303.5,319.8 L304.8,312.8 L305.7,304.0 L307.4,296.9 Z"/>
<ellipse cx="303.5" cy="330.9" rx="1.9" ry="3.1"/>
<ellipse cx="307.0" cy="350.7" rx="1.3" ry="1.3"/>
<ellipse cx="314.9" cy="364.8" rx="2.2" ry="2.6"/>
<ellipse cx="318.5" cy="376.3" rx="1.9" ry="4.4"/>
<ellipse cx="311.0" cy="361.3" rx="1.1" ry="1.6"/>
<ellipse cx="313.6" cy="288.5" rx="0.7" ry="1.1"/>
<ellipse cx="316.7" cy="278.8" rx="0.5" ry="0.9"/>
<rect x="63.4" y="319.2" width="1.6" height="1.4"/>
<rect x="69.6" y="318.5" width="1.6" height="1.4"/>
<rect x="72.9" y="321.2" width="1.6" height="1.4"/>
<rect x="70.0" y="324.6" width="1.6" height="1.4"/>
<rect x="63.4" y="328.7" width="1.6" height="1.4"/>
<rect x="68.2" y="332.7" width="1.6" height="1.4"/>
<rect x="80.7" y="329.3" width="1.6" height="1.4"/>
<rect x="64.5" y="338.8" width="1.6" height="1.4"/>
<rect x="80.4" y="338.2" width="1.6" height="1.4"/>
<rect x="73.2" y="361.2" width="1.6" height="1.4"/>
</g>
<g transform="translate(1395.30,531.30)">
<circle cx="124.7" cy="104.1" r="1.8" fill="#fc0f0f" fill-opacity="0.9"/>
<circle cx="132.6" cy="102.9" r="1.8" fill="#fc0f0f" fill-opacity="0.9"/>
<circle cx="76.1" cy="114.7" r="2.6" fill="#fc0f0f" fill-opacity="0.9"/>
<circle cx="166.3" cy="112.7" r="2.6" fill="#fc0f0f" fill-opacity="0.9"/>
<circle cx="54.1" cy="139.4" r="2.6" fill="#fc0f0f" fill-opacity="0.9"/>
<circle cx="121.1" cy="155.5" r="2.6" fill="#fc0f0f" fill-opacity="0.9"/>
<circle cx="28.4" cy="164.2" r="1.8" fill="#fc0f0f" fill-opacity="0.9"/>
<circle cx="35.2" cy="171.4" r="2.6" fill="#fc0f0f" fill-opacity="0.9"/>
<circle cx="32.6" cy="178.3" r="5.0" fill="#fc0f0f" fill-opacity="0.9"/>
<circle cx="68.5" cy="175.7" r="2.2" fill="#fc0f0f" fill-opacity="0.9"/>
<circle cx="33.9" cy="193.4" r="2.0" fill="#fcfc12" fill-opacity="0.9"/>
<circle cx="98.3" cy="183.8" r="1.8" fill="#aefb12" fill-opacity="0.9"/>
<circle cx="68.5" cy="192.3" r="2.6" fill="#fc0f0f" fill-opacity="0.9"/>
<circle cx="72.4" cy="191.0" r="2.4" fill="#fc0f0f" fill-opacity="0.9"/>
<circle cx="75.7" cy="193.0" r="2.2" fill="#fc0f0f" fill-opacity="0.9"/>
<circle cx="72.2" cy="196.0" r="2.0" fill="#aefb12" fill-opacity="0.9"/>
<circle cx="69.8" cy="199.3" r="2.6" fill="#fc0f0f" fill-opacity="0.9"/>
<circle cx="73.5" cy="199.9" r="1.8" fill="#fcfc12" fill-opacity="0.9"/>
<circle cx="72.4" cy="208.8" r="2.0" fill="#fcfc12" fill-opacity="0.9"/>
<circle cx="165.9" cy="160.0" r="1.8" fill="#fc0f0f" fill-opacity="0.9"/>
<circle cx="172.4" cy="159.1" r="2.6" fill="#fc0f0f" fill-opacity="0.9"/>
<circle cx="188.1" cy="163.0" r="5.2" fill="#fc0f0f" fill-opacity="0.9"/>
<circle cx="193.4" cy="155.2" r="2.6" fill="#fc0f0f" fill-opacity="0.9"/>
<circle cx="202.1" cy="160.4" r="2.4" fill="#fc0f0f" fill-opacity="0.9"/>
<circle cx="208.1" cy="153.5" r="2.0" fill="#fcfc12" fill-opacity="0.9"/>
<circle cx="222.1" cy="158.1" r="4.3" fill="#fc0f0f" fill-opacity="0.9"/>
<circle cx="236.5" cy="165.3" r="3.9" fill="#fc0f0f" fill-opacity="0.9"/>
<circle cx="229.0" cy="166.6" r="2.2" fill="#fc0f0f" fill-opacity="0.9"/>
<circle cx="232.6" cy="168.5" r="2.0" fill="#fc0f0f" fill-opacity="0.9"/>
<circle cx="240.8" cy="167.2" r="1.8" fill="#fc0f0f" fill-opacity="0.9"/>
<circle cx="223.0" cy="169.8" r="2.4" fill="#fc0f0f" fill-opacity="0.9"/>
<circle cx="227.7" cy="177.3" r="2.6" fill="#fc0f0f" fill-opacity="0.9"/>
<circle cx="230.6" cy="179.0" r="2.2" fill="#fc0f0f" fill-opacity="0.9"/>
<circle cx="255.7" cy="175.7" r="1.8" fill="#fc0f0f" fill-opacity="0.9"/>
<circle cx="242.6" cy="181.2" r="1.8" fill="#fc0f0f" fill-opacity="0.9"/>
<circle cx="255.2" cy="181.3" r="1.8" fill="#fc0f0f" fill-opacity="0.9"/>
<circle cx="252.8" cy="187.1" r="3.5" fill="#fc0f0f" fill-opacity="0.9"/>
<circle cx="188.1" cy="183.6" r="5.0" fill="#fc0f0f" fill-opacity="0.9"/>
<circle cx="184.2" cy="184.2" r="2.6" fill="#fc0f0f" fill-opacity="0.9"/>
<circle cx="184.2" cy="189.5" r="2.2" fill="#fc0f0f" fill-opacity="0.9"/>
<circle cx="188.1" cy="189.7" r="1.6" fill="#fcfc12" fill-opacity="0.9"/>
<circle cx="194.3" cy="189.5" r="4.8" fill="#fc0f0f" fill-opacity="0.9"/>
<circle cx="205.1" cy="185.3" r="2.6" fill="#fc0f0f" fill-opacity="0.9"/>
<circle cx="203.8" cy="192.1" r="3.3" fill="#fc0f0f" fill-opacity="0.9"/>
<circle cx="219.5" cy="186.6" r="2.6" fill="#fcfc12" fill-opacity="0.9"/>
<circle cx="217.8" cy="189.7" r="2.4" fill="#fcfc12" fill-opacity="0.9"/>
<circle cx="214.7" cy="191.0" r="1.8" fill="#fc0f0f" fill-opacity="0.9"/>
<circle cx="222.8" cy="193.1" r="2.4" fill="#fc0f0f" fill-opacity="0.9"/>
<circle cx="176.0" cy="198.0" r="1.8" fill="#fc0f0f" fill-opacity="0.9"/>
<circle cx="180.3" cy="202.3" r="2.4" fill="#fc0f0f" fill-opacity="0.9"/>
<circle cx="217.5" cy="202.5" r="3.3" fill="#fc0f0f" fill-opacity="0.9"/>
<circle cx="220.2" cy="203.2" r="2.6" fill="#fc0f0f" fill-opacity="0.9"/>
<circle cx="233.0" cy="200.2" r="2.6" fill="#fc0f0f" fill-opacity="0.9"/>
<circle cx="226.7" cy="207.1" r="3.3" fill="#fc0f0f" fill-opacity="0.9"/>
<circle cx="225.1" cy="209.7" r="2.4" fill="#fc0f0f" fill-opacity="0.9"/>
<circle cx="235.2" cy="210.4" r="2.4" fill="#fc0f0f" fill-opacity="0.9"/>
<circle cx="148.0" cy="213.6" r="2.6" fill="#fc0f0f" fill-opacity="0.9"/>
<circle cx="151.5" cy="228.4" r="5.0" fill="#fc0f0f" fill-opacity="0.9"/>
<circle cx="196.9" cy="223.2" r="2.4" fill="#fc0f0f" fill-opacity="0.9"/>
<circle cx="92.3" cy="236.9" r="2.6" fill="#fc0f0f" fill-opacity="0.9"/>
<circle cx="165.0" cy="238.5" r="2.2" fill="#fc0f0f" fill-opacity="0.9"/>
<circle cx="167.6" cy="240.4" r="1.6" fill="#fcfc12" fill-opacity="0.9"/>
<circle cx="164.6" cy="244.4" r="2.2" fill="#fc0f0f" fill-opacity="0.9"/>
<circle cx="193.0" cy="244.1" r="2.2" fill="#fc0f0f" fill-opacity="0.9"/>
<circle cx="152.1" cy="255.7" r="2.5" fill="#fc0f0f" fill-opacity="0.9"/>
<circle cx="156.2" cy="254.7" r="2.0" fill="#fc0f0f" fill-opacity="0.9"/>
<circle cx="302.5" cy="148.0" r="2.7" fill="#fc0f0f" fill-opacity="0.9"/>
</g>
<rect x="1395.50" y="531.50" width="376" height="400" fill="none" stroke="#1e1e1e" stroke-width="1.1"/>
<line x1="1433.75" y1="931.10" x2="1433.75" y2="935.10" stroke="#555" stroke-width="1"/>
<text x="1433.8" y="953.1" font-size="19.3" text-anchor="middle" fill="#000">70</text>
<line x1="1492.75" y1="931.10" x2="1492.75" y2="935.10" stroke="#555" stroke-width="1"/>
<text x="1492.8" y="953.1" font-size="19.3" text-anchor="middle" fill="#000">75</text>
<line x1="1551.75" y1="931.10" x2="1551.75" y2="935.10" stroke="#555" stroke-width="1"/>
<text x="1551.8" y="953.1" font-size="19.3" text-anchor="middle" fill="#000">80</text>
<line x1="1610.75" y1="931.10" x2="1610.75" y2="935.10" stroke="#555" stroke-width="1"/>
<text x="1610.8" y="953.1" font-size="19.3" text-anchor="middle" fill="#000">85</text>
<line x1="1669.75" y1="931.10" x2="1669.75" y2="935.10" stroke="#555" stroke-width="1"/>
<text x="1669.8" y="953.1" font-size="19.3" text-anchor="middle" fill="#000">90</text>
<line x1="1728.75" y1="931.10" x2="1728.75" y2="935.10" stroke="#555" stroke-width="1"/>
<text x="1728.8" y="953.1" font-size="19.3" text-anchor="middle" fill="#000">95</text>
<text x="1576.8" y="528.7" font-size="31.5" text-anchor="middle" fill="#000">2050–2060</text>
<text x="1588.8" y="975.7" font-size="23.5" text-anchor="middle" fill="#000">Longitude (°E)</text>
<circle cx="1604.0" cy="552.8" r="4.3" fill="#858585"/>
<text x="1617.6" y="555.8" font-size="20.2" text-anchor="start" fill="#231815">n=0</text>
<text x="1759.8" y="555.8" font-size="20.2" text-anchor="end" fill="#231815">0 GW</text>
<circle cx="1604.0" cy="573.7" r="4.3" fill="#fc0f0f"/>
<text x="1617.6" y="576.8" font-size="20.2" text-anchor="start" fill="#231815">n=161</text>
<text x="1759.8" y="576.8" font-size="20.2" text-anchor="end" fill="#231815">30 GW</text>
<circle cx="1604.0" cy="593.7" r="4.3" fill="#aefb12"/>
<text x="1617.6" y="596.7" font-size="20.2" text-anchor="start" fill="#231815">n=3</text>
<text x="1759.8" y="596.7" font-size="20.2" text-anchor="end" fill="#231815">43 MW</text>
<circle cx="1604.0" cy="611.4" r="4.3" fill="#fcfc12"/>
<text x="1617.6" y="617.7" font-size="20.2" text-anchor="start" fill="#231815">n=22</text>
<text x="1759.8" y="617.7" font-size="20.2" text-anchor="end" fill="#231815">2 GW</text>
<text x="23.0" y="24.8" font-size="40.0" text-anchor="start" fill="#231815" font-weight="bold">a</text>
<text x="19.2" y="529.0" font-size="40.0" text-anchor="start" fill="#231815" font-weight="bold">b</text>
<text transform="translate(20.1,224.6) rotate(-90)" x="0" y="0" font-size="27.6" text-anchor="middle" fill="#000">1.5°C</text>
<text transform="translate(54.0,217.4) rotate(-90)" x="0" y="0" font-size="23.8" text-anchor="middle" fill="#000">Latitude (°N)</text>
<text transform="translate(20.1,697.6) rotate(-90)" x="0" y="0" font-size="27.6" text-anchor="middle" fill="#000">2°C</text>
<text transform="translate(54.0,722.1) rotate(-90)" x="0" y="0" font-size="23.8" text-anchor="middle" fill="#000">Latitude (°N)</text>
<text x="1797.0" y="45.0" font-size="24.6" text-anchor="start" fill="#000">Category</text>
<circle cx="1800.1" cy="64.0" r="6.5" fill="#858585"/>
<text x="1817.2" y="71.9" font-size="22.6" text-anchor="start" fill="#231815">Operation remain</text>
<circle cx="1800.1" cy="98.4" r="6.5" fill="#fc0f0f"/>
<text x="1818.0" y="106.9" font-size="22.6" text-anchor="start" fill="#231815">Operation retire</text>
<circle cx="1800.1" cy="130.8" r="6.5" fill="#aefb12"/>
<text x="1819.8" y="139.0" font-size="22.6" text-anchor="start" fill="#231815">Pipeline remain</text>
<circle cx="1800.1" cy="162.3" r="6.5" fill="#fcfc12"/>
<text x="1820.9" y="171.0" font-size="22.6" text-anchor="start" fill="#231815">Pipeline retire</text>
<text x="1797.0" y="220.0" font-size="24.9" text-anchor="start" fill="#231815">Capacity (MW)</text>
<circle cx="1802.3" cy="240.5" r="2.15" fill="none" stroke="#231815" stroke-width="1.5"/>
<text x="1819.6" y="247.7" font-size="22.6" text-anchor="start" fill="#231815">&lt;30</text>
<circle cx="1802.3" cy="264.8" r="3.40" fill="none" stroke="#231815" stroke-width="1.5"/>
<text x="1820.9" y="271.9" font-size="22.6" text-anchor="start" fill="#231815">30-300</text>
<circle cx="1802.3" cy="291.8" r="4.10" fill="none" stroke="#231815" stroke-width="1.5"/>
<text x="1820.4" y="299.6" font-size="22.6" text-anchor="start" fill="#231815">300-450</text>
<circle cx="1802.3" cy="318.1" r="4.65" fill="none" stroke="#231815" stroke-width="1.5"/>
<text x="1820.0" y="325.6" font-size="22.6" text-anchor="start" fill="#231815">450-600</text>
<circle cx="1802.3" cy="343.5" r="4.85" fill="none" stroke="#231815" stroke-width="1.5"/>
<text x="1820.6" y="351.6" font-size="22.6" text-anchor="start" fill="#231815">&gt;600</text>
<text x="1797.0" y="549.6" font-size="24.6" text-anchor="start" fill="#000">Category</text>
<circle cx="1800.1" cy="568.6" r="6.5" fill="#858585"/>
<text x="1817.2" y="576.5" font-size="22.6" text-anchor="start" fill="#231815">Operation remain</text>
<circle cx="1800.1" cy="603.0" r="6.5" fill="#fc0f0f"/>
<text x="1818.0" y="611.5" font-size="22.6" text-anchor="start" fill="#231815">Operation retire</text>
<circle cx="1800.1" cy="635.4" r="6.5" fill="#aefb12"/>
<text x="1819.8" y="643.6" font-size="22.6" text-anchor="start" fill="#231815">Pipeline remain</text>
<circle cx="1800.1" cy="666.9" r="6.5" fill="#fcfc12"/>
<text x="1820.9" y="675.6" font-size="22.6" text-anchor="start" fill="#231815">Pipeline retire</text>
<text x="1797.0" y="724.6" font-size="24.9" text-anchor="start" fill="#231815">Capacity (MW)</text>
<circle cx="1802.3" cy="745.1" r="2.15" fill="none" stroke="#231815" stroke-width="1.5"/>
<text x="1819.6" y="752.3" font-size="22.6" text-anchor="start" fill="#231815">&lt;30</text>
<circle cx="1802.3" cy="769.4" r="3.40" fill="none" stroke="#231815" stroke-width="1.5"/>
<text x="1820.9" y="776.5" font-size="22.6" text-anchor="start" fill="#231815">30-300</text>
<circle cx="1802.3" cy="796.4" r="4.10" fill="none" stroke="#231815" stroke-width="1.5"/>
<text x="1820.4" y="804.2" font-size="22.6" text-anchor="start" fill="#231815">300-450</text>
<circle cx="1802.3" cy="822.7" r="4.65" fill="none" stroke="#231815" stroke-width="1.5"/>
<text x="1820.0" y="830.2" font-size="22.6" text-anchor="start" fill="#231815">450-600</text>
<circle cx="1802.3" cy="848.1" r="4.85" fill="none" stroke="#231815" stroke-width="1.5"/>
<text x="1820.6" y="856.2" font-size="22.6" text-anchor="start" fill="#231815">&gt;600</text>
<path d="M92.9,1420.2 L92.9,1418.0 L94.3,1417.8 L95.7,1417.7 L97.0,1417.6 L98.4,1417.4 L99.8,1417.3 L101.2,1417.2 L102.5,1417.0 L103.9,1416.9 L105.3,1416.7 L106.7,1416.6 L108.0,1416.4 L109.4,1416.2 L110.8,1416.1 L112.2,1415.9 L113.5,1415.7 L114.9,1415.6 L116.3,1415.4 L117.7,1415.2 L119.0,1415.0 L120.4,1414.9 L121.8,1414.7 L123.2,1414.5 L124.5,1414.3 L125.9,1414.1 L127.3,1413.9 L128.7,1413.7 L130.0,1413.5 L131.4,1413.3 L132.8,1413.1 L134.2,1412.9 L135.5,1412.7 L136.9,1412.5 L138.3,1412.2 L139.7,1412.0 L141.0,1411.7 L142.4,1411.5 L143.8,1411.2 L145.2,1411.0 L146.6,1410.7 L147.9,1410.4 L149.3,1410.1 L150.7,1409.8 L152.1,1409.6 L153.4,1409.3 L154.8,1409.0 L156.2,1408.7 L157.6,1408.5 L158.9,1408.2 L160.3,1408.0 L161.7,1407.8 L163.1,1407.6 L164.4,1407.4 L165.8,1407.2 L167.2,1407.0 L168.6,1406.8 L169.9,1406.6 L171.3,1406.4 L172.7,1406.2 L174.1,1406.1 L175.4,1405.9 L176.8,1405.7 L178.2,1405.6 L179.6,1405.4 L180.9,1405.3 L182.3,1405.1 L183.7,1404.9 L185.1,1404.8 L186.4,1404.7 L187.8,1404.5 L189.2,1404.4 L190.6,1404.2 L191.9,1404.1 L193.3,1404.0 L194.7,1403.8 L196.1,1403.7 L197.5,1403.6 L198.8,1403.5 L200.2,1403.4 L201.6,1403.3 L203.0,1403.2 L204.3,1403.1 L205.7,1402.9 L207.1,1402.8 L208.5,1402.7 L209.8,1402.6 L211.2,1402.5 L212.6,1402.4 L214.0,1402.3 L215.3,1402.2 L216.7,1402.2 L218.1,1402.1 L219.5,1402.0 L220.8,1401.9 L222.2,1401.7 L223.6,1401.6 L225.0,1401.5 L226.3,1401.4 L227.7,1401.3 L229.1,1401.2 L230.5,1401.1 L231.8,1401.0 L233.2,1400.8 L234.6,1400.7 L236.0,1400.6 L237.3,1400.5 L238.7,1400.3 L240.1,1400.2 L241.5,1400.1 L242.9,1399.9 L244.2,1399.8 L245.6,1399.6 L247.0,1399.5 L248.4,1399.3 L249.7,1399.2 L251.1,1399.0 L252.5,1398.9 L253.9,1398.7 L255.2,1398.6 L256.6,1398.4 L258.0,1398.3 L259.4,1398.1 L260.7,1398.0 L262.1,1397.8 L263.5,1397.6 L264.9,1397.4 L266.2,1397.3 L267.6,1397.1 L269.0,1396.9 L270.4,1396.7 L271.7,1396.6 L273.1,1396.4 L274.5,1396.2 L275.9,1396.0 L277.2,1395.8 L278.6,1395.6 L280.0,1395.4 L281.4,1395.2 L282.7,1395.0 L284.1,1394.8 L285.5,1394.6 L286.9,1394.3 L288.2,1394.1 L289.6,1393.9 L291.0,1393.6 L292.4,1393.4 L293.8,1393.1 L295.1,1392.9 L296.5,1392.6 L297.9,1392.4 L299.3,1392.1 L300.6,1391.9 L302.0,1391.6 L303.4,1391.3 L304.8,1391.1 L306.1,1390.8 L307.5,1390.6 L308.9,1390.3 L310.3,1390.0 L311.6,1389.7 L313.0,1389.5 L314.4,1389.2 L315.8,1388.9 L317.1,1388.6 L318.5,1388.3 L319.9,1388.1 L321.3,1387.8 L322.6,1387.5 L324.0,1387.2 L325.4,1386.9 L326.8,1386.6 L328.1,1386.3 L329.5,1386.0 L330.9,1385.6 L332.3,1385.3 L333.6,1385.0 L335.0,1384.7 L336.4,1384.4 L337.8,1384.0 L339.1,1383.7 L340.5,1383.3 L341.9,1383.0 L343.3,1382.6 L344.7,1382.3 L346.0,1381.9 L347.4,1381.5 L348.8,1381.1 L350.2,1380.7 L351.5,1380.3 L352.9,1379.9 L354.3,1379.4 L355.7,1379.0 L357.0,1378.5 L358.4,1378.0 L359.8,1377.6 L361.2,1377.1 L362.5,1376.6 L363.9,1376.1 L365.3,1375.6 L366.7,1375.1 L368.0,1374.6 L369.4,1374.1 L370.8,1373.6 L372.2,1373.2 L373.5,1372.7 L374.9,1372.2 L376.3,1371.8 L377.7,1371.4 L379.0,1370.9 L380.4,1370.5 L381.8,1370.1 L383.2,1369.7 L384.5,1369.3 L385.9,1368.9 L387.3,1368.5 L388.7,1368.1 L390.0,1367.7 L391.4,1367.3 L392.8,1366.9 L394.2,1366.5 L395.6,1366.1 L396.9,1365.7 L398.3,1365.3 L399.7,1364.9 L401.1,1364.5 L402.4,1364.1 L403.8,1363.7 L405.2,1363.3 L406.6,1362.9 L407.9,1362.5 L409.3,1362.1 L410.7,1361.7 L412.1,1361.3 L413.4,1360.9 L414.8,1360.5 L416.2,1360.0 L417.6,1359.6 L418.9,1359.2 L420.3,1358.8 L421.7,1358.3 L423.1,1357.8 L424.4,1357.3 L425.8,1356.9 L427.2,1356.4 L428.6,1355.9 L429.9,1355.4 L431.3,1354.9 L432.7,1354.5 L434.1,1354.1 L435.4,1353.7 L436.8,1353.3 L438.2,1352.9 L439.6,1352.6 L440.9,1352.4 L442.3,1352.1 L443.7,1351.8 L445.1,1351.5 L446.5,1351.3 L447.8,1351.0 L449.2,1350.7 L450.6,1350.5 L452.0,1350.2 L453.3,1349.9 L454.7,1349.7 L456.1,1349.4 L457.5,1349.2 L458.8,1348.9 L460.2,1348.7 L461.6,1348.5 L463.0,1348.3 L464.3,1348.1 L465.7,1347.9 L467.1,1347.7 L468.5,1347.5 L469.8,1347.3 L471.2,1347.2 L472.6,1347.0 L474.0,1346.9 L475.3,1346.8 L476.7,1346.6 L478.1,1346.5 L479.5,1346.5 L480.8,1346.4 L482.2,1346.3 L483.6,1346.3 L485.0,1346.3 L486.3,1346.3 L487.7,1346.3 L489.1,1346.3 L490.5,1346.4 L491.8,1346.4 L493.2,1346.5 L494.6,1346.7 L496.0,1346.8 L497.4,1347.0 L498.7,1347.1 L500.1,1347.3 L501.5,1347.5 L502.9,1347.7 L504.2,1348.0 L505.6,1348.2 L507.0,1348.5 L508.4,1348.7 L509.7,1349.0 L511.1,1349.3 L512.5,1349.5 L513.9,1349.8 L515.2,1350.1 L516.6,1350.4 L518.0,1350.7 L519.4,1351.0 L520.7,1351.4 L522.1,1351.8 L523.5,1352.2 L524.9,1352.7 L526.2,1353.2 L527.6,1353.7 L529.0,1354.3 L530.4,1354.8 L531.7,1355.4 L533.1,1356.0 L534.5,1356.6 L535.9,1357.2 L537.2,1357.8 L538.6,1358.4 L540.0,1359.0 L541.4,1359.6 L542.8,1360.2 L544.1,1360.9 L545.5,1361.5 L546.9,1362.2 L548.3,1362.9 L549.6,1363.6 L551.0,1364.3 L552.4,1365.0 L553.8,1365.7 L555.1,1366.4 L556.5,1367.0 L557.9,1367.7 L559.3,1368.4 L560.6,1369.0 L562.0,1369.7 L563.4,1370.4 L564.8,1371.1 L566.1,1371.9 L567.5,1372.6 L568.9,1373.3 L570.3,1373.9 L571.6,1374.5 L573.0,1375.0 L574.4,1375.5 L575.8,1375.9 L577.1,1376.2 L578.5,1376.6 L579.9,1376.9 L581.3,1377.2 L582.6,1377.5 L584.0,1377.7 L585.4,1377.9 L586.8,1378.0 L588.1,1378.1 L589.5,1378.0 L590.9,1377.9 L592.3,1377.6 L593.7,1377.2 L595.0,1376.8 L596.4,1376.3 L597.8,1375.7 L599.2,1375.1 L600.5,1374.5 L601.9,1373.8 L603.3,1373.1 L604.7,1372.5 L606.0,1371.8 L607.4,1371.2 L608.8,1370.5 L610.2,1369.7 L611.5,1368.9 L612.9,1368.0 L614.3,1367.1 L615.7,1366.2 L617.0,1365.3 L618.4,1364.3 L619.8,1363.4 L621.2,1362.5 L622.5,1361.7 L623.9,1360.9 L625.3,1360.1 L626.7,1359.2 L628.0,1358.4 L629.4,1357.5 L630.8,1356.5 L632.2,1355.6 L633.5,1354.7 L634.9,1353.7 L636.3,1352.8 L637.7,1351.9 L639.0,1351.1 L640.4,1350.3 L641.8,1349.6 L643.2,1348.9 L644.6,1348.3 L645.9,1347.8 L647.3,1347.3 L648.7,1347.0 L650.1,1346.8 L651.4,1346.6 L652.8,1346.7 L654.2,1346.8 L655.6,1347.1 L656.9,1347.5 L658.3,1348.0 L659.7,1348.6 L661.1,1349.3 L662.4,1350.1 L663.8,1351.0 L665.2,1351.9 L666.6,1352.9 L667.9,1353.9 L669.3,1355.0 L670.7,1356.1 L672.1,1357.2 L673.4,1358.3 L674.8,1359.4 L676.2,1360.5 L677.6,1361.6 L678.9,1362.6 L680.3,1363.6 L681.7,1364.8 L683.1,1365.9 L684.4,1367.2 L685.8,1368.4 L687.2,1369.8 L688.6,1371.1 L689.9,1372.5 L691.3,1373.9 L692.7,1375.3 L694.1,1376.8 L695.5,1378.2 L696.8,1379.8 L698.2,1381.5 L699.6,1383.3 L701.0,1385.2 L702.3,1387.1 L703.7,1389.0 L705.1,1391.0 L706.5,1392.9 L707.8,1394.9 L709.2,1396.8 L710.6,1398.6 L712.0,1400.4 L713.3,1402.0 L714.7,1403.6 L716.1,1405.0 L717.5,1406.3 L718.8,1407.5 L720.2,1408.4 L721.6,1409.3 L723.0,1410.1 L724.3,1410.9 L725.7,1411.7 L727.1,1412.4 L728.5,1413.0 L729.8,1413.7 L731.2,1414.2 L732.6,1414.8 L734.0,1415.2 L735.3,1415.7 L736.7,1416.0 L738.1,1416.4 L739.5,1416.7 L740.8,1417.0 L742.2,1417.3 L743.6,1417.5 L745.0,1417.8 L746.4,1418.1 L747.7,1418.3 L749.1,1418.5 L750.5,1418.7 L751.9,1418.9 L753.2,1419.0 L754.6,1419.2 L756.0,1419.3 L757.4,1419.4 L758.7,1419.5 L760.1,1419.6 L761.5,1419.6 L762.9,1419.7 L764.2,1419.8 L765.6,1419.8 L767.0,1419.9 L768.4,1420.0 L769.7,1420.0 L771.1,1420.1 L772.5,1420.1 L773.9,1420.1 L775.2,1420.2 L776.6,1420.2 L778.0,1420.2 L779.4,1420.2 L779.4,1420.2 Z" fill="#adc6df"/>
<path d="M92.9,1420.2 L92.9,1418.0 L94.3,1417.8 L95.7,1417.7 L97.0,1417.6 L98.4,1417.5 L99.8,1417.4 L101.2,1417.3 L102.5,1417.2 L103.9,1417.1 L105.3,1417.0 L106.7,1416.9 L108.0,1416.8 L109.4,1416.6 L110.8,1416.5 L112.2,1416.4 L113.5,1416.3 L114.9,1416.2 L116.3,1416.1 L117.7,1416.0 L119.0,1415.9 L120.4,1415.8 L121.8,1415.7 L123.2,1415.6 L124.5,1415.4 L125.9,1415.3 L127.3,1415.2 L128.7,1415.1 L130.0,1415.0 L131.4,1414.9 L132.8,1414.8 L134.2,1414.7 L135.5,1414.6 L136.9,1414.5 L138.3,1414.3 L139.7,1414.2 L141.0,1414.1 L142.4,1413.9 L143.8,1413.8 L145.2,1413.6 L146.6,1413.5 L147.9,1413.3 L149.3,1413.2 L150.7,1413.1 L152.1,1412.9 L153.4,1412.8 L154.8,1412.7 L156.2,1412.6 L157.6,1412.5 L158.9,1412.5 L160.3,1412.4 L161.7,1412.4 L163.1,1412.3 L164.4,1412.3 L165.8,1412.3 L167.2,1412.4 L168.6,1412.4 L169.9,1412.4 L171.3,1412.4 L172.7,1412.5 L174.1,1412.5 L175.4,1412.6 L176.8,1412.6 L178.2,1412.7 L179.6,1412.7 L180.9,1412.8 L182.3,1412.8 L183.7,1412.9 L185.1,1413.0 L186.4,1413.0 L187.8,1413.1 L189.2,1413.2 L190.6,1413.2 L191.9,1413.3 L193.3,1413.3 L194.7,1413.4 L196.1,1413.5 L197.5,1413.5 L198.8,1413.6 L200.2,1413.7 L201.6,1413.7 L203.0,1413.8 L204.3,1413.9 L205.7,1414.0 L207.1,1414.1 L208.5,1414.1 L209.8,1414.2 L211.2,1414.3 L212.6,1414.4 L214.0,1414.5 L215.3,1414.6 L216.7,1414.7 L218.1,1414.7 L219.5,1414.8 L220.8,1414.9 L222.2,1415.0 L223.6,1415.1 L225.0,1415.2 L226.3,1415.2 L227.7,1415.3 L229.1,1415.4 L230.5,1415.5 L231.8,1415.6 L233.2,1415.6 L234.6,1415.7 L236.0,1415.8 L237.3,1415.9 L238.7,1415.9 L240.1,1416.0 L241.5,1416.1 L242.9,1416.2 L244.2,1416.3 L245.6,1416.4 L247.0,1416.5 L248.4,1416.6 L249.7,1416.6 L251.1,1416.7 L252.5,1416.8 L253.9,1416.9 L255.2,1417.0 L256.6,1417.1 L258.0,1417.1 L259.4,1417.2 L260.7,1417.3 L262.1,1417.4 L263.5,1417.4 L264.9,1417.5 L266.2,1417.5 L267.6,1417.6 L269.0,1417.6 L270.4,1417.7 L271.7,1417.7 L273.1,1417.7 L274.5,1417.8 L275.9,1417.8 L277.2,1417.8 L278.6,1417.8 L280.0,1417.7 L281.4,1417.7 L282.7,1417.7 L284.1,1417.7 L285.5,1417.6 L286.9,1417.6 L288.2,1417.5 L289.6,1417.4 L291.0,1417.4 L292.4,1417.3 L293.8,1417.2 L295.1,1417.1 L296.5,1417.0 L297.9,1417.0 L299.3,1416.9 L300.6,1416.8 L302.0,1416.7 L303.4,1416.6 L304.8,1416.5 L306.1,1416.4 L307.5,1416.3 L308.9,1416.1 L310.3,1416.0 L311.6,1415.9 L313.0,1415.7 L314.4,1415.5 L315.8,1415.3 L317.1,1415.2 L318.5,1414.9 L319.9,1414.7 L321.3,1414.5 L322.6,1414.3 L324.0,1414.1 L325.4,1413.8 L326.8,1413.6 L328.1,1413.3 L329.5,1413.1 L330.9,1412.8 L332.3,1412.6 L333.6,1412.3 L335.0,1412.0 L336.4,1411.7 L337.8,1411.4 L339.1,1411.1 L340.5,1410.7 L341.9,1410.3 L343.3,1409.9 L344.7,1409.5 L346.0,1409.1 L347.4,1408.6 L348.8,1408.2 L350.2,1407.7 L351.5,1407.3 L352.9,1406.8 L354.3,1406.3 L355.7,1405.9 L357.0,1405.4 L358.4,1404.9 L359.8,1404.5 L361.2,1404.0 L362.5,1403.6 L363.9,1403.1 L365.3,1402.7 L366.7,1402.3 L368.0,1401.9 L369.4,1401.5 L370.8,1401.1 L372.2,1400.8 L373.5,1400.5 L374.9,1400.2 L376.3,1399.9 L377.7,1399.7 L379.0,1399.4 L380.4,1399.2 L381.8,1399.0 L383.2,1398.8 L384.5,1398.6 L385.9,1398.4 L387.3,1398.2 L388.7,1398.0 L390.0,1397.8 L391.4,1397.6 L392.8,1397.4 L394.2,1397.2 L395.6,1397.1 L396.9,1396.9 L398.3,1396.7 L399.7,1396.5 L401.1,1396.3 L402.4,1396.1 L403.8,1395.9 L405.2,1395.7 L406.6,1395.5 L407.9,1395.3 L409.3,1395.1 L410.7,1394.9 L412.1,1394.7 L413.4,1394.4 L414.8,1394.2 L416.2,1394.0 L417.6,1393.8 L418.9,1393.5 L420.3,1393.3 L421.7,1393.1 L423.1,1392.9 L424.4,1392.6 L425.8,1392.4 L427.2,1392.2 L428.6,1392.0 L429.9,1391.8 L431.3,1391.6 L432.7,1391.4 L434.1,1391.3 L435.4,1391.1 L436.8,1390.9 L438.2,1390.8 L439.6,1390.6 L440.9,1390.5 L442.3,1390.4 L443.7,1390.2 L445.1,1390.1 L446.5,1390.0 L447.8,1389.9 L449.2,1389.8 L450.6,1389.7 L452.0,1389.6 L453.3,1389.5 L454.7,1389.4 L456.1,1389.3 L457.5,1389.2 L458.8,1389.1 L460.2,1389.0 L461.6,1388.9 L463.0,1388.9 L464.3,1388.8 L465.7,1388.7 L467.1,1388.6 L468.5,1388.5 L469.8,1388.4 L471.2,1388.3 L472.6,1388.2 L474.0,1388.1 L475.3,1388.0 L476.7,1387.9 L478.1,1387.8 L479.5,1387.6 L480.8,1387.5 L482.2,1387.4 L483.6,1387.3 L485.0,1387.2 L486.3,1387.1 L487.7,1387.0 L489.1,1386.9 L490.5,1386.7 L491.8,1386.6 L493.2,1386.5 L494.6,1386.4 L496.0,1386.3 L497.4,1386.1 L498.7,1386.0 L500.1,1385.9 L501.5,1385.8 L502.9,1385.7 L504.2,1385.5 L505.6,1385.4 L507.0,1385.3 L508.4,1385.2 L509.7,1385.1 L511.1,1384.9 L512.5,1384.8 L513.9,1384.7 L515.2,1384.6 L516.6,1384.5 L518.0,1384.4 L519.4,1384.2 L520.7,1384.1 L522.1,1384.0 L523.5,1383.9 L524.9,1383.8 L526.2,1383.6 L527.6,1383.5 L529.0,1383.4 L530.4,1383.3 L531.7,1383.2 L533.1,1383.0 L534.5,1382.9 L535.9,1382.8 L537.2,1382.7 L538.6,1382.5 L540.0,1382.4 L541.4,1382.3 L542.8,1382.1 L544.1,1382.0 L545.5,1381.9 L546.9,1381.7 L548.3,1381.6 L549.6,1381.5 L551.0,1381.3 L552.4,1381.2 L553.8,1381.1 L555.1,1381.0 L556.5,1380.8 L557.9,1380.7 L559.3,1380.5 L560.6,1380.4 L562.0,1380.2 L563.4,1380.0 L564.8,1379.8 L566.1,1379.6 L567.5,1379.3 L568.9,1379.0 L570.3,1378.6 L571.6,1378.2 L573.0,1377.7 L574.4,1377.1 L575.8,1376.5 L577.1,1375.9 L578.5,1375.2 L579.9,1374.5 L581.3,1373.7 L582.6,1373.0 L584.0,1372.2 L585.4,1371.3 L586.8,1370.3 L588.1,1369.3 L589.5,1368.1 L590.9,1366.9 L592.3,1365.6 L593.7,1364.1 L595.0,1362.6 L596.4,1360.8 L597.8,1358.6 L599.2,1356.1 L600.5,1353.2 L601.9,1350.1 L603.3,1346.7 L604.7,1343.2 L606.0,1339.6 L607.4,1336.0 L608.8,1332.3 L610.2,1328.6 L611.5,1324.8 L612.9,1320.7 L614.3,1316.5 L615.7,1312.1 L617.0,1307.6 L618.4,1303.0 L619.8,1298.4 L621.2,1293.8 L622.5,1289.2 L623.9,1284.6 L625.3,1279.9 L626.7,1275.1 L628.0,1270.1 L629.4,1265.1 L630.8,1260.1 L632.2,1255.1 L633.5,1250.3 L634.9,1245.6 L636.3,1241.3 L637.7,1237.2 L639.0,1233.3 L640.4,1229.4 L641.8,1225.5 L643.2,1221.8 L644.6,1218.3 L645.9,1215.1 L647.3,1212.4 L648.7,1210.2 L650.1,1208.5 L651.4,1206.8 L652.8,1205.3 L654.2,1204.2 L655.6,1203.5 L656.9,1203.5 L658.3,1204.0 L659.7,1204.9 L661.1,1206.1 L662.4,1207.6 L663.8,1209.3 L665.2,1211.1 L666.6,1213.0 L667.9,1215.4 L669.3,1218.3 L670.7,1221.8 L672.1,1225.7 L673.4,1229.9 L674.8,1234.4 L676.2,1239.1 L677.6,1243.9 L678.9,1248.8 L680.3,1253.7 L681.7,1258.7 L683.1,1264.2 L684.4,1270.0 L685.8,1276.1 L687.2,1282.4 L688.6,1288.8 L689.9,1295.3 L691.3,1301.9 L692.7,1308.4 L694.1,1314.8 L695.5,1321.0 L696.8,1327.2 L698.2,1333.8 L699.6,1340.5 L701.0,1347.3 L702.3,1353.8 L703.7,1360.0 L705.1,1365.5 L706.5,1370.3 L707.8,1374.2 L709.2,1377.8 L710.6,1381.0 L712.0,1384.1 L713.3,1386.9 L714.7,1389.5 L716.1,1391.9 L717.5,1394.2 L718.8,1396.2 L720.2,1398.1 L721.6,1400.0 L723.0,1401.8 L724.3,1403.5 L725.7,1405.2 L727.1,1406.8 L728.5,1408.3 L729.8,1409.7 L731.2,1410.9 L732.6,1412.1 L734.0,1413.0 L735.3,1413.9 L736.7,1414.5 L738.1,1415.0 L739.5,1415.5 L740.8,1416.0 L742.2,1416.4 L743.6,1416.8 L745.0,1417.2 L746.4,1417.6 L747.7,1417.9 L749.1,1418.2 L750.5,1418.5 L751.9,1418.7 L753.2,1418.9 L754.6,1419.1 L756.0,1419.3 L757.4,1419.4 L758.7,1419.5 L760.1,1419.6 L761.5,1419.6 L762.9,1419.7 L764.2,1419.8 L765.6,1419.9 L767.0,1419.9 L768.4,1420.0 L769.7,1420.0 L771.1,1420.1 L772.5,1420.1 L773.9,1420.1 L775.2,1420.2 L776.6,1420.2 L778.0,1420.2 L779.4,1420.2 L779.4,1420.2 Z" fill="#d5bfaf"/>
<path d="M92.9,1420.2 L92.9,1418.0 L94.3,1417.8 L95.7,1417.7 L97.0,1417.6 L98.4,1417.5 L99.8,1417.4 L101.2,1417.3 L102.5,1417.2 L103.9,1417.1 L105.3,1417.0 L106.7,1416.9 L108.0,1416.8 L109.4,1416.6 L110.8,1416.5 L112.2,1416.4 L113.5,1416.3 L114.9,1416.2 L116.3,1416.1 L117.7,1416.0 L119.0,1415.9 L120.4,1415.8 L121.8,1415.7 L123.2,1415.6 L124.5,1415.4 L125.9,1415.3 L127.3,1415.2 L128.7,1415.1 L130.0,1415.0 L131.4,1414.9 L132.8,1414.8 L134.2,1414.7 L135.5,1414.6 L136.9,1414.5 L138.3,1414.3 L139.7,1414.2 L141.0,1414.1 L142.4,1413.9 L143.8,1413.8 L145.2,1413.6 L146.6,1413.5 L147.9,1413.3 L149.3,1413.2 L150.7,1413.1 L152.1,1412.9 L153.4,1412.8 L154.8,1412.7 L156.2,1412.6 L157.6,1412.5 L158.9,1412.5 L160.3,1412.4 L161.7,1412.4 L163.1,1412.3 L164.4,1412.3 L165.8,1412.3 L167.2,1412.4 L168.6,1412.4 L169.9,1412.4 L171.3,1412.4 L172.7,1412.5 L174.1,1412.5 L175.4,1412.6 L176.8,1412.6 L178.2,1412.7 L179.6,1412.7 L180.9,1412.8 L182.3,1412.8 L183.7,1412.9 L185.1,1413.0 L186.4,1413.0 L187.8,1413.1 L189.2,1413.2 L190.6,1413.2 L191.9,1413.3 L193.3,1413.3 L194.7,1413.4 L196.1,1413.5 L197.5,1413.5 L198.8,1413.6 L200.2,1413.7 L201.6,1413.7 L203.0,1413.8 L204.3,1413.9 L205.7,1414.0 L207.1,1414.1 L208.5,1414.1 L209.8,1414.2 L211.2,1414.3 L212.6,1414.4 L214.0,1414.5 L215.3,1414.6 L216.7,1414.7 L218.1,1414.7 L219.5,1414.8 L220.8,1414.9 L222.2,1415.0 L223.6,1415.1 L225.0,1415.2 L226.3,1415.2 L227.7,1415.3 L229.1,1415.4 L230.5,1415.5 L231.8,1415.6 L233.2,1415.6 L234.6,1415.7 L236.0,1415.8 L237.3,1415.9 L238.7,1415.9 L240.1,1416.0 L241.5,1416.1 L242.9,1416.2 L244.2,1416.3 L245.6,1416.4 L247.0,1416.5 L248.4,1416.6 L249.7,1416.6 L251.1,1416.7 L252.5,1416.8 L253.9,1416.9 L255.2,1417.0 L256.6,1417.1 L258.0,1417.1 L259.4,1417.2 L260.7,1417.3 L262.1,1417.4 L263.5,1417.4 L264.9,1417.5 L266.2,1417.5 L267.6,1417.6 L269.0,1417.6 L270.4,1417.7 L271.7,1417.7 L273.1,1417.7 L274.5,1417.8 L275.9,1417.8 L277.2,1417.8 L278.6,1417.8 L280.0,1417.7 L281.4,1417.7 L282.7,1417.7 L284.1,1417.7 L285.5,1417.6 L286.9,1417.6 L288.2,1417.5 L289.6,1417.4 L291.0,1417.4 L292.4,1417.3 L293.8,1417.2 L295.1,1417.1 L296.5,1417.0 L297.9,1417.0 L299.3,1416.9 L300.6,1416.8 L302.0,1416.7 L303.4,1416.6 L304.8,1416.5 L306.1,1416.4 L307.5,1416.3 L308.9,1416.1 L310.3,1416.0 L311.6,1415.9 L313.0,1415.7 L314.4,1415.5 L315.8,1415.3 L317.1,1415.2 L318.5,1414.9 L319.9,1414.7 L321.3,1414.5 L322.6,1414.3 L324.0,1414.1 L325.4,1413.8 L326.8,1413.6 L328.1,1413.3 L329.5,1413.1 L330.9,1412.8 L332.3,1412.6 L333.6,1412.3 L335.0,1412.0 L336.4,1411.7 L337.8,1411.4 L339.1,1411.1 L340.5,1410.7 L341.9,1410.3 L343.3,1409.9 L344.7,1409.5 L346.0,1409.1 L347.4,1408.6 L348.8,1408.2 L350.2,1407.7 L351.5,1407.3 L352.9,1406.8 L354.3,1406.3 L355.7,1405.9 L357.0,1405.4 L358.4,1404.9 L359.8,1404.5 L361.2,1404.0 L362.5,1403.6 L363.9,1403.1 L365.3,1402.7 L366.7,1402.3 L368.0,1401.9 L369.4,1401.5 L370.8,1401.1 L372.2,1400.8 L373.5,1400.5 L374.9,1400.2 L376.3,1399.9 L377.7,1399.7 L379.0,1399.4 L380.4,1399.2 L381.8,1399.0 L383.2,1398.8 L384.5,1398.6 L385.9,1398.4 L387.3,1398.2 L388.7,1398.0 L390.0,1397.8 L391.4,1397.6 L392.8,1397.4 L394.2,1397.2 L395.6,1397.1 L396.9,1396.9 L398.3,1396.7 L399.7,1396.5 L401.1,1396.3 L402.4,1396.1 L403.8,1395.9 L405.2,1395.7 L406.6,1395.5 L407.9,1395.3 L409.3,1395.1 L410.7,1394.9 L412.1,1394.7 L413.4,1394.4 L414.8,1394.2 L416.2,1394.0 L417.6,1393.8 L418.9,1393.5 L420.3,1393.3 L421.7,1393.1 L423.1,1392.9 L424.4,1392.6 L425.8,1392.4 L427.2,1392.2 L428.6,1392.0 L429.9,1391.8 L431.3,1391.6 L432.7,1391.4 L434.1,1391.3 L435.4,1391.1 L436.8,1390.9 L438.2,1390.8 L439.6,1390.6 L440.9,1390.5 L442.3,1390.4 L443.7,1390.2 L445.1,1390.1 L446.5,1390.0 L447.8,1389.9 L449.2,1389.8 L450.6,1389.7 L452.0,1389.6 L453.3,1389.5 L454.7,1389.4 L456.1,1389.3 L457.5,1389.2 L458.8,1389.1 L460.2,1389.0 L461.6,1388.9 L463.0,1388.9 L464.3,1388.8 L465.7,1388.7 L467.1,1388.6 L468.5,1388.5 L469.8,1388.4 L471.2,1388.3 L472.6,1388.2 L474.0,1388.1 L475.3,1388.0 L476.7,1387.9 L478.1,1387.8 L479.5,1387.6 L480.8,1387.5 L482.2,1387.4 L483.6,1387.3 L485.0,1387.2 L486.3,1387.1 L487.7,1387.0 L489.1,1386.9 L490.5,1386.7 L491.8,1386.6 L493.2,1386.5 L494.6,1386.4 L496.0,1386.3 L497.4,1386.1 L498.7,1386.0 L500.1,1385.9 L501.5,1385.8 L502.9,1385.7 L504.2,1385.5 L505.6,1385.4 L507.0,1385.3 L508.4,1385.2 L509.7,1385.1 L511.1,1384.9 L512.5,1384.8 L513.9,1384.7 L515.2,1384.6 L516.6,1384.5 L518.0,1384.4 L519.4,1384.2 L520.7,1384.1 L522.1,1384.0 L523.5,1383.9 L524.9,1383.8 L526.2,1383.6 L527.6,1383.5 L529.0,1383.4 L530.4,1383.3 L531.7,1383.2 L533.1,1383.0 L534.5,1382.9 L535.9,1382.8 L537.2,1382.7 L538.6,1382.5 L540.0,1382.4 L541.4,1382.3 L542.8,1382.1 L544.1,1382.0 L545.5,1381.9 L546.9,1381.7 L548.3,1381.6 L549.6,1381.5 L551.0,1381.3 L552.4,1381.2 L553.8,1381.1 L555.1,1381.0 L556.5,1380.8 L557.9,1380.7 L559.3,1380.5 L560.6,1380.4 L562.0,1380.2 L563.4,1380.0 L564.8,1379.8 L566.1,1379.6 L567.5,1379.3 L568.9,1379.0 L570.3,1378.6 L571.6,1378.2 L573.0,1377.7 L574.4,1377.1 L575.8,1376.5 L577.1,1376.2 L578.5,1376.6 L579.9,1376.9 L581.3,1377.2 L582.6,1377.5 L584.0,1377.7 L585.4,1377.9 L586.8,1378.0 L588.1,1378.1 L589.5,1378.0 L590.9,1377.9 L592.3,1377.6 L593.7,1377.2 L595.0,1376.8 L596.4,1376.3 L597.8,1375.7 L599.2,1375.1 L600.5,1374.5 L601.9,1373.8 L603.3,1373.1 L604.7,1372.5 L606.0,1371.8 L607.4,1371.2 L608.8,1370.5 L610.2,1369.7 L611.5,1368.9 L612.9,1368.0 L614.3,1367.1 L615.7,1366.2 L617.0,1365.3 L618.4,1364.3 L619.8,1363.4 L621.2,1362.5 L622.5,1361.7 L623.9,1360.9 L625.3,1360.1 L626.7,1359.2 L628.0,1358.4 L629.4,1357.5 L630.8,1356.5 L632.2,1355.6 L633.5,1354.7 L634.9,1353.7 L636.3,1352.8 L637.7,1351.9 L639.0,1351.1 L640.4,1350.3 L641.8,1349.6 L643.2,1348.9 L644.6,1348.3 L645.9,1347.8 L647.3,1347.3 L648.7,1347.0 L650.1,1346.8 L651.4,1346.6 L652.8,1346.7 L654.2,1346.8 L655.6,1347.1 L656.9,1347.5 L658.3,1348.0 L659.7,1348.6 L661.1,1349.3 L662.4,1350.1 L663.8,1351.0 L665.2,1351.9 L666.6,1352.9 L667.9,1353.9 L669.3,1355.0 L670.7,1356.1 L672.1,1357.2 L673.4,1358.3 L674.8,1359.4 L676.2,1360.5 L677.6,1361.6 L678.9,1362.6 L680.3,1363.6 L681.7,1364.8 L683.1,1365.9 L684.4,1367.2 L685.8,1368.4 L687.2,1369.8 L688.6,1371.1 L689.9,1372.5 L691.3,1373.9 L692.7,1375.3 L694.1,1376.8 L695.5,1378.2 L696.8,1379.8 L698.2,1381.5 L699.6,1383.3 L701.0,1385.2 L702.3,1387.1 L703.7,1389.0 L705.1,1391.0 L706.5,1392.9 L707.8,1394.9 L709.2,1396.8 L710.6,1398.6 L712.0,1400.4 L713.3,1402.0 L714.7,1403.6 L716.1,1405.0 L717.5,1406.3 L718.8,1407.5 L720.2,1408.4 L721.6,1409.3 L723.0,1410.1 L724.3,1410.9 L725.7,1411.7 L727.1,1412.4 L728.5,1413.0 L729.8,1413.7 L731.2,1414.2 L732.6,1414.8 L734.0,1415.2 L735.3,1415.7 L736.7,1416.0 L738.1,1416.4 L739.5,1416.7 L740.8,1417.0 L742.2,1417.3 L743.6,1417.5 L745.0,1417.8 L746.4,1418.1 L747.7,1418.3 L749.1,1418.5 L750.5,1418.7 L751.9,1418.9 L753.2,1419.0 L754.6,1419.2 L756.0,1419.3 L757.4,1419.4 L758.7,1419.5 L760.1,1419.6 L761.5,1419.6 L762.9,1419.7 L764.2,1419.8 L765.6,1419.9 L767.0,1419.9 L768.4,1420.0 L769.7,1420.0 L771.1,1420.1 L772.5,1420.1 L773.9,1420.1 L775.2,1420.2 L776.6,1420.2 L778.0,1420.2 L779.4,1420.2 L779.4,1420.2 Z" fill="#a6a19e"/>
<rect x="92.5" y="1028.5" width="708" height="392" fill="none" stroke="#1e1e1e" stroke-width="1.1"/>
<line x1="92.5" y1="1420.5" x2="800.5" y2="1420.5" stroke="#000" stroke-width="1.5"/>
<line x1="92.5" y1="1140" x2="92.5" y2="1420.5" stroke="#000" stroke-width="1.5"/>
<line x1="92.9" y1="1420.2" x2="92.9" y2="1426.2" stroke="#000" stroke-width="1.3"/>
<text x="92.9" y="1445.6" font-size="20.5" text-anchor="middle" fill="#000">0</text>
<line x1="234.4" y1="1420.2" x2="234.4" y2="1426.2" stroke="#000" stroke-width="1.3"/>
<text x="234.4" y="1445.6" font-size="20.5" text-anchor="middle" fill="#000">10</text>
<line x1="376.0" y1="1420.2" x2="376.0" y2="1426.2" stroke="#000" stroke-width="1.3"/>
<text x="376.0" y="1445.6" font-size="20.5" text-anchor="middle" fill="#000">20</text>
<line x1="517.5" y1="1420.2" x2="517.5" y2="1426.2" stroke="#000" stroke-width="1.3"/>
<text x="517.5" y="1445.6" font-size="20.5" text-anchor="middle" fill="#000">30</text>
<line x1="659.1" y1="1420.2" x2="659.1" y2="1426.2" stroke="#000" stroke-width="1.3"/>
<text x="659.1" y="1445.6" font-size="20.5" text-anchor="middle" fill="#000">40</text>
<line x1="800.6" y1="1420.2" x2="800.6" y2="1426.2" stroke="#000" stroke-width="1.3"/>
<text x="800.6" y="1445.6" font-size="20.5" text-anchor="middle" fill="#000">50</text>
<line x1="86.4" y1="1420.2" x2="92.9" y2="1420.2" stroke="#000" stroke-width="1.3"/>
<text x="78.5" y="1427.6" font-size="20.5" text-anchor="end" fill="#000">0.00</text>
<line x1="86.4" y1="1326.6" x2="92.9" y2="1326.6" stroke="#000" stroke-width="1.3"/>
<text x="78.5" y="1334.0" font-size="20.5" text-anchor="end" fill="#000">0.05</text>
<line x1="86.4" y1="1233.0" x2="92.9" y2="1233.0" stroke="#000" stroke-width="1.3"/>
<text x="78.5" y="1240.4" font-size="20.5" text-anchor="end" fill="#000">0.10</text>
<line x1="86.4" y1="1139.4" x2="92.9" y2="1139.4" stroke="#000" stroke-width="1.3"/>
<text x="78.5" y="1146.8" font-size="20.5" text-anchor="end" fill="#000">0.15</text>
<text x="434.0" y="1468.5" font-size="23.6" text-anchor="middle" fill="#000">Average actual lifetime (year)</text>
<text transform="translate(24.2,1262.0) rotate(-90)" x="0" y="0" font-size="27.2" text-anchor="middle" fill="#000">Density</text>
<text x="98.5" y="1061.5" font-size="41.0" text-anchor="start" fill="#231815" font-weight="bold">c</text>
<rect x="144.1" y="1068.3" width="48.9" height="18.7" fill="#bfd4e6"/>
<rect x="144.1" y="1104.6" width="48.9" height="19.0" fill="#d4bfb0"/>
<text x="203.5" y="1086.2" font-size="22.8" text-anchor="start" fill="#000">1.5°C</text>
<text x="206.3" y="1122.1" font-size="22.8" text-anchor="start" fill="#000">2°C</text>
<text x="280.2" y="1086.2" font-size="22.8" text-anchor="start" fill="#000">Average actual lifetime: 28</text>
<text x="280.2" y="1122.1" font-size="22.8" text-anchor="start" fill="#000">Average actual lifetime: 35</text>
<rect x="1095.40" y="1044.15" width="145.35" height="13.8" fill="#71a3cb"/>
<rect x="1072.77" y="1044.15" width="7.23" height="13.8" fill="#fda452"/>
<rect x="1080.01" y="1044.15" width="15.39" height="13.8" fill="#e2686a"/>
<line x1="968.00" y1="1051.05" x2="972.50" y2="1051.05" stroke="#333" stroke-width="1"/>
<text x="963.0" y="1057.0" font-size="16.5" text-anchor="end" fill="#000">Chhattisgarh</text>
<rect x="1095.40" y="1061.41" width="146.78" height="13.8" fill="#71a3cb"/>
<rect x="1064.47" y="1061.41" width="9.16" height="13.8" fill="#fda452"/>
<rect x="1073.63" y="1061.41" width="21.77" height="13.8" fill="#e2686a"/>
<line x1="968.00" y1="1068.31" x2="972.50" y2="1068.31" stroke="#333" stroke-width="1"/>
<text x="963.0" y="1074.3" font-size="16.5" text-anchor="end" fill="#000">Uttar Pradesh</text>
<rect x="1095.40" y="1078.67" width="110.26" height="13.8" fill="#71a3cb"/>
<rect x="1082.01" y="1078.67" width="4.08" height="13.8" fill="#fda452"/>
<rect x="1086.09" y="1078.67" width="9.31" height="13.8" fill="#e2686a"/>
<line x1="968.00" y1="1085.57" x2="972.50" y2="1085.57" stroke="#333" stroke-width="1"/>
<text x="963.0" y="1091.6" font-size="16.5" text-anchor="end" fill="#000">Odisha</text>
<rect x="1095.40" y="1095.93" width="107.40" height="13.8" fill="#71a3cb"/>
<rect x="1077.00" y="1095.93" width="5.58" height="13.8" fill="#fda452"/>
<rect x="1082.58" y="1095.93" width="12.82" height="13.8" fill="#e2686a"/>
<line x1="968.00" y1="1102.83" x2="972.50" y2="1102.83" stroke="#333" stroke-width="1"/>
<text x="963.0" y="1108.8" font-size="16.5" text-anchor="end" fill="#000">Madhya Pradesh</text>
<rect x="1095.40" y="1113.19" width="123.51" height="13.8" fill="#71a3cb"/>
<rect x="1041.13" y="1113.19" width="14.89" height="13.8" fill="#ff7f0e"/>
<rect x="1056.02" y="1113.19" width="39.38" height="13.8" fill="#e2686a"/>
<line x1="968.00" y1="1120.09" x2="972.50" y2="1120.09" stroke="#333" stroke-width="1"/>
<text x="963.0" y="1126.1" font-size="16.5" text-anchor="end" fill="#000">Tamil Nadu</text>
<rect x="1095.40" y="1130.45" width="73.75" height="13.8" fill="#71a3cb"/>
<rect x="1088.60" y="1130.45" width="2.43" height="13.8" fill="#fda452"/>
<rect x="1091.03" y="1130.45" width="4.37" height="13.8" fill="#e2686a"/>
<line x1="968.00" y1="1137.35" x2="972.50" y2="1137.35" stroke="#333" stroke-width="1"/>
<text x="963.0" y="1143.3" font-size="16.5" text-anchor="end" fill="#000">Gujarat</text>
<rect x="1095.40" y="1147.71" width="81.62" height="13.8" fill="#71a3cb"/>
<rect x="1080.08" y="1147.71" width="4.01" height="13.8" fill="#fda452"/>
<rect x="1084.09" y="1147.71" width="11.31" height="13.8" fill="#e2686a"/>
<line x1="968.00" y1="1154.61" x2="972.50" y2="1154.61" stroke="#333" stroke-width="1"/>
<text x="963.0" y="1160.6" font-size="16.5" text-anchor="end" fill="#000">Telangana</text>
<rect x="1095.40" y="1164.97" width="73.03" height="13.8" fill="#71a3cb"/>
<rect x="1082.94" y="1164.97" width="3.58" height="13.8" fill="#fda452"/>
<rect x="1086.52" y="1164.97" width="8.88" height="13.8" fill="#e2686a"/>
<line x1="968.00" y1="1171.87" x2="972.50" y2="1171.87" stroke="#333" stroke-width="1"/>
<text x="963.0" y="1177.9" font-size="16.5" text-anchor="end" fill="#000">Jharkhand</text>
<rect x="1095.40" y="1182.23" width="168.98" height="13.8" fill="#71a3cb"/>
<rect x="986.57" y="1182.23" width="30.07" height="13.8" fill="#fda452"/>
<rect x="1016.64" y="1182.23" width="78.76" height="13.8" fill="#e2686a"/>
<line x1="968.00" y1="1189.13" x2="972.50" y2="1189.13" stroke="#333" stroke-width="1"/>
<text x="963.0" y="1195.1" font-size="16.5" text-anchor="end" fill="#000">Maharashtra</text>
<rect x="1095.40" y="1199.49" width="79.83" height="13.8" fill="#71a3cb"/>
<rect x="1069.12" y="1199.49" width="7.66" height="13.8" fill="#fda452"/>
<rect x="1076.78" y="1199.49" width="18.62" height="13.8" fill="#e2686a"/>
<line x1="968.00" y1="1206.39" x2="972.50" y2="1206.39" stroke="#333" stroke-width="1"/>
<text x="963.0" y="1212.4" font-size="16.5" text-anchor="end" fill="#000">Bihar</text>
<rect x="1095.40" y="1216.75" width="56.13" height="13.8" fill="#71a3cb"/>
<rect x="1081.94" y="1216.75" width="3.58" height="13.8" fill="#fda452"/>
<rect x="1085.52" y="1216.75" width="9.88" height="13.8" fill="#e2686a"/>
<line x1="968.00" y1="1223.65" x2="972.50" y2="1223.65" stroke="#333" stroke-width="1"/>
<text x="963.0" y="1229.7" font-size="16.5" text-anchor="end" fill="#000">Andhra Pradesh</text>
<rect x="1095.40" y="1234.01" width="54.42" height="13.8" fill="#71a3cb"/>
<rect x="1083.23" y="1234.01" width="3.58" height="13.8" fill="#fda452"/>
<rect x="1086.81" y="1234.01" width="8.59" height="13.8" fill="#e2686a"/>
<line x1="968.00" y1="1240.91" x2="972.50" y2="1240.91" stroke="#333" stroke-width="1"/>
<text x="963.0" y="1246.9" font-size="16.5" text-anchor="end" fill="#000">West Bengal</text>
<rect x="1095.40" y="1251.27" width="53.56" height="13.8" fill="#71a3cb"/>
<rect x="1082.58" y="1251.27" width="3.65" height="13.8" fill="#fda452"/>
<rect x="1086.24" y="1251.27" width="9.16" height="13.8" fill="#e2686a"/>
<line x1="968.00" y1="1258.17" x2="972.50" y2="1258.17" stroke="#333" stroke-width="1"/>
<text x="963.0" y="1264.2" font-size="16.5" text-anchor="end" fill="#000">Rajasthan</text>
<rect x="1095.40" y="1268.53" width="25.78" height="13.8" fill="#71a3cb"/>
<rect x="1083.23" y="1268.53" width="3.01" height="13.8" fill="#fda452"/>
<rect x="1086.24" y="1268.53" width="9.16" height="13.8" fill="#e2686a"/>
<line x1="968.00" y1="1275.43" x2="972.50" y2="1275.43" stroke="#333" stroke-width="1"/>
<text x="963.0" y="1281.4" font-size="16.5" text-anchor="end" fill="#000">Karnataka</text>
<rect x="1095.40" y="1285.79" width="17.90" height="13.8" fill="#71a3cb"/>
<rect x="1090.17" y="1285.79" width="1.93" height="13.8" fill="#fda452"/>
<rect x="1092.11" y="1285.79" width="3.29" height="13.8" fill="#e2686a"/>
<line x1="968.00" y1="1292.69" x2="972.50" y2="1292.69" stroke="#333" stroke-width="1"/>
<text x="963.0" y="1298.7" font-size="16.5" text-anchor="end" fill="#000">Punjab</text>
<rect x="1095.40" y="1303.05" width="16.11" height="13.8" fill="#71a3cb"/>
<rect x="1092.03" y="1303.05" width="0.57" height="13.8" fill="#fda452"/>
<rect x="1092.61" y="1303.05" width="2.79" height="13.8" fill="#e2686a"/>
<line x1="968.00" y1="1309.95" x2="972.50" y2="1309.95" stroke="#333" stroke-width="1"/>
<text x="963.0" y="1316.0" font-size="16.5" text-anchor="end" fill="#000">Assam</text>
<rect x="1095.40" y="1320.31" width="12.53" height="13.8" fill="#71a3cb"/>
<rect x="1092.25" y="1320.31" width="0.57" height="13.8" fill="#fda452"/>
<rect x="1092.82" y="1320.31" width="2.58" height="13.8" fill="#e2686a"/>
<line x1="968.00" y1="1327.21" x2="972.50" y2="1327.21" stroke="#333" stroke-width="1"/>
<text x="963.0" y="1333.2" font-size="16.5" text-anchor="end" fill="#000">Haryana</text>
<line x1="968.00" y1="1344.47" x2="972.50" y2="1344.47" stroke="#333" stroke-width="1"/>
<text x="963.0" y="1350.5" font-size="16.5" text-anchor="end" fill="#000">Meghalaya</text>
<line x1="968.00" y1="1361.73" x2="972.50" y2="1361.73" stroke="#333" stroke-width="1"/>
<text x="963.0" y="1367.7" font-size="16.5" text-anchor="end" fill="#000">Kerala</text>
<line x1="968.00" y1="1378.99" x2="972.50" y2="1378.99" stroke="#333" stroke-width="1"/>
<text x="963.0" y="1385.0" font-size="16.5" text-anchor="end" fill="#000">Uttarakhand</text>
<line x1="968.00" y1="1396.25" x2="972.50" y2="1396.25" stroke="#333" stroke-width="1"/>
<text x="963.0" y="1402.2" font-size="16.5" text-anchor="end" fill="#000">Himachal Pradesh</text>
<line x1="1095.50" y1="1026.50" x2="1095.50" y2="1421.50" stroke="#000" stroke-width="1.2"/>
<rect x="972.50" y="1026.5" width="306.00" height="395" fill="none" stroke="#1e1e1e" stroke-width="1.1"/>
<line x1="1023.80" y1="1421.00" x2="1023.80" y2="1425.50" stroke="#333" stroke-width="1"/>
<text x="1023.8" y="1444.5" font-size="19.6" text-anchor="middle" fill="#000">-100</text>
<line x1="1095.40" y1="1421.00" x2="1095.40" y2="1425.50" stroke="#333" stroke-width="1"/>
<text x="1095.4" y="1444.5" font-size="19.6" text-anchor="middle" fill="#000">0</text>
<line x1="1167.00" y1="1421.00" x2="1167.00" y2="1425.50" stroke="#333" stroke-width="1"/>
<text x="1167.0" y="1444.5" font-size="19.6" text-anchor="middle" fill="#000">100</text>
<line x1="1238.60" y1="1421.00" x2="1238.60" y2="1425.50" stroke="#333" stroke-width="1"/>
<text x="1238.6" y="1444.5" font-size="19.6" text-anchor="middle" fill="#000">200</text>
<text x="1126.0" y="1468.0" font-size="23.7" text-anchor="middle" fill="#000">Cost-benefit (billion USD)</text>
<text x="1130.8" y="1021.0" font-size="27.4" text-anchor="middle" fill="#000">1.5°C</text>
<text x="916.0" y="1027.5" font-size="22.3" text-anchor="middle" fill="#000">State</text>
<text x="981.3" y="1057.2" font-size="39.3" text-anchor="start" fill="#231815" font-weight="bold">d</text>
<rect x="1098.60" y="1356.50" width="16.2" height="8.8" fill="#71a3cb"/>
<text x="1116.9" y="1366.7" font-size="15.1" text-anchor="start" fill="#000">Benefit</text>
<rect x="1098.60" y="1370.70" width="16.2" height="8.8" fill="#e2686a"/>
<text x="1116.9" y="1380.8" font-size="15.1" text-anchor="start" fill="#000">Plant loss</text>
<rect x="1098.60" y="1384.90" width="16.2" height="8.8" fill="#fda452"/>
<text x="1116.9" y="1394.9" font-size="15.1" text-anchor="start" fill="#000">Tax &amp; employment loss</text>
<rect x="1584.90" y="1044.15" width="92.36" height="13.8" fill="#71a3cb"/>
<rect x="1570.79" y="1044.15" width="3.94" height="13.8" fill="#fda452"/>
<rect x="1574.73" y="1044.15" width="10.17" height="13.8" fill="#e2686a"/>
<line x1="1457.50" y1="1051.05" x2="1462.00" y2="1051.05" stroke="#333" stroke-width="1"/>
<text x="1452.5" y="1057.0" font-size="16.5" text-anchor="end" fill="#000">Uttar Pradesh</text>
<rect x="1584.90" y="1061.41" width="69.45" height="13.8" fill="#71a3cb"/>
<rect x="1577.38" y="1061.41" width="2.29" height="13.8" fill="#fda452"/>
<rect x="1579.67" y="1061.41" width="5.23" height="13.8" fill="#e2686a"/>
<line x1="1457.50" y1="1068.31" x2="1462.00" y2="1068.31" stroke="#333" stroke-width="1"/>
<text x="1452.5" y="1074.3" font-size="16.5" text-anchor="end" fill="#000">Chhattisgarh</text>
<rect x="1584.90" y="1078.67" width="77.83" height="13.8" fill="#71a3cb"/>
<rect x="1565.85" y="1078.67" width="4.94" height="13.8" fill="#fda452"/>
<rect x="1570.79" y="1078.67" width="14.11" height="13.8" fill="#e2686a"/>
<line x1="1457.50" y1="1085.57" x2="1462.00" y2="1085.57" stroke="#333" stroke-width="1"/>
<text x="1452.5" y="1091.6" font-size="16.5" text-anchor="end" fill="#000">Tamil Nadu</text>
<rect x="1584.90" y="1095.93" width="132.46" height="13.8" fill="#71a3cb"/>
<rect x="1502.56" y="1095.93" width="22.20" height="13.8" fill="#fda452"/>
<rect x="1524.76" y="1095.93" width="60.14" height="13.8" fill="#e2686a"/>
<line x1="1457.50" y1="1102.83" x2="1462.00" y2="1102.83" stroke="#333" stroke-width="1"/>
<text x="1452.5" y="1108.8" font-size="16.5" text-anchor="end" fill="#000">Maharashtra</text>
<rect x="1584.90" y="1113.19" width="50.55" height="13.8" fill="#71a3cb"/>
<rect x="1580.60" y="1113.19" width="1.36" height="13.8" fill="#fda452"/>
<rect x="1581.96" y="1113.19" width="2.94" height="13.8" fill="#e2686a"/>
<line x1="1457.50" y1="1120.09" x2="1462.00" y2="1120.09" stroke="#333" stroke-width="1"/>
<text x="1452.5" y="1126.1" font-size="16.5" text-anchor="end" fill="#000">Odisha</text>
<rect x="1584.90" y="1130.45" width="49.91" height="13.8" fill="#71a3cb"/>
<rect x="1577.74" y="1130.45" width="1.93" height="13.8" fill="#fda452"/>
<rect x="1579.67" y="1130.45" width="5.23" height="13.8" fill="#e2686a"/>
<line x1="1457.50" y1="1137.35" x2="1462.00" y2="1137.35" stroke="#333" stroke-width="1"/>
<text x="1452.5" y="1143.3" font-size="16.5" text-anchor="end" fill="#000">Madhya Pradesh</text>
<rect x="1584.90" y="1147.71" width="44.96" height="13.8" fill="#71a3cb"/>
<rect x="1578.31" y="1147.71" width="2.00" height="13.8" fill="#fda452"/>
<rect x="1580.32" y="1147.71" width="4.58" height="13.8" fill="#e2686a"/>
<line x1="1457.50" y1="1154.61" x2="1462.00" y2="1154.61" stroke="#333" stroke-width="1"/>
<text x="1452.5" y="1160.6" font-size="16.5" text-anchor="end" fill="#000">Telangana</text>
<rect x="1584.90" y="1164.97" width="42.24" height="13.8" fill="#71a3cb"/>
<rect x="1578.31" y="1164.97" width="2.00" height="13.8" fill="#fda452"/>
<rect x="1580.32" y="1164.97" width="4.58" height="13.8" fill="#e2686a"/>
<line x1="1457.50" y1="1171.87" x2="1462.00" y2="1171.87" stroke="#333" stroke-width="1"/>
<text x="1452.5" y="1177.9" font-size="16.5" text-anchor="end" fill="#000">Bihar</text>
<rect x="1584.90" y="1182.23" width="39.09" height="13.8" fill="#71a3cb"/>
<rect x="1577.74" y="1182.23" width="1.93" height="13.8" fill="#fda452"/>
<rect x="1579.67" y="1182.23" width="5.23" height="13.8" fill="#e2686a"/>
<line x1="1457.50" y1="1189.13" x2="1462.00" y2="1189.13" stroke="#333" stroke-width="1"/>
<text x="1452.5" y="1195.1" font-size="16.5" text-anchor="end" fill="#000">Andhra Pradesh</text>
<rect x="1584.90" y="1199.49" width="35.08" height="13.8" fill="#71a3cb"/>
<rect x="1580.96" y="1199.49" width="0.64" height="13.8" fill="#fda452"/>
<rect x="1581.61" y="1199.49" width="3.29" height="13.8" fill="#e2686a"/>
<line x1="1457.50" y1="1206.39" x2="1462.00" y2="1206.39" stroke="#333" stroke-width="1"/>
<text x="1452.5" y="1212.4" font-size="16.5" text-anchor="end" fill="#000">Jharkhand</text>
<rect x="1584.90" y="1216.75" width="22.70" height="13.8" fill="#71a3cb"/>
<rect x="1580.96" y="1216.75" width="0.64" height="13.8" fill="#fda452"/>
<rect x="1581.61" y="1216.75" width="3.29" height="13.8" fill="#e2686a"/>
<line x1="1457.50" y1="1223.65" x2="1462.00" y2="1223.65" stroke="#333" stroke-width="1"/>
<text x="1452.5" y="1229.7" font-size="16.5" text-anchor="end" fill="#000">West Bengal</text>
<rect x="1584.90" y="1234.01" width="19.05" height="13.8" fill="#71a3cb"/>
<rect x="1583.25" y="1234.01" width="0.36" height="13.8" fill="#fda452"/>
<rect x="1583.61" y="1234.01" width="1.29" height="13.8" fill="#e2686a"/>
<line x1="1457.50" y1="1240.91" x2="1462.00" y2="1240.91" stroke="#333" stroke-width="1"/>
<text x="1452.5" y="1246.9" font-size="16.5" text-anchor="end" fill="#000">Gujarat</text>
<rect x="1584.90" y="1251.27" width="22.34" height="13.8" fill="#71a3cb"/>
<rect x="1579.96" y="1251.27" width="1.00" height="13.8" fill="#fda452"/>
<rect x="1580.96" y="1251.27" width="3.94" height="13.8" fill="#e2686a"/>
<line x1="1457.50" y1="1258.17" x2="1462.00" y2="1258.17" stroke="#333" stroke-width="1"/>
<text x="1452.5" y="1264.2" font-size="16.5" text-anchor="end" fill="#000">Rajasthan</text>
<rect x="1584.90" y="1268.53" width="21.05" height="13.8" fill="#71a3cb"/>
<rect x="1575.02" y="1268.53" width="2.72" height="13.8" fill="#fda452"/>
<rect x="1577.74" y="1268.53" width="7.16" height="13.8" fill="#e2686a"/>
<line x1="1457.50" y1="1275.43" x2="1462.00" y2="1275.43" stroke="#333" stroke-width="1"/>
<text x="1452.5" y="1281.4" font-size="16.5" text-anchor="end" fill="#000">Karnataka</text>
<rect x="1584.90" y="1285.79" width="12.46" height="13.8" fill="#71a3cb"/>
<rect x="1581.96" y="1285.79" width="0.93" height="13.8" fill="#fda452"/>
<rect x="1582.90" y="1285.79" width="2.00" height="13.8" fill="#e2686a"/>
<line x1="1457.50" y1="1292.69" x2="1462.00" y2="1292.69" stroke="#333" stroke-width="1"/>
<text x="1452.5" y="1298.7" font-size="16.5" text-anchor="end" fill="#000">Punjab</text>
<rect x="1584.90" y="1303.05" width="11.46" height="13.8" fill="#71a3cb"/>
<rect x="1583.25" y="1303.05" width="0.64" height="13.8" fill="#fda452"/>
<rect x="1583.90" y="1303.05" width="1.00" height="13.8" fill="#e2686a"/>
<line x1="1457.50" y1="1309.95" x2="1462.00" y2="1309.95" stroke="#333" stroke-width="1"/>
<text x="1452.5" y="1316.0" font-size="16.5" text-anchor="end" fill="#000">Assam</text>
<rect x="1584.90" y="1320.31" width="9.16" height="13.8" fill="#71a3cb"/>
<rect x="1582.61" y="1320.31" width="0.64" height="13.8" fill="#fda452"/>
<rect x="1583.25" y="1320.31" width="1.65" height="13.8" fill="#e2686a"/>
<line x1="1457.50" y1="1327.21" x2="1462.00" y2="1327.21" stroke="#333" stroke-width="1"/>
<text x="1452.5" y="1333.2" font-size="16.5" text-anchor="end" fill="#000">Haryana</text>
<line x1="1457.50" y1="1344.47" x2="1462.00" y2="1344.47" stroke="#333" stroke-width="1"/>
<text x="1452.5" y="1350.5" font-size="16.5" text-anchor="end" fill="#000">Uttarakhand</text>
<line x1="1457.50" y1="1361.73" x2="1462.00" y2="1361.73" stroke="#333" stroke-width="1"/>
<text x="1452.5" y="1367.7" font-size="16.5" text-anchor="end" fill="#000">Meghalaya</text>
<line x1="1457.50" y1="1378.99" x2="1462.00" y2="1378.99" stroke="#333" stroke-width="1"/>
<text x="1452.5" y="1385.0" font-size="16.5" text-anchor="end" fill="#000">Kerala</text>
<line x1="1457.50" y1="1396.25" x2="1462.00" y2="1396.25" stroke="#333" stroke-width="1"/>
<text x="1452.5" y="1402.2" font-size="16.5" text-anchor="end" fill="#000">Himachal Pradesh</text>
<line x1="1584.50" y1="1026.50" x2="1584.50" y2="1421.50" stroke="#000" stroke-width="1.2"/>
<rect x="1462.50" y="1026.5" width="305.00" height="395" fill="none" stroke="#1e1e1e" stroke-width="1.1"/>
<line x1="1513.30" y1="1421.00" x2="1513.30" y2="1425.50" stroke="#333" stroke-width="1"/>
<text x="1513.3" y="1444.5" font-size="19.6" text-anchor="middle" fill="#000">-100</text>
<line x1="1584.90" y1="1421.00" x2="1584.90" y2="1425.50" stroke="#333" stroke-width="1"/>
<text x="1584.9" y="1444.5" font-size="19.6" text-anchor="middle" fill="#000">0</text>
<line x1="1656.50" y1="1421.00" x2="1656.50" y2="1425.50" stroke="#333" stroke-width="1"/>
<text x="1656.5" y="1444.5" font-size="19.6" text-anchor="middle" fill="#000">100</text>
<line x1="1728.10" y1="1421.00" x2="1728.10" y2="1425.50" stroke="#333" stroke-width="1"/>
<text x="1728.1" y="1444.5" font-size="19.6" text-anchor="middle" fill="#000">200</text>
<text x="1615.1" y="1468.0" font-size="23.7" text-anchor="middle" fill="#000">Cost-benefit (billion USD)</text>
<text x="1611.5" y="1021.0" font-size="27.4" text-anchor="middle" fill="#000">2°C</text>
<text x="1411.5" y="1027.5" font-size="22.3" text-anchor="middle" fill="#000">State</text>
<text x="1469.3" y="1058.3" font-size="40.2" text-anchor="start" fill="#231815" font-weight="bold">e</text>
<rect x="1588.10" y="1356.50" width="16.2" height="8.8" fill="#71a3cb"/>
<text x="1606.4" y="1366.7" font-size="15.1" text-anchor="start" fill="#000">Benefit</text>
<rect x="1588.10" y="1370.70" width="16.2" height="8.8" fill="#e2686a"/>
<text x="1606.4" y="1380.8" font-size="15.1" text-anchor="start" fill="#000">Plant loss</text>
<rect x="1588.10" y="1384.90" width="16.2" height="8.8" fill="#fda452"/>
<text x="1606.4" y="1394.9" font-size="15.1" text-anchor="start" fill="#000">Tax &amp; employment loss</text>
</svg>
</body></html>
